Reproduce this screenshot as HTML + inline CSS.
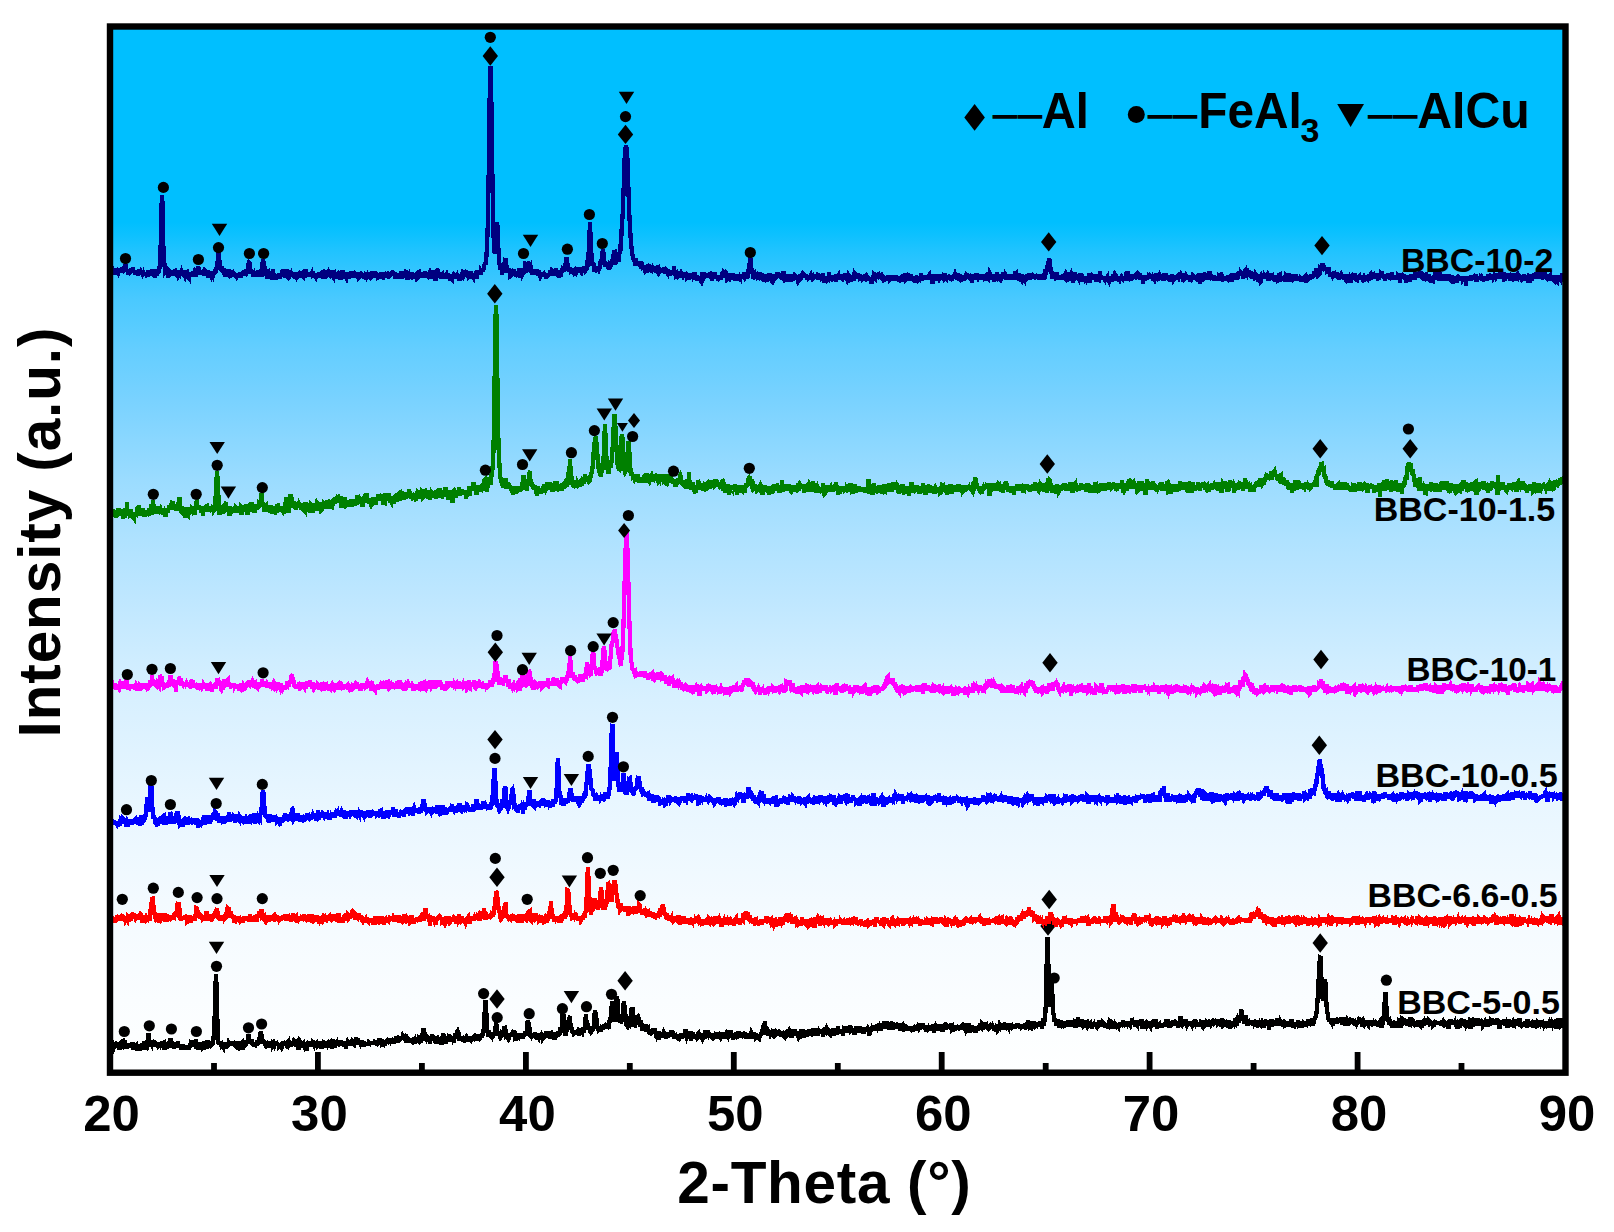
<!DOCTYPE html>
<html lang="en"><head><meta charset="utf-8"><title>XRD patterns</title>
<style>
html,body{margin:0;padding:0;background:#fff;}
body{width:1614px;height:1232px;overflow:hidden;}
svg{display:block;}
text{font-family:"Liberation Sans",Arial,Helvetica,sans-serif;font-weight:bold;fill:#000;}
.tk{font-size:50.6px;text-anchor:middle;}
.lb{font-size:32.3px;}
.lg{font-size:50px;}
.ds{font-size:23.4px;letter-spacing:1.6px;stroke:#000;stroke-width:1.3px;}
.ax{font-size:58.5px;}
.cv{shape-rendering:crispEdges;fill:none;stroke-width:4.3;stroke-linejoin:miter;stroke-miterlimit:3;stroke-linecap:butt;}
</style></head><body>
<svg width="1614" height="1232" viewBox="0 0 1614 1232">
<defs><linearGradient id="bg" x1="0" y1="0" x2="0" y2="1">
<stop offset="0" stop-color="#00bfff"/><stop offset="0.1869" stop-color="#00bfff"/><stop offset="0.1993" stop-color="#0dc1ff"/><stop offset="0.2136" stop-color="#1fc3ff"/><stop offset="0.2327" stop-color="#32c5ff"/><stop offset="0.2614" stop-color="#4ac9ff"/><stop offset="0.3092" stop-color="#64ceff"/><stop offset="0.357" stop-color="#79d2ff"/><stop offset="0.3952" stop-color="#8ad7ff"/><stop offset="0.4335" stop-color="#9bdcff"/><stop offset="0.4908" stop-color="#afe2ff"/><stop offset="0.5482" stop-color="#bfe7ff"/><stop offset="0.6055" stop-color="#cfedff"/><stop offset="0.6438" stop-color="#d8f0ff"/><stop offset="0.7393" stop-color="#e8f6ff"/><stop offset="0.8349" stop-color="#f3faff"/><stop offset="0.9305" stop-color="#fafdff"/><stop offset="0.9974" stop-color="#feffff"/>
</linearGradient></defs>
<rect x="0" y="0" width="1614" height="1232" fill="#fff"/>
<rect x="110.0" y="26.5" width="1455.5" height="1046.2" fill="url(#bg)"/>
<g id="c6">
<path class="cv" stroke="#000000" d="M110.0 1047.0l.5-2.1l.5 .2l.5-1.1l.5-.4l.5-.4l.5 4.1l.5 1.2l.5-1.4l.5-.4l.5-.1l.5-.9l.5 2.1l.5-3.5l.5 3.6l.5-2.5l.5 .1l.5-2.6l.5 2.3l.5 4.6l.5-5.4l.5-.7l.5 1.6l.5 1.3l.5 .2l.5-3.8l.5-1.9l.5-.3l.5 2.7l.5-3.0l.5 7.6l.5-4.4l.5 .9l.5 3.7l.5-5.2l.5 2.2l.5-1.2l.5 2.6l.5-2.5l.5 1.9l.5-2.1l.5 3.6l.5-2.9l.5-1.4l.5 3.3l.5-4.5l.5 7.5l.5-2.2l.5-.2l.5-.5l.5 2.2l.5-2.4l.5-.3l.5-.6l.5 1.7l.5 3.0l.5-5.2l.5 3.9l.5-1.4l.5 .4l.5 2.0l.5-1.7l.5-3.6l.5 1.8l.5-2.9l.5 3.2l.5-2.4l.5 4.9l.5-2.3l.5-6.2l.5 7.6l.5-4.3l.5-.7l.5 3.1l.5 .6l.5-2.1l.5-8.8l.5-3.1l.5 7.0l.5 1.0l.5-.9l.5 6.8l.5-2.9l.5 .8l.5-2.6l.5 2.4l.5-.3l.5 .1l.5-1.6l.5 .5l.5 1.9l.5-1.2l.5 .9l.5 .2l.5 0l.5 .7l.5-1.1l.5 2.5l.5-1.7l.5-3.0l.5 1.3l.5 1.1l.5-1.1l.5 3.1l.5-6.1l.5 4.8l.5 .3l.5-3.4l.5-.2l.5 7.4l.5-3.8l.5-.2l.5-2.4l.5 3.6l.5-2.6l.5 .2l.5 2.2l.5 1.2l.5-2.8l.5-4.0l.5 1.1l.5-4.0l.5 6.2l.5-1.6l.5-.2l.5 .7l.5 1.6l.5 1.8l.5 1.5l.5-1.4l.5-4.3l.5 1.0l.5 2.7l.5-2.1l.5 1.5l.5-3.0l.5-1.5l.5 3.8l.5 .5l.5 2.1l.5-2.7l.5 1.2l.5 3.1l.5-1.3l.5-1.8l.5-1.4l.5 3.4l.5-2.8l.5 4.1l.5-2.0l.5 .2l.5 2.2l.5-2.6l.5 1.0l.5-2.4l.5 1.4l.5 .3l.5-.6l.5 2.7l.5-3.8l.5 1.7l.5-3.0l.5 .8l.5-4.8l.5 6.0l.5-1.3l.5-.2l.5-1.8l.5 .1l.5 .3l.5 .2l.5 2.5l.5-6.7l.5 9.4l.5-3.9l.5-1.1l.5 5.5l.5-5.7l.5 2.3l.5-3.9l.5 7.1l.5-3.3l.5 1.2l.5 1.3l.5-4.2l.5 3.0l.5-.6l.5 2.6l.5-1.1l.5-6.7l.5 5.2l.5-4.4l.5 1.3l.5 .9l.5 4.5l.5-8.6l.5 3.4l.5-1.2l.5 2.2l.5 .4l.5-2.1l.5-2.0l.5 3.5l.5-2.3l.5 2.6l.5-.4l.5-.6l.5-5.3l.5-6.5l.5-10.5l.5-17.1l.5-20.2l.5-10.0l.5 10.2l.5 22.4l.5 16.7l.5 13.8l.5 5.5l.5 2.1l.5-4.1l.5 3.6l.5-3.3l.5 1.4l.5 3.1l.5-.6l.5-2.8l.5 5.0l.5 .7l.5-3.9l.5 0l.5-1.8l.5 3.0l.5 2.7l.5-1.1l.5-.2l.5-1.1l.5-.6l.5-1.9l.5 1.1l.5 1.2l.5-2.1l.5 .2l.5 0l.5 1.9l.5-1.7l.5 2.2l.5-2.1l.5-.3l.5 1.2l.5 .5l.5 .4l.5-3.9l.5 2.9l.5-.1l.5-1.5l.5 2.5l.5 .8l.5-3.8l.5 3.1l.5 1.3l.5-3.9l.5-1.7l.5 4.3l.5-1.5l.5-.7l.5 6.0l.5-3.8l.5-2.9l.5 2.0l.5 .3l.5 .4l.5-.7l.5-4.9l.5 3.4l.5-1.2l.5-.5l.5-4.5l.5-2.7l.5 8.7l.5-3.0l.5 3.5l.5-1.8l.5 1.5l.5-4.1l.5 4.6l.5 .3l.5-1.7l.5 2.1l.5 2.6l.5-4.7l.5 .8l.5 .8l.5-1.6l.5 2.9l.5-1.7l.5-3.1l.5 3.9l.5-3.1l.5 2.1l.5-4.9l.5 .1l.5-6.7l.5 1.5l.5 1.0l.5 4.2l.5 2.9l.5-.1l.5 .1l.5 .3l.5 1.2l.5 1.1l.5-.6l.5-.2l.5 2.7l.5-.4l.5-1.9l.5 .2l.5-2.6l.5 4.7l.5 1.7l.5-5.3l.5 5.6l.5-3.0l.5-1.0l.5 1.7l.5-1.1l.5 .9l.5-.1l.5-1.3l.5 1.3l.5-1.5l.5-2.0l.5 1.5l.5-.2l.5 2.8l.5-2.0l.5 1.3l.5-1.7l.5 3.4l.5-.4l.5-3.4l.5 1.7l.5 1.2l.5-.9l.5 1.6l.5-1.1l.5-2.2l.5 2.1l.5-2.3l.5-.3l.5 .5l.5 2.7l.5-4.8l.5 1.6l.5 3.6l.5 .3l.5-5.3l.5-.6l.5 3.5l.5 0l.5 .4l.5 1.4l.5-2.8l.5-1.5l.5 2.1l.5-.3l.5 1.5l.5-2.7l.5-1.7l.5 .6l.5-.3l.5-1.0l.5 6.9l.5-3.0l.5-2.1l.5-.6l.5 1.4l.5 6.8l.5-7.6l.5 5.0l.5-5.5l.5 .7l.5 4.7l.5-4.5l.5 5.3l.5-6.1l.5 1.7l.5-.4l.5 2.9l.5 1.1l.5-1.2l.5-.8l.5-.4l.5 6.6l.5-5.4l.5-2.5l.5 1.6l.5-3.8l.5 5.8l.5-5.2l.5 1.7l.5 .1l.5 .6l.5 1.1l.5 1.7l.5-1.6l.5-3.2l.5 .4l.5 1.2l.5 1.6l.5-1.2l.5-.6l.5 0l.5-.5l.5 1.7l.5-1.2l.5 .8l.5-1.1l.5 3.9l.5-4.6l.5 2.0l.5-.8l.5-2.0l.5 5.7l.5 1.3l.5-5.1l.5 2.3l.5-3.5l.5 .3l.5 1.1l.5 4.5l.5-5.2l.5 2.9l.5-1.1l.5 .7l.5-2.1l.5-.5l.5 1.5l.5 2.7l.5-6.8l.5 7.4l.5-5.2l.5 2.2l.5-.4l.5 4.7l.5-8.6l.5-1.0l.5 3.7l.5-2.0l.5 1.6l.5 5.5l.5-3.5l.5-1.8l.5-.2l.5-.7l.5 1.5l.5 .4l.5-2.7l.5 1.4l.5 .7l.5 .6l.5-.2l.5-3.5l.5 2.1l.5 .2l.5 3.1l.5-.9l.5-3.6l.5 3.1l.5 2.5l.5-1.6l.5 0l.5 3.2l.5-2.7l.5-1.6l.5-1.8l.5 1.1l.5-3.2l.5 5.5l.5-1.4l.5-1.3l.5-.6l.5 1.3l.5-1.7l.5-1.1l.5 .5l.5 2.5l.5-.1l.5 .6l.5-2.8l.5-1.2l.5 2.6l.5-5.8l.5 6.2l.5-1.4l.5 3.3l.5-6.5l.5 1.9l.5 3.4l.5-1.6l.5 .9l.5-2.8l.5 1.1l.5 1.0l.5-2.4l.5 3.8l.5-2.2l.5 4.7l.5-4.1l.5 1.3l.5-.1l.5-1.2l.5 1.9l.5 1.7l.5-2.1l.5 .1l.5-.5l.5 1.9l.5-2.7l.5 .5l.5-2.2l.5 3.3l.5-2.3l.5 2.3l.5-1.7l.5 2.4l.5-3.4l.5 3.5l.5-3.6l.5 3.0l.5-2.4l.5 .3l.5 1.1l.5 .3l.5 1.1l.5-3.9l.5 2.2l.5-.6l.5-2.2l.5-2.3l.5 4.3l.5-1.7l.5 0l.5-1.1l.5 4.3l.5-.4l.5 1.2l.5 .2l.5-1.1l.5-3.5l.5 5.1l.5-2.6l.5-1.5l.5 1.4l.5-2.8l.5 2.4l.5-1.6l.5 .6l.5-.6l.5 0l.5 .7l.5-2.3l.5 3.3l.5-1.1l.5-.2l.5 1.4l.5-1.9l.5 .6l.5 2.3l.5-3.6l.5 2.8l.5-2.6l.5-3.8l.5 6.3l.5-2.9l.5 0l.5 2.7l.5-1.3l.5-2.5l.5 .5l.5-.1l.5-1.0l.5-1.2l.5 2.1l.5-2.7l.5 2.8l.5-3.0l.5 .8l.5-.3l.5 2.5l.5 .4l.5-1.7l.5 .2l.5 5.4l.5-4.0l.5 2.8l.5-3.4l.5 .7l.5-1.0l.5 2.5l.5-2.6l.5 4.0l.5-1.7l.5-.1l.5 .6l.5-3.1l.5 2.1l.5 .4l.5 .2l.5-.8l.5 3.6l.5-3.9l.5 2.8l.5-2.4l.5-2.1l.5 3.1l.5-1.6l.5 1.2l.5 .6l.5-1.7l.5-1.1l.5 4.0l.5-5.3l.5-.2l.5 .9l.5-4.1l.5 1.0l.5-6.5l.5 9.3l.5 1.4l.5 .1l.5-.7l.5-.8l.5 1.1l.5-1.4l.5 .9l.5 1.4l.5 0l.5 1.8l.5-1.8l.5 4.4l.5-3.6l.5-3.4l.5 2.4l.5-5.1l.5 1.6l.5 4.6l.5-1.6l.5 .8l.5-1.7l.5 .5l.5 3.6l.5 .1l.5-4.1l.5-.1l.5 4.9l.5-3.1l.5 1.8l.5 .6l.5-.2l.5-2.2l.5 0l.5 .6l.5 4.7l.5-7.0l.5-1.2l.5 .6l.5-1.6l.5-.2l.5 1.0l.5 3.6l.5-2.9l.5 6.3l.5-2.5l.5-1.9l.5-2.0l.5 4.3l.5-2.8l.5-4.9l.5 8.6l.5-6.2l.5 1.2l.5 3.7l.5-1.0l.5-2.0l.5 1.2l.5-1.4l.5 3.1l.5 2.2l.5-6.0l.5-1.6l.5 .3l.5 1.1l.5-3.1l.5-2.2l.5-.7l.5 1.7l.5 .5l.5 1.9l.5 5.5l.5-2.4l.5 .3l.5 .4l.5-2.7l.5 1.7l.5 1.1l.5 2.2l.5-1.2l.5 .4l.5-.4l.5-3.0l.5 1.6l.5-.8l.5 2.9l.5-1.6l.5 .1l.5-2.8l.5 5.4l.5-1.0l.5-1.1l.5 0l.5 .5l.5-3.2l.5 1.3l.5 1.2l.5-2.5l.5 1.1l.5-.8l.5 .7l.5-2.1l.5 1.4l.5-.6l.5-.5l.5-2.2l.5 5.5l.5-4.3l.5 5.6l.5-3.2l.5 1.2l.5 .6l.5-.5l.5-3.1l.5-.4l.5 2.1l.5-2.5l.5-.5l.5-.1l.5-2.4l.5-9.4l.5-6.0l.5-13.9l.5-1.8l.5 2.4l.5 14.0l.5 10.8l.5 3.0l.5 5.3l.5-1.2l.5-4.4l.5 4.7l.5-3.0l.5 2.8l.5 .8l.5-.6l.5 .9l.5-1.6l.5 2.7l.5-2.0l.5-2.6l.5 2.8l.5-5.0l.5-3.9l.5-2.4l.5 .8l.5 5.0l.5 3.8l.5-2.3l.5 1.2l.5 .3l.5 2.2l.5 1.2l.5-1.4l.5 1.3l.5-.8l.5-4.5l.5 3.5l.5-.7l.5-3.3l.5 .9l.5-5.7l.5 3.1l.5 2.6l.5 3.6l.5-.7l.5 3.6l.5-1.5l.5 1.1l.5-1.6l.5 1.5l.5-1.3l.5-2.3l.5 2.5l.5-2.1l.5-.6l.5 1.9l.5-1.3l.5 0l.5 2.4l.5-4.1l.5-1.9l.5 5.9l.5 4.7l.5-6.7l.5 2.1l.5-3.7l.5 2.9l.5 2.2l.5-3.3l.5 1.1l.5-1.4l.5 1.6l.5 2.1l.5-1.8l.5-2.6l.5 3.1l.5 .2l.5 1.3l.5-2.1l.5-2.7l.5 1.2l.5-3.8l.5 4.2l.5-1.6l.5-.2l.5-2.5l.5-10.2l.5 1.6l.5 .8l.5 5.3l.5 .3l.5 .3l.5 6.6l.5 .7l.5-2.0l.5 2.6l.5-3.2l.5 3.9l.5-2.1l.5 .2l.5 .5l.5-1.7l.5 0l.5 4.4l.5-3.6l.5 3.7l.5-5.4l.5 3.1l.5-.3l.5 1.2l.5-1.7l.5 1.5l.5-3.4l.5 2.1l.5-1.1l.5 1.3l.5 2.8l.5-.7l.5-1.0l.5-4.4l.5 2.6l.5-2.3l.5 1.7l.5-.8l.5-2.3l.5 2.3l.5 .5l.5 2.5l.5-5.1l.5 4.3l.5-3.7l.5 4.6l.5 1.3l.5-5.7l.5-.4l.5 1.1l.5 3.0l.5-2.6l.5 .3l.5-1.8l.5 7.2l.5-7.5l.5 1.4l.5 .4l.5-.3l.5 1.6l.5-.6l.5 2.0l.5-2.4l.5-.4l.5 1.3l.5-3.8l.5 .4l.5-1.0l.5-2.3l.5-4.6l.5-9.3l.5 .9l.5-.9l.5 4.8l.5 8.0l.5 2.8l.5 5.2l.5-7.1l.5 2.5l.5-1.4l.5-1.3l.5-3.6l.5-2.7l.5-4.4l.5 2.4l.5-4.1l.5 10.3l.5 1.9l.5 .2l.5 4.4l.5-1.3l.5 2.3l.5-2.5l.5 2.4l.5-.5l.5 1.3l.5-4.3l.5 3.5l.5-1.3l.5-.5l.5 3.5l.5-2.0l.5 1.0l.5 1.4l.5-3.2l.5-1.0l.5-.1l.5-2.4l.5 4.2l.5-2.0l.5 1.1l.5-1.9l.5 .5l.5 1.5l.5-3.5l.5-5.5l.5-5.2l.5-3.4l.5 7.0l.5 2.0l.5 6.4l.5-6.5l.5 4.2l.5 .7l.5 .8l.5 3.4l.5-1.4l.5 .9l.5-.8l.5-2.4l.5-2.4l.5 3.7l.5-1.8l.5-6.9l.5-7.1l.5-3.6l.5 1.8l.5 10.7l.5-4.7l.5 8.4l.5 1.2l.5-1.3l.5 3.2l.5-3.0l.5 1.6l.5 1.6l.5 1.6l.5-2.2l.5-1.7l.5 .5l.5-.3l.5 1.3l.5-2.5l.5 .3l.5-.1l.5-1.3l.5 .3l.5-1.3l.5 3.4l.5-2.4l.5 .4l.5-2.8l.5 4.9l.5-1.2l.5-6.6l.5 1.5l.5-4.3l.5-1.9l.5-7.0l.5-8.1l.5 9.0l.5 2.1l.5 4.8l.5 3.8l.5 1.1l.5-3.1l.5 2.1l.5-9.7l.5-10.0l.5-5.0l.5 3.9l.5 9.7l.5 7.9l.5 4.8l.5-3.7l.5 .4l.5 4.1l.5-.9l.5-3.0l.5 .7l.5-1.9l.5-.6l.5-13.4l.5-2.8l.5 5.0l.5 4.6l.5 4.5l.5 6.1l.5 4.0l.5 .6l.5-3.4l.5 2.8l.5-2.6l.5 2.9l.5 .3l.5-4.9l.5-4.2l.5-3.2l.5-5.1l.5 .8l.5-2.2l.5 9.6l.5 3.6l.5 .7l.5 6.1l.5-1.3l.5-3.1l.5-5.4l.5 4.0l.5 1.4l.5-6.1l.5-.3l.5 1.7l.5 1.4l.5 5.5l.5-1.1l.5 3.4l.5-6.7l.5 3.6l.5 6.4l.5-5.5l.5 .8l.5-1.6l.5 1.5l.5 3.5l.5 .2l.5-3.7l.5-1.0l.5 3.9l.5 1.7l.5-2.2l.5-.3l.5 3.1l.5 2.4l.5-2.7l.5-1.5l.5 4.3l.5 .1l.5-1.2l.5 .1l.5-.8l.5-.2l.5-3.0l.5 4.2l.5-1.4l.5-.2l.5 2.1l.5 1.8l.5-.3l.5 1.7l.5-1.1l.5-2.9l.5 7.7l.5-6.3l.5-.3l.5 .8l.5 1.1l.5-3.4l.5 5.2l.5-1.5l.5-2.9l.5 1.0l.5-1.3l.5 1.1l.5 2.2l.5-2.3l.5 .4l.5 4.5l.5-3.0l.5 .5l.5 .1l.5 0l.5-4.0l.5 2.1l.5 2.4l.5-1.3l.5 1.7l.5-6.3l.5 1.7l.5 4.1l.5-5.1l.5 4.9l.5-1.0l.5 1.1l.5 2.0l.5-1.7l.5-.1l.5-.7l.5 1.1l.5 .5l.5-3.1l.5 3.7l.5-3.8l.5 1.4l.5 1.2l.5-1.7l.5 2.6l.5-2.9l.5 2.4l.5-.1l.5-2.3l.5-1.3l.5 4.6l.5-2.1l.5-.3l.5-2.7l.5-3.4l.5 6.5l.5 1.4l.5-1.4l.5 .2l.5-4.3l.5 1.6l.5 2.8l.5-2.5l.5 1.5l.5-1.4l.5 6.5l.5-4.1l.5-.6l.5-4.0l.5 7.0l.5-2.9l.5-1.7l.5 3.0l.5-1.8l.5 2.6l.5-3.0l.5 2.0l.5 1.1l.5-.5l.5-4.1l.5-.4l.5 2.6l.5 3.6l.5-5.0l.5 3.1l.5-3.6l.5 2.9l.5 1.0l.5 1.2l.5-1.4l.5-2.0l.5 3.7l.5-5.3l.5 4.6l.5-7.8l.5 3.7l.5 2.1l.5-3.2l.5-2.5l.5 3.5l.5 .9l.5-1.0l.5 3.1l.5-2.7l.5 3.1l.5-1.8l.5 .6l.5-1.6l.5-1.3l.5 3.4l.5-1.7l.5 2.4l.5-.4l.5-1.8l.5 .6l.5-.7l.5-.1l.5-2.6l.5 3.8l.5 2.4l.5-4.3l.5-1.7l.5 4.6l.5-1.5l.5 .9l.5 1.0l.5-.9l.5-2.8l.5-1.4l.5 2.8l.5-2.7l.5 5.7l.5-2.6l.5-.7l.5-.8l.5 2.8l.5 .1l.5-1.3l.5 .7l.5-6.8l.5 6.5l.5-2.0l.5-1.3l.5-1.1l.5-1.8l.5 2.6l.5 1.2l.5 .3l.5 2.1l.5 3.6l.5-7.1l.5 5.1l.5-4.3l.5 3.5l.5 .1l.5-5.1l.5 6.6l.5-2.9l.5 0l.5-1.3l.5-3.6l.5 3.7l.5-.9l.5 3.8l.5-5.3l.5 5.7l.5-1.8l.5 1.7l.5-3.7l.5-.3l.5 2.3l.5-2.6l.5 1.3l.5-2.1l.5 3.9l.5 .5l.5-.1l.5-.2l.5-1.0l.5 .1l.5-2.4l.5 4.6l.5-3.0l.5 3.1l.5-5.1l.5 3.2l.5-4.0l.5 .8l.5 3.0l.5-1.2l.5 .5l.5 .1l.5 3.4l.5-3.0l.5-3.2l.5 4.2l.5-.5l.5-2.0l.5 2.7l.5-2.7l.5 3.5l.5 .5l.5-2.5l.5-.1l.5-1.1l.5-1.8l.5 1.4l.5-2.5l.5-1.7l.5 .3l.5-4.5l.5-3.0l.5 .9l.5-3.0l.5 6.9l.5 1.5l.5 5.3l.5-4.0l.5 3.1l.5 0l.5-1.4l.5 1.1l.5-2.8l.5 2.0l.5 1.9l.5-1.0l.5 1.6l.5-2.3l.5 2.2l.5-5.4l.5 4.5l.5 3.4l.5-4.9l.5 2.9l.5-.6l.5 .9l.5-3.5l.5 .6l.5 .2l.5 1.3l.5-2.2l.5 1.6l.5 1.5l.5-2.6l.5 .6l.5 .9l.5 2.4l.5-5.8l.5 3.2l.5 .6l.5 .9l.5 .7l.5 .5l.5-5.3l.5 3.0l.5 .7l.5-2.2l.5 1.7l.5-4.7l.5 1.1l.5-1.5l.5 4.3l.5-.3l.5-2.5l.5 .8l.5 .7l.5 4.8l.5-5.0l.5 2.8l.5-1.1l.5 1.2l.5-2.4l.5-3.3l.5 3.5l.5 .3l.5-.3l.5-1.0l.5 3.4l.5-4.4l.5 4.0l.5 1.7l.5-1.2l.5-1.0l.5-1.2l.5 1.0l.5-1.9l.5 4.7l.5-3.3l.5-4.4l.5 3.6l.5 1.0l.5 3.4l.5-7.0l.5 6.5l.5-2.4l.5-3.5l.5 3.4l.5 2.0l.5-2.7l.5 1.2l.5-2.4l.5-.4l.5-2.5l.5 2.4l.5 1.0l.5 1.4l.5 .1l.5-3.4l.5 2.3l.5-4.8l.5 3.2l.5-3.0l.5 3.5l.5-1.4l.5 1.5l.5 3.4l.5-5.7l.5-1.1l.5 3.2l.5 3.1l.5-1.9l.5-1.6l.5 .9l.5 1.1l.5-2.4l.5-2.3l.5 4.6l.5-.9l.5-.7l.5 4.6l.5-2.4l.5-4.2l.5 2.7l.5-1.8l.5 0l.5-1.6l.5-1.2l.5 1.2l.5 3.3l.5 2.4l.5-3.7l.5-1.1l.5 3.3l.5 .6l.5-2.8l.5 .3l.5-1.9l.5 2.4l.5-.4l.5-3.1l.5 5.2l.5 1.3l.5-3.5l.5-1.1l.5-.2l.5 .4l.5 1.9l.5-.2l.5-3.0l.5-3.2l.5 4.6l.5-.1l.5 1.2l.5-.3l.5 2.3l.5-3.2l.5 2.1l.5-3.4l.5 1.7l.5 4.9l.5-6.6l.5-1.7l.5 .1l.5 .2l.5-.2l.5 .7l.5 1.8l.5 2.4l.5-4.2l.5-.4l.5 2.5l.5-3.2l.5 .9l.5-1.0l.5 0l.5 3.0l.5-.6l.5 1.2l.5-2.8l.5 3.2l.5-2.0l.5 2.0l.5 3.5l.5-5.3l.5-.5l.5-.8l.5-1.9l.5 4.8l.5-2.7l.5 1.7l.5-.4l.5-.2l.5-1.3l.5 2.1l.5-.2l.5-2.3l.5-.9l.5 5.1l.5-2.8l.5-2.4l.5 6.6l.5-1.0l.5-2.4l.5-2.3l.5 2.4l.5-2.3l.5 3.2l.5-2.2l.5-.8l.5 1.3l.5 .8l.5 5.3l.5-6.6l.5 1.7l.5 .4l.5-3.4l.5 1.9l.5-1.3l.5 .8l.5-.1l.5 1.7l.5-3.6l.5 3.3l.5-4.9l.5 4.0l.5-4.4l.5 1.1l.5 3.1l.5-3.2l.5 1.8l.5-.8l.5 3.6l.5-7.1l.5 2.7l.5 .9l.5 3.1l.5-2.8l.5-1.2l.5-2.9l.5 1.9l.5-1.1l.5-3.0l.5 3.6l.5-1.6l.5-2.1l.5 5.9l.5 .2l.5-6.3l.5 8.4l.5-2.3l.5-.3l.5-.3l.5-.1l.5 .2l.5-2.6l.5-.2l.5 3.9l.5-1.6l.5 3.8l.5-5.3l.5 2.7l.5-3.1l.5 .1l.5-1.1l.5 5.8l.5-4.6l.5 .8l.5-1.0l.5 4.1l.5-3.3l.5 .2l.5 .3l.5 1.8l.5 3.3l.5-7.3l.5 5.4l.5 0l.5 1.1l.5-2.8l.5-1.1l.5 1.4l.5 2.2l.5-.4l.5-2.9l.5 .2l.5 2.3l.5 2.6l.5-3.0l.5 1.8l.5-2.8l.5 2.1l.5-2.0l.5 1.5l.5-2.1l.5 2.9l.5 .4l.5-1.7l.5-2.1l.5 2.9l.5 0l.5 .4l.5-.8l.5 2.0l.5-4.8l.5 3.6l.5-1.4l.5 2.2l.5-2.7l.5 .2l.5-1.4l.5 .7l.5 1.4l.5-.9l.5-2.7l.5 1.0l.5 1.4l.5-3.7l.5 4.2l.5 1.3l.5-4.9l.5 1.4l.5 2.4l.5-2.7l.5 2.1l.5 1.3l.5 2.6l.5-2.1l.5 1.9l.5-2.8l.5 1.3l.5-.4l.5-1.5l.5 .7l.5-.3l.5 1.7l.5-3.0l.5 1.4l.5-1.5l.5 4.4l.5-1.7l.5-4.7l.5 7.9l.5-4.0l.5 .3l.5-1.5l.5-1.5l.5 .7l.5 2.4l.5-3.1l.5 4.8l.5-6.6l.5 6.0l.5-2.8l.5-2.0l.5 3.2l.5 .3l.5 0l.5-1.5l.5 4.6l.5-6.1l.5-.9l.5 4.5l.5-1.8l.5-3.0l.5-.2l.5 5.3l.5-2.4l.5 1.4l.5-4.4l.5 4.0l.5-1.5l.5 .2l.5 .5l.5-1.7l.5 1.8l.5 .8l.5-4.6l.5 4.6l.5-.7l.5 4.1l.5-3.0l.5-1.7l.5 1.7l.5 0l.5-3.8l.5 4.2l.5-1.2l.5 1.9l.5-2.0l.5-1.2l.5 .1l.5 .3l.5 1.1l.5-.4l.5-.6l.5-.6l.5 3.3l.5-1.4l.5-4.6l.5 2.5l.5 1.4l.5-2.4l.5-.1l.5-2.3l.5 5.0l.5 1.9l.5-1.1l.5 3.8l.5-1.9l.5-5.6l.5 3.7l.5-5.1l.5 4.0l.5 4.7l.5-2.5l.5-2.4l.5 .5l.5-.6l.5-.1l.5-1.2l.5 3.6l.5 1.1l.5-4.1l.5 4.2l.5 1.9l.5-5.6l.5 2.4l.5-1.1l.5-.5l.5 .3l.5 .3l.5 1.6l.5-3.1l.5 .1l.5-3.7l.5 4.7l.5 .3l.5-4.5l.5 .6l.5 3.7l.5-.2l.5 1.1l.5-7.0l.5 5.6l.5-1.7l.5-.5l.5-.3l.5 3.5l.5-1.3l.5 1.3l.5 .3l.5-.8l.5 0l.5-1.1l.5-1.1l.5-1.0l.5 .2l.5 1.0l.5 2.1l.5-1.5l.5 1.0l.5 2.7l.5-1.7l.5-.5l.5 .7l.5 2.2l.5-4.8l.5 .4l.5 3.6l.5-.7l.5-1.3l.5-1.0l.5 .2l.5-3.3l.5 .6l.5 2.1l.5-.8l.5 .6l.5 2.5l.5-3.3l.5 2.6l.5-5.8l.5 1.5l.5 1.4l.5-2.2l.5 5.1l.5-1.8l.5 1.3l.5-.4l.5-.5l.5 .8l.5-2.7l.5 4.3l.5-6.0l.5 3.9l.5-.9l.5-.5l.5 1.7l.5-.4l.5-3.0l.5 3.7l.5-2.5l.5 2.7l.5-1.7l.5 .1l.5 1.1l.5-2.7l.5 .1l.5 1.3l.5-3.7l.5 5.4l.5-2.2l.5-1.8l.5 1.7l.5-1.5l.5 1.5l.5-1.2l.5 3.0l.5-3.3l.5 2.8l.5-2.6l.5 3.9l.5-1.5l.5 .5l.5 .1l.5-4.1l.5 1.5l.5-2.6l.5 2.4l.5-2.5l.5-1.3l.5 2.6l.5 1.8l.5 1.8l.5 3.0l.5-6.1l.5 1.3l.5-1.1l.5 .4l.5 1.8l.5-.7l.5-2.6l.5-.1l.5 1.4l.5-1.2l.5 2.2l.5 .3l.5-1.5l.5-2.1l.5 3.7l.5-2.8l.5 2.9l.5-2.3l.5 .1l.5 2.4l.5-1.9l.5-.5l.5 5.2l.5-6.0l.5 .6l.5-1.4l.5-1.5l.5 .6l.5-2.3l.5-8.3l.5-11.7l.5-25.4l.5-28.3l.5-7.8l.5 12.8l.5 19.4l.5 23.5l.5 7.3l.5 6.0l.5-4.9l.5-12.4l.5-8.9l.5 7.3l.5 9.3l.5 18.2l.5-2.0l.5 5.5l.5 3.1l.5-2.5l.5 .9l.5 6.0l.5-4.4l.5 3.5l.5-5.9l.5 4.3l.5-3.9l.5 7.7l.5-3.9l.5-.3l.5-3.3l.5 5.2l.5 .7l.5-.6l.5 .3l.5-2.2l.5-1.8l.5 6.0l.5-4.4l.5 1.0l.5-.4l.5-1.8l.5 4.7l.5-4.3l.5 3.6l.5-1.6l.5-3.6l.5 3.4l.5-3.8l.5 2.9l.5 .6l.5 .8l.5-.1l.5 .1l.5 .2l.5-2.2l.5-2.1l.5 5.3l.5-2.5l.5 .8l.5 3.2l.5-3.2l.5-2.6l.5 5.0l.5-6.8l.5-2.4l.5 9.4l.5-6.0l.5-1.0l.5 3.6l.5 2.6l.5-5.2l.5-1.5l.5 6.2l.5 .4l.5-4.2l.5 2.6l.5-.9l.5 .7l.5 .8l.5-.8l.5 .2l.5-2.0l.5-.3l.5 1.9l.5 2.4l.5-.7l.5-3.0l.5 2.0l.5-1.4l.5-.4l.5 3.8l.5 .1l.5 1.3l.5-1.7l.5-4.3l.5 2.5l.5-.7l.5 1.4l.5-2.8l.5 2.0l.5 1.2l.5 .7l.5-2.5l.5 1.4l.5 .8l.5-.9l.5-2.5l.5 .2l.5 .8l.5 2.9l.5-1.7l.5-2.1l.5-.9l.5 .6l.5 4.7l.5-1.5l.5-3.7l.5 4.5l.5-1.6l.5 .3l.5-.2l.5-1.8l.5 5.2l.5-3.9l.5 4.2l.5-.8l.5-1.5l.5-4.3l.5 .7l.5-.4l.5 1.5l.5 5.4l.5-6.1l.5 3.9l.5-3.7l.5 .3l.5 .2l.5 5.3l.5-2.1l.5-2.3l.5 .8l.5-1.7l.5 3.8l.5-3.6l.5 1.8l.5 .8l.5-3.5l.5 3.4l.5-4.0l.5 1.3l.5 1.0l.5 .2l.5-1.4l.5 1.9l.5-3.4l.5-1.1l.5 3.6l.5-.3l.5-3.3l.5 4.2l.5-.2l.5-.8l.5 .6l.5-1.4l.5-2.0l.5 2.0l.5-1.4l.5 2.1l.5 .8l.5-3.4l.5 1.8l.5-1.5l.5 .6l.5-.6l.5 2.6l.5-1.2l.5 .4l.5-2.9l.5 4.3l.5 1.6l.5-3.8l.5 .9l.5 .8l.5 .8l.5-2.7l.5-.1l.5 .3l.5 1.5l.5 .9l.5-4.9l.5 3.4l.5-4.8l.5 6.3l.5 3.3l.5-7.2l.5 2.3l.5 .4l.5-1.6l.5 4.5l.5-1.6l.5-1.1l.5 1.5l.5-1.2l.5-3.5l.5 3.5l.5-1.0l.5-.9l.5-1.4l.5 5.2l.5 .7l.5-3.9l.5 1.1l.5-1.3l.5 .4l.5 3.0l.5-4.2l.5-2.6l.5 4.8l.5-1.2l.5 .1l.5-.5l.5 2.7l.5 3.8l.5-4.8l.5 .7l.5-.6l.5-.4l.5 3.2l.5-3.4l.5 2.1l.5-1.4l.5 3.2l.5-4.9l.5 3.1l.5-1.2l.5 .1l.5 .1l.5-.5l.5 2.1l.5-3.7l.5 .5l.5-1.5l.5 2.7l.5-5.1l.5 4.6l.5-2.1l.5 1.7l.5 3.6l.5-1.4l.5-4.1l.5 2.7l.5-3.1l.5 2.3l.5-.3l.5-2.7l.5 1.9l.5-.5l.5 2.4l.5-3.9l.5 4.7l.5-1.8l.5-2.6l.5 2.8l.5 .7l.5 3.5l.5-6.4l.5 1.0l.5 4.1l.5-1.9l.5-8.3l.5 2.8l.5 6.1l.5 .5l.5-.9l.5-1.3l.5 .7l.5 1.5l.5-2.9l.5 .5l.5-2.6l.5-1.5l.5 4.2l.5 2.0l.5-1.0l.5-.2l.5-.1l.5-1.0l.5 2.5l.5-3.0l.5 0l.5 .8l.5-1.7l.5 1.7l.5 1.4l.5-1.3l.5-1.0l.5 .4l.5 .7l.5-2.4l.5 .1l.5 .6l.5 3.5l.5 1.2l.5-4.3l.5 1.8l.5-1.7l.5 1.9l.5 1.7l.5-2.1l.5-1.3l.5 .8l.5 .1l.5-.4l.5 1.5l.5-1.2l.5 .6l.5-3.7l.5 5.1l.5-.7l.5-3.8l.5 4.5l.5-2.1l.5 .9l.5 2.7l.5-4.6l.5 1.3l.5 .4l.5-2.6l.5 .1l.5 .1l.5 .1l.5 2.1l.5-.8l.5-2.5l.5-.5l.5 .5l.5-.9l.5 2.9l.5-.6l.5 1.5l.5-1.8l.5 2.2l.5-3.5l.5 2.4l.5-.8l.5-2.2l.5 1.3l.5 2.2l.5 .8l.5-.8l.5-1.4l.5-1.6l.5-2.1l.5 3.2l.5 3.3l.5-.7l.5 2.1l.5-3.5l.5-.2l.5 4.0l.5-2.5l.5 .5l.5 0l.5 1.8l.5 .8l.5-4.4l.5 0l.5 2.2l.5 3.7l.5-1.6l.5-1.7l.5 .5l.5 1.3l.5-3.9l.5-.1l.5 .2l.5 .8l.5-1.6l.5 .9l.5 .5l.5-2.0l.5 .8l.5 .3l.5-2.3l.5-2.1l.5 .9l.5 2.8l.5-2.7l.5-1.2l.5-2.0l.5-5.0l.5 .1l.5 8.0l.5-1.3l.5 2.0l.5-2.9l.5 6.6l.5-3.0l.5-2.0l.5-3.0l.5 3.6l.5 2.5l.5-2.2l.5 5.9l.5-2.3l.5-.7l.5 1.9l.5-2.6l.5 .2l.5 2.5l.5-1.0l.5-.1l.5-.8l.5-.2l.5 2.5l.5-2.7l.5 1.4l.5-.8l.5 1.4l.5 2.6l.5-5.1l.5 .8l.5-.7l.5-1.8l.5 5.4l.5-.1l.5-2.6l.5 2.6l.5-2.2l.5 .8l.5-1.6l.5-.6l.5 1.7l.5-1.2l.5 .3l.5 5.1l.5-4.2l.5-2.0l.5-.1l.5 1.5l.5 2.1l.5-4.8l.5 3.2l.5-.1l.5-.5l.5-1.0l.5 7.6l.5-5.6l.5-1.9l.5 1.5l.5 3.7l.5-7.6l.5 3.2l.5 .6l.5 .4l.5 .5l.5-.5l.5 1.5l.5-3.2l.5 2.4l.5-3.1l.5 2.5l.5-5.2l.5 4.7l.5-2.4l.5-.2l.5 5.6l.5-5.0l.5 2.7l.5-2.7l.5 .9l.5 2.4l.5-3.9l.5 1.5l.5-.2l.5 5.1l.5-4.7l.5 2.2l.5-.6l.5-.5l.5 .9l.5-.7l.5-2.4l.5 3.5l.5-1.2l.5 0l.5 2.6l.5-3.5l.5 2.4l.5-1.8l.5 .9l.5-5.0l.5 4.7l.5 .2l.5 .2l.5 3.0l.5-1.6l.5 .3l.5-2.0l.5-1.3l.5 3.3l.5-1.7l.5-2.0l.5 1.7l.5-4.1l.5 5.5l.5-.5l.5 1.7l.5-4.1l.5 5.5l.5-6.0l.5 .9l.5 4.6l.5-3.9l.5-.9l.5 .5l.5-1.0l.5 4.1l.5-.9l.5-2.4l.5 1.2l.5 .3l.5-3.5l.5 2.1l.5-3.8l.5 6.7l.5-1.9l.5-2.6l.5-1.0l.5 3.1l.5-.2l.5 .2l.5-5.8l.5 3.4l.5 3.9l.5-1.9l.5-2.0l.5-1.6l.5-1.1l.5-1.1l.5-1.9l.5-2.8l.5-4.1l.5-7.3l.5-8.2l.5-8.6l.5-16.2l.5-6.2l.5-4.6l.5 .3l.5 8.4l.5 14.0l.5 8.9l.5 8.7l.5 2.8l.5-9.1l.5-1.3l.5-7.6l.5-2.8l.5 3.1l.5 11.5l.5 10.3l.5 5.7l.5 2.7l.5 2.5l.5 3.3l.5 3.0l.5-3.3l.5 1.7l.5 .1l.5 1.4l.5 .9l.5-2.8l.5 2.1l.5 .4l.5-4.2l.5 3.8l.5-1.0l.5-3.0l.5 3.4l.5-.1l.5 1.7l.5-1.3l.5-1.9l.5 .3l.5-1.5l.5 1.4l.5 .4l.5 2.0l.5-1.6l.5-3.8l.5 5.2l.5-2.6l.5 4.8l.5-2.4l.5 2.6l.5-7.4l.5 5.4l.5 2.8l.5-4.8l.5-.7l.5 2.7l.5 3.2l.5-2.9l.5-2.3l.5 2.8l.5-1.5l.5-.9l.5 1.4l.5-.5l.5 1.6l.5-4.7l.5 3.0l.5 .5l.5 .5l.5 .3l.5-3.9l.5 1.2l.5 .9l.5 .7l.5 .4l.5-1.4l.5 2.6l.5-.9l.5-1.0l.5 2.1l.5-6.4l.5 4.3l.5-2.2l.5 4.0l.5-1.9l.5 .8l.5-1.1l.5 5.1l.5-3.2l.5-1.9l.5 1.1l.5-1.3l.5 2.8l.5-.9l.5 .5l.5 1.1l.5-2.3l.5 1.9l.5 .6l.5-4.2l.5 1.1l.5 3.0l.5-3.6l.5 4.1l.5-1.9l.5-1.3l.5-1.1l.5 4.1l.5-1.0l.5 2.1l.5-3.6l.5-2.5l.5 3.8l.5-1.8l.5 3.0l.5-2.4l.5 .3l.5 2.4l.5-3.8l.5 5.7l.5-6.5l.5 2.9l.5-2.2l.5-.7l.5 1.7l.5 5.2l.5-4.6l.5 2.1l.5-5.2l.5-3.2l.5-.2l.5-11.3l.5-7.8l.5-5.1l.5 8.5l.5 7.9l.5 8.4l.5 2.8l.5 .8l.5 .1l.5 4.3l.5-2.7l.5 .4l.5-1.5l.5 1.0l.5 2.0l.5 3.5l.5-5.4l.5 1.1l.5 2.7l.5-2.1l.5-1.0l.5 .4l.5-2.4l.5 2.2l.5 4.3l.5-3.0l.5-1.6l.5 1.5l.5-2.3l.5 .7l.5 2.2l.5-2.9l.5 .7l.5 4.4l.5-2.4l.5-6.2l.5 .4l.5 3.4l.5 .2l.5-4.4l.5 4.7l.5-2.6l.5 2.5l.5 .1l.5-.1l.5-1.9l.5 4.4l.5-1.1l.5-4.8l.5 5.1l.5 .4l.5 .1l.5-5.9l.5 0l.5 2.4l.5 3.5l.5-4.6l.5 3.3l.5 .4l.5-1.3l.5 1.0l.5-.4l.5-1.5l.5 1.6l.5 2.9l.5-1.0l.5-2.6l.5-2.9l.5 5.6l.5-2.7l.5 2.1l.5 .5l.5-4.1l.5 3.9l.5-.2l.5 2.8l.5-8.2l.5 3.0l.5-.8l.5 3.1l.5-1.5l.5-.3l.5-1.6l.5-1.4l.5 2.7l.5-2.2l.5-1.8l.5 5.4l.5-4.0l.5 .6l.5 .5l.5 3.3l.5 1.2l.5-4.4l.5 1.7l.5 1.4l.5-3.4l.5 3.7l.5-.7l.5 2.5l.5-2.3l.5-3.7l.5 2.4l.5 1.5l.5-1.6l.5 .1l.5-.1l.5-1.0l.5 2.6l.5-2.8l.5 1.4l.5 1.3l.5-2.7l.5 4.3l.5-2.4l.5-1.8l.5-1.0l.5 2.9l.5-1.5l.5 1.2l.5-1.3l.5 .3l.5 .4l.5 .7l.5-.8l.5-.9l.5 3.6l.5-.4l.5 4.0l.5-9.3l.5 3.6l.5 1.3l.5-5.2l.5 4.4l.5-1.3l.5-1.4l.5 1.5l.5-1.5l.5-1.0l.5 2.9l.5-.9l.5 2.6l.5-3.7l.5 2.4l.5-.5l.5 1.6l.5 3.7l.5-4.3l.5-1.8l.5-.3l.5 4.2l.5-.2l.5-5.3l.5 2.3l.5 1.3l.5-2.0l.5 3.1l.5-3.0l.5 .7l.5-2.2l.5 0l.5 .9l.5 2.5l.5 1.5l.5-.8l.5 0l.5 .4l.5-1.9l.5-.9l.5 1.1l.5 1.5l.5-3.2l.5-4.2l.5 11.5l.5-6.7l.5 1.3l.5 1.0l.5 2.1l.5-3.4l.5-3.3l.5 .3l.5 5.4l.5-5.3l.5-1.4l.5 5.1l.5-6.0l.5 6.9l.5-3.0l.5-.6l.5 1.5l.5 2.8l.5-2.1l.5-.4l.5-3.4l.5 2.4l.5-1.1l.5 .4l.5 3.9l.5-.8l.5 1.4l.5-4.1l.5 0l.5-1.1l.5 .7l.5-2.4l.5 1.1l.5 2.9l.5 3.0l.5-3.2l.5 .4l.5 2.0l.5-3.9l.5 1.3l.5-2.9l.5 .4l.5-.1l.5 2.5l.5 1.6l.5-1.9l.5-3.3l.5 2.6l.5 2.4l.5-1.8l.5-2.5l.5 4.3l.5-5.6l.5 5.6l.5-4.5l.5 2.1l.5 2.4l.5 4.8l.5-6.3l.5-1.7l.5 2.4l.5 1.4l.5-2.2l.5 2.4l.5-5.1l.5 3.9l.5-4.4l.5 3.8l.5 1.9l.5-1.5l.5-.1l.5-1.1l.5 1.4l.5 3.7l.5-5.7l.5 0l.5-.2l.5 2.8l.5 1.5l.5-2.0l.5 2.3l.5-1.5l.5-1.0l.5 2.2l.5-2.7l.5 2.5l.5 .2l.5-2.8l.5 .8l.5-.9l.5-2.7l.5 1.3l.5 .5l.5-2.2l.5 3.8l.5 .3l.5-2.6l.5-3.3l.5 8.2l.5-3.3l.5 1.8l.5 .6l.5-.8l.5-1.2l.5 3.2l.5-2.6l.5 2.8l.5-3.6l.5 2.0l.5-4.2l.5 3.0l.5 1.8l.5 .1l.5-6.8l.5 2.8l.5 0l.5 3.6l.5-4.2l.5 3.6l.5-1.9l.5 3.5l.5-2.1l.5-.7l.5 2.2l.5 1.5l.5-7.3l.5 5.3l.5-2.0l.5 1.1l.5-.1l.5 .1l.5 1.9l.5-.1l.5-3.8l.5 .5l.5 .4l.5 .3l.5-.5l.5 .8l.5-2.6l.5 3.5l.5-4.5l.5 5.1l.5-1.0l.5 2.2l.5-1.7l.5 1.2l.5-.7l.5-1.2l.5 .5l.5-3.2l.5 3.4l.5-.3l.5-1.3l.5 4.5l.5-2.4l.5-2.5l.5 1.1l.5-2.0l.5 .8l.5 4.8l.5-4.0l.5-2.0l.5 .7l.5 1.9l.5-1.1l.5-.6l.5 1.6l.5 .3l.5-1.8l.5 2.0l.5 3.7l.5-5.5l.5-2.5l.5 0l.5 2.1l.5 1.7l.5 2.6l.5-4.6l.5 3.5l.5-.6l.5-1.5l.5-.8l.5-4.1l.5 6.9l.5 .5l.5-5.2l.5 1.4l.5 2.4l.5-1.6"/>
<g fill="#000"><circle cx="124.3" cy="1031.5" r="5.6"/><circle cx="149.3" cy="1025.8" r="5.6"/><circle cx="171.4" cy="1029" r="5.6"/><circle cx="196.4" cy="1031.5" r="5.6"/><circle cx="216.5" cy="966.3" r="5.6"/><circle cx="248.5" cy="1027.8" r="5.6"/><circle cx="261.6" cy="1024" r="5.6"/><circle cx="483.6" cy="993.6" r="5.6"/><circle cx="497.2" cy="1017.6" r="5.6"/><circle cx="529.2" cy="1013.7" r="5.6"/><circle cx="562.4" cy="1008.7" r="5.6"/><circle cx="586.5" cy="1006.7" r="5.6"/><circle cx="611.5" cy="994.3" r="5.6"/><circle cx="1054.2" cy="978" r="5.6"/><circle cx="1386.4" cy="980.2" r="5.6"/><path d="M497.0 989.3L504.7 999.0L497.0 1008.7L489.3 999.0Z"/><path d="M625.1 971.0L632.8 980.7L625.1 990.4L617.4 980.7Z"/><path d="M1048.0 916.4L1055.7 926.1L1048.0 935.8L1040.3 926.1Z"/><path d="M1320.2 933.3L1327.9 943.0L1320.2 952.7L1312.5 943.0Z"/><path d="M208.8 941.8L224.2 941.8L216.5 954.0Z"/><path d="M563.7 991.0L579.1 991.0L571.4 1003.2Z"/></g></g>
<g id="c5">
<path class="cv" stroke="#ff0000" d="M110.0 920.6l.5-7.2l.5 5.1l.5 3.4l.5-5.1l.5 2.5l.5 2.7l.5-5.1l.5 3.6l.5 2.0l.5-2.9l.5 2.2l.5-3.5l.5-.5l.5 1.6l.5-3.7l.5 4.8l.5-2.2l.5-2.7l.5 4.5l.5-1.0l.5-1.9l.5-.6l.5 2.0l.5-3.6l.5 .9l.5 4.8l.5-1.8l.5 1.8l.5-2.0l.5 2.8l.5-5.2l.5 4.3l.5-.6l.5 .3l.5 .7l.5-3.9l.5 .6l.5 3.6l.5-1.5l.5-.6l.5-4.6l.5 6.4l.5-2.7l.5 .8l.5-5.2l.5 3.9l.5-5.1l.5 5.9l.5-1.4l.5 .5l.5-2.2l.5 2.6l.5-.8l.5-3.0l.5 3.9l.5-.9l.5-2.4l.5 4.8l.5-4.5l.5 1.2l.5-2.2l.5 .4l.5 4.2l.5 3.8l.5-5.8l.5 .7l.5 0l.5 2.6l.5 2.7l.5-3.9l.5-1.0l.5 2.2l.5-.6l.5-1.8l.5 .6l.5-2.0l.5 1.7l.5-3.1l.5 5.1l.5-.8l.5-8.8l.5-3.5l.5-3.3l.5-4.7l.5-.4l.5 0l.5 9.1l.5 .3l.5 6.0l.5 1.9l.5-1.1l.5 .5l.5 3.3l.5-.6l.5 1.4l.5-5.8l.5 7.3l.5 .8l.5 .8l.5-4.3l.5-1.2l.5 2.5l.5-.8l.5 1.6l.5-6.6l.5 4.0l.5 1.2l.5-2.6l.5-.2l.5 5.6l.5-2.6l.5-3.1l.5 5.4l.5-4.2l.5-1.0l.5 .3l.5 .5l.5 2.3l.5-1.2l.5 .5l.5-1.6l.5 2.1l.5-3.0l.5 2.1l.5-3.1l.5 4.1l.5-.9l.5-2.2l.5 .6l.5-1.9l.5-.2l.5 .2l.5-.3l.5-8.9l.5-1.8l.5-.3l.5-1.2l.5 4.5l.5 8.3l.5-.7l.5 6.0l.5-1.3l.5-.9l.5 0l.5 .3l.5-.1l.5-.3l.5-1.9l.5 1.7l.5 1.6l.5-2.9l.5-.2l.5 .9l.5 4.8l.5-.4l.5-1.5l.5-2.3l.5 2.9l.5-5.7l.5 4.7l.5-1.4l.5 4.1l.5-3.4l.5-2.2l.5 1.4l.5-2.0l.5 2.3l.5-1.9l.5 2.2l.5 .1l.5-4.7l.5 4.1l.5-10.2l.5 .3l.5 2.8l.5 1.6l.5 4.9l.5-2.6l.5 1.2l.5 2.2l.5-2.7l.5 2.3l.5-2.2l.5 .4l.5 2.7l.5-.5l.5-2.7l.5 4.7l.5-5.5l.5 3.4l.5-.2l.5-4.2l.5-2.7l.5 1.3l.5 3.9l.5 4.2l.5-3.6l.5-3.0l.5 3.0l.5-2.2l.5 6.2l.5-1.5l.5-.2l.5-5.3l.5 .8l.5 .6l.5 1.6l.5-.4l.5-1.4l.5 1.8l.5-6.4l.5 1.6l.5-2.8l.5-1.4l.5 4.1l.5 7.0l.5-1.6l.5-2.4l.5 2.7l.5-.2l.5 2.2l.5-2.6l.5 3.0l.5-2.2l.5-.5l.5 3.3l.5-1.4l.5-4.3l.5 3.5l.5-.7l.5 0l.5 .8l.5-6.9l.5 1.9l.5-5.3l.5 .6l.5-1.8l.5 5.3l.5 4.8l.5-1.8l.5 2.3l.5-6.3l.5 3.1l.5 .4l.5 1.7l.5 .1l.5 1.9l.5-3.6l.5 6.0l.5 .1l.5-5.3l.5 2.7l.5 2.3l.5-4.3l.5 1.3l.5 1.9l.5 .5l.5-1.5l.5-.4l.5 1.5l.5-1.1l.5 2.6l.5-2.6l.5-.3l.5-1.0l.5 5.1l.5-4.3l.5-1.7l.5 3.6l.5-2.2l.5 2.2l.5-1.5l.5 .2l.5-.2l.5 .5l.5-1.1l.5-1.5l.5 2.0l.5 .3l.5-4.4l.5 2.2l.5 1.3l.5 1.0l.5 1.9l.5-1.3l.5-.1l.5-1.0l.5 .7l.5-.6l.5 1.4l.5-5.2l.5 3.5l.5 3.3l.5-4.8l.5-2.0l.5 1.1l.5 .4l.5 1.6l.5-6.9l.5 1.6l.5 .6l.5-3.0l.5-.8l.5 6.8l.5-.5l.5 .7l.5 .9l.5-.6l.5 3.2l.5 .7l.5-1.5l.5 1.1l.5-1.3l.5-.8l.5 .8l.5-1.0l.5 .4l.5-.2l.5 3.1l.5-6.1l.5 2.5l.5 2.3l.5-2.7l.5 1.0l.5 .4l.5-.3l.5 .4l.5-1.8l.5 .5l.5-1.2l.5 1.3l.5-.8l.5-1.5l.5 2.9l.5 .5l.5 .3l.5-.2l.5 1.3l.5-.8l.5-.4l.5 1.7l.5-2.0l.5-1.9l.5 2.9l.5-1.4l.5-3.3l.5 2.3l.5-1.1l.5 2.8l.5-1.1l.5-3.2l.5 1.6l.5 4.5l.5-2.4l.5 .3l.5-.8l.5 .9l.5 2.1l.5-1.4l.5-1.4l.5 .8l.5 2.6l.5-2.0l.5-1.5l.5 3.2l.5-5.2l.5-2.1l.5 3.9l.5 1.0l.5 .3l.5-3.4l.5 2.7l.5-.8l.5 2.8l.5-.1l.5-1.5l.5-2.0l.5 2.7l.5-.7l.5-.2l.5 .3l.5 1.5l.5-3.9l.5-1.0l.5 2.8l.5 .5l.5-.9l.5-3.4l.5 3.1l.5-.4l.5 1.4l.5 .6l.5-2.2l.5 1.1l.5-.6l.5 1.1l.5 2.4l.5-4.0l.5 2.8l.5-.2l.5-2.2l.5 3.5l.5-6.3l.5 8.3l.5-.9l.5-3.0l.5-1.6l.5 .3l.5-1.0l.5 5.3l.5-5.9l.5 2.9l.5-3.6l.5 3.0l.5 1.0l.5-1.6l.5 3.1l.5-2.1l.5 1.4l.5-1.4l.5-1.7l.5 1.6l.5 1.2l.5 .7l.5-2.7l.5-.9l.5 1.2l.5-.8l.5 .9l.5-.7l.5 1.4l.5 .5l.5-3.0l.5 2.4l.5-1.3l.5 3.0l.5-3.1l.5-.2l.5-.6l.5 1.9l.5 .6l.5-1.7l.5 1.5l.5-4.9l.5 4.9l.5-.5l.5-4.2l.5 6.5l.5-1.9l.5 .2l.5 1.0l.5-3.2l.5-1.1l.5 6.0l.5-4.7l.5-2.3l.5 0l.5 7.9l.5-3.6l.5 .5l.5-.1l.5 .6l.5 3.0l.5-4.7l.5 2.7l.5-1.8l.5-1.5l.5-.8l.5 1.2l.5-1.1l.5 2.6l.5 1.2l.5-2.7l.5-2.1l.5-1.7l.5 .6l.5 3.6l.5-.6l.5 .9l.5-4.7l.5 1.4l.5 2.1l.5-2.1l.5-2.9l.5 .2l.5-1.4l.5 .4l.5 5.2l.5-4.9l.5 4.8l.5-.3l.5-1.0l.5-2.1l.5 5.8l.5-2.2l.5 .7l.5-1.7l.5-2.5l.5 4.4l.5 .9l.5-3.6l.5 3.1l.5 .8l.5-2.6l.5 3.1l.5 .1l.5 1.1l.5-.7l.5-.5l.5 .4l.5-.8l.5 3.4l.5-2.3l.5-2.4l.5 1.0l.5 2.2l.5 .6l.5-3.8l.5 3.2l.5 0l.5 .1l.5-2.5l.5 4.2l.5-3.2l.5-1.3l.5 6.4l.5-3.7l.5 .1l.5 3.3l.5-7.9l.5 1.8l.5-2.4l.5 2.9l.5 4.0l.5-2.3l.5 .5l.5-2.8l.5-.2l.5-.1l.5 5.6l.5-3.7l.5 1.4l.5-4.8l.5 4.8l.5-3.8l.5 2.6l.5 1.6l.5-.4l.5 .4l.5-3.0l.5-.3l.5 2.3l.5 1.4l.5-2.7l.5 .2l.5 .1l.5-.8l.5 1.0l.5-1.5l.5 .6l.5 1.6l.5-3.7l.5 1.9l.5 .1l.5 .1l.5-1.3l.5 1.3l.5 .9l.5 .8l.5-5.6l.5 4.3l.5-1.5l.5 3.5l.5-4.6l.5 1.3l.5 1.3l.5-4.3l.5 7.4l.5-1.7l.5-2.4l.5-1.9l.5 3.1l.5 .7l.5 .1l.5 0l.5 1.2l.5-.4l.5-7.5l.5 9.1l.5-1.2l.5-3.2l.5 1.2l.5 1.5l.5-4.2l.5 6.1l.5-4.5l.5 .6l.5-2.0l.5 2.2l.5 2.8l.5-.6l.5-2.5l.5-3.4l.5 3.7l.5-.6l.5 1.6l.5-2.2l.5 5.1l.5-1.8l.5-1.6l.5-.1l.5 .6l.5 1.3l.5-3.9l.5 1.1l.5 .9l.5-.5l.5 1.9l.5-1.7l.5 2.2l.5-3.4l.5-1.1l.5 1.6l.5-4.4l.5 2.7l.5 1.9l.5 .1l.5-6.8l.5 .9l.5 .1l.5-5.0l.5 5.7l.5 .6l.5 2.1l.5 1.2l.5-2.0l.5-.1l.5 3.7l.5 .8l.5 6.0l.5-9.0l.5 .2l.5 2.1l.5-1.2l.5-1.8l.5 1.2l.5 3.8l.5-2.0l.5 1.6l.5-1.2l.5 4.4l.5-5.6l.5 2.1l.5-2.3l.5-.7l.5-.4l.5-.5l.5 1.1l.5-.1l.5-1.1l.5 .6l.5 2.6l.5-2.9l.5 4.5l.5-.4l.5-1.2l.5-.4l.5 3.1l.5 0l.5 1.2l.5-1.0l.5-2.7l.5-2.5l.5 1.1l.5-2.6l.5 3.0l.5 .2l.5 1.8l.5-2.3l.5 3.1l.5-.6l.5-2.1l.5 .5l.5-.8l.5 .2l.5-.8l.5-.8l.5 .7l.5 2.3l.5-2.8l.5 .2l.5 1.5l.5 4.0l.5-2.7l.5-1.3l.5 1.6l.5-1.0l.5-5.8l.5 5.2l.5 1.2l.5 .7l.5-.5l.5 .1l.5-4.8l.5 2.3l.5 1.1l.5 3.2l.5-4.7l.5 3.1l.5 .4l.5 1.2l.5-1.7l.5 1.3l.5-2.1l.5-2.5l.5-.7l.5 3.9l.5-3.5l.5 5.7l.5-1.5l.5-1.4l.5-1.6l.5 .3l.5 1.6l.5-1.3l.5-3.1l.5 4.8l.5-3.5l.5-1.0l.5 1.0l.5-.5l.5 3.0l.5-2.5l.5-1.1l.5 .8l.5 .4l.5-2.6l.5-1.4l.5 1.7l.5 .8l.5-3.4l.5 .1l.5 2.0l.5 1.1l.5 .4l.5-3.8l.5 1.7l.5-6.0l.5 3.8l.5 2.2l.5 5.3l.5-1.8l.5-3.9l.5 3.7l.5-1.8l.5 .7l.5 2.1l.5-2.6l.5-1.5l.5 1.7l.5 .6l.5-.9l.5-2.0l.5 .4l.5-.4l.5-.5l.5 .6l.5-.9l.5-5.4l.5-5.7l.5-2.3l.5-8.7l.5 1.2l.5 1.0l.5 6.9l.5-.2l.5 8.3l.5 4.4l.5-2.1l.5 3.7l.5 3.4l.5-.5l.5-3.0l.5 3.7l.5-.6l.5-.7l.5-2.1l.5-2.5l.5-4.6l.5-2.7l.5-.1l.5 7.8l.5 2.2l.5 .7l.5 1.7l.5 .7l.5-2.3l.5 1.7l.5 1.3l.5 2.1l.5-3.4l.5 1.0l.5-1.4l.5 .1l.5 3.8l.5-6.8l.5 6.6l.5-3.1l.5 .5l.5 1.0l.5 .2l.5 1.0l.5 .5l.5 0l.5-5.2l.5 2.7l.5 .5l.5-.1l.5-3.7l.5 5.4l.5-1.1l.5-1.9l.5 5.8l.5-7.5l.5 1.6l.5 .3l.5 1.6l.5-2.3l.5 .1l.5 3.5l.5-2.6l.5 2.0l.5 .4l.5-3.9l.5-2.6l.5-1.1l.5-.6l.5-.2l.5 0l.5-.4l.5 5.0l.5 4.1l.5 .5l.5-3.9l.5 2.0l.5 .4l.5-3.8l.5 3.7l.5-4.2l.5 .1l.5 1.3l.5-1.3l.5 3.1l.5 .6l.5-1.7l.5 .7l.5 2.1l.5-.8l.5 3.3l.5-1.3l.5-6.0l.5 3.0l.5-.9l.5-.8l.5 4.8l.5-1.8l.5-2.2l.5 5.2l.5-.2l.5-3.5l.5 1.3l.5-2.5l.5 .7l.5-3.2l.5 2.0l.5 .8l.5-2.4l.5 3.6l.5-6.3l.5-.4l.5-4.3l.5-6.3l.5 8.4l.5 2.5l.5 4.7l.5 0l.5 1.0l.5 3.1l.5-3.2l.5 .8l.5-1.7l.5 1.7l.5-.8l.5 .2l.5 2.5l.5-3.5l.5 1.0l.5-.8l.5 5.3l.5-4.7l.5-.7l.5 .8l.5-3.3l.5 5.7l.5-4.9l.5-.1l.5 2.6l.5-3.8l.5 4.4l.5-3.2l.5 .8l.5-8.7l.5-1.1l.5-5.2l.5-11.0l.5 .3l.5 1.8l.5 7.5l.5 7.6l.5 5.4l.5 .7l.5 1.5l.5 .2l.5 2.1l.5-.5l.5 .2l.5 2.7l.5-2.6l.5-1.2l.5 1.6l.5-.6l.5-.7l.5 2.7l.5-1.4l.5 0l.5 2.4l.5-1.4l.5-.7l.5-1.0l.5 2.7l.5-2.7l.5 3.3l.5-.8l.5-2.9l.5 1.3l.5-.1l.5-1.8l.5 .3l.5 1.1l.5-6.6l.5 2.2l.5-3.2l.5-7.5l.5-14.7l.5-13.4l.5-6.9l.5 11.2l.5 8.1l.5 15.1l.5 7.6l.5 .9l.5 5.0l.5-4.0l.5-1.4l.5 0l.5-.2l.5-1.3l.5-7.9l.5-2.1l.5 6.2l.5 2.5l.5-.2l.5-.1l.5-.7l.5 1.3l.5 2.8l.5-3.7l.5 1.8l.5-5.2l.5-7.8l.5-2.0l.5-5.9l.5 3.3l.5 7.8l.5 1.8l.5 9.8l.5-5.9l.5 1.6l.5 .5l.5 3.5l.5-3.5l.5-3.8l.5 1.9l.5-6.1l.5-5.5l.5-8.9l.5-.3l.5 2.2l.5 4.8l.5 5.6l.5 5.1l.5-3.9l.5 4.1l.5-7.8l.5 1.7l.5-5.9l.5-3.2l.5-5.7l.5 2.9l.5-2.8l.5 4.3l.5 6.8l.5 2.7l.5 2.6l.5 5.0l.5 2.6l.5-.6l.5 3.8l.5-1.2l.5 3.4l.5-.8l.5-5.5l.5 5.0l.5 .1l.5-3.0l.5 4.4l.5-4.1l.5 2.0l.5 0l.5 3.8l.5-4.7l.5 3.2l.5-1.3l.5 .1l.5-2.6l.5 8.9l.5-9.4l.5 2.4l.5 3.2l.5-3.0l.5 1.1l.5-1.9l.5 2.9l.5 .2l.5 .4l.5-1.8l.5 .3l.5 .4l.5-4.1l.5 4.1l.5 3.9l.5-5.5l.5 4.0l.5-2.0l.5-.7l.5-3.4l.5 3.9l.5-5.9l.5 .7l.5 2.4l.5 3.2l.5-.1l.5 .7l.5-.2l.5 3.0l.5-5.1l.5 2.2l.5-.1l.5 1.4l.5-.1l.5 .7l.5-2.2l.5 .8l.5 2.9l.5 2.3l.5-3.7l.5-.7l.5 2.9l.5-1.1l.5-3.1l.5 5.8l.5-2.6l.5 2.0l.5-2.8l.5-1.7l.5 3.4l.5 .2l.5 .6l.5-.1l.5 2.7l.5-1.2l.5-1.2l.5-1.7l.5-1.6l.5 3.2l.5-1.4l.5 .4l.5-1.6l.5 1.1l.5-.1l.5-1.0l.5-1.7l.5-3.2l.5-.8l.5-2.1l.5-1.4l.5 4.1l.5 2.6l.5 1.8l.5 .9l.5 .1l.5-.9l.5 6.1l.5-3.3l.5 1.2l.5 2.8l.5-1.3l.5 1.5l.5-3.9l.5 1.7l.5 2.0l.5-1.9l.5-.9l.5 2.5l.5 2.0l.5-5.3l.5 4.9l.5-.5l.5-3.0l.5 1.1l.5 1.9l.5-4.7l.5 3.4l.5 .7l.5-1.0l.5 .2l.5-3.6l.5 1.3l.5 2.2l.5 5.6l.5-4.8l.5 .5l.5-.7l.5 1.0l.5-3.5l.5 6.6l.5-5.4l.5-1.8l.5 2.5l.5 1.2l.5 .2l.5-2.8l.5 3.5l.5-1.4l.5 3.9l.5-3.6l.5 3.5l.5-6.0l.5 3.3l.5 3.1l.5-1.2l.5-.6l.5-1.2l.5 .8l.5 .7l.5-4.6l.5 4.1l.5 0l.5-2.8l.5 2.8l.5-3.0l.5 .7l.5 2.4l.5-6.0l.5 3.5l.5-1.1l.5 1.4l.5-1.2l.5 1.2l.5 1.1l.5 1.0l.5 0l.5 1.7l.5-.3l.5 0l.5-2.7l.5 1.0l.5 1.4l.5-4.4l.5 2.1l.5 .6l.5-.5l.5 .6l.5-.3l.5 3.0l.5-4.1l.5-2.5l.5 .5l.5 .5l.5 2.3l.5 1.5l.5-.8l.5-2.5l.5 2.8l.5 2.6l.5-3.9l.5 .5l.5 2.1l.5-.6l.5-3.2l.5-3.2l.5 2.1l.5 5.0l.5-5.3l.5 2.9l.5-.3l.5-1.0l.5-1.1l.5 1.7l.5-.1l.5 3.6l.5-2.1l.5 4.6l.5-2.8l.5-1.7l.5-3.7l.5 2.7l.5-1.1l.5 1.6l.5-1.5l.5 .1l.5 4.7l.5-3.7l.5 .5l.5-1.3l.5 1.1l.5 3.1l.5-5.7l.5 2.5l.5-.7l.5 2.3l.5-3.8l.5 5.8l.5-1.4l.5-.5l.5-2.4l.5 2.0l.5 2.9l.5-2.3l.5-3.1l.5-.4l.5-.7l.5 4.9l.5-4.0l.5 .6l.5 1.7l.5-4.1l.5 3.4l.5 2.1l.5 1.1l.5-2.2l.5-2.9l.5 1.8l.5-1.8l.5-.5l.5 .6l.5-4.9l.5-.2l.5 5.6l.5-6.4l.5 1.6l.5-3.6l.5 3.1l.5 .3l.5-3.1l.5 6.0l.5-2.4l.5 5.0l.5-5.3l.5 2.9l.5 2.5l.5-.4l.5 .6l.5-.7l.5-1.2l.5 1.9l.5-.3l.5-1.4l.5 2.8l.5 1.5l.5-.3l.5-6.5l.5 5.2l.5 .1l.5 .4l.5 .8l.5 .5l.5-.2l.5-1.5l.5 1.9l.5-4.1l.5 2.2l.5 2.8l.5-2.3l.5-2.6l.5 1.9l.5-.4l.5-1.9l.5 2.1l.5 .9l.5-3.3l.5 3.1l.5-6.0l.5 3.3l.5 1.9l.5 .2l.5 1.1l.5-2.1l.5-.5l.5-2.9l.5 3.0l.5-.6l.5 4.0l.5-.5l.5-.8l.5 1.9l.5 1.1l.5-1.3l.5-2.3l.5-.6l.5 3.1l.5 2.5l.5-3.2l.5-2.3l.5 2.2l.5-2.6l.5-1.6l.5 4.0l.5-1.6l.5 3.9l.5-8.3l.5 4.4l.5 1.2l.5-1.2l.5 .4l.5 2.3l.5-5.8l.5-.2l.5-.6l.5 3.9l.5-3.3l.5 .5l.5-3.5l.5 .1l.5 1.2l.5 5.5l.5-6.5l.5-.3l.5 4.1l.5-.3l.5-5.4l.5 6.2l.5-1.6l.5 2.6l.5-.3l.5 3.4l.5-2.6l.5-1.7l.5 2.7l.5-3.7l.5-.4l.5 3.9l.5-2.6l.5 3.7l.5-.5l.5-.4l.5 2.0l.5-.3l.5-.6l.5 .5l.5-.1l.5-.2l.5-2.9l.5-3.1l.5 2.0l.5 1.6l.5 2.8l.5-4.4l.5 2.5l.5 .2l.5 .7l.5 .7l.5-1.5l.5 .2l.5-3.7l.5 2.5l.5 0l.5 4.3l.5-.4l.5-.2l.5-2.2l.5-.6l.5-1.3l.5 .8l.5-2.8l.5 1.6l.5-.6l.5 .9l.5 7.3l.5-4.2l.5-4.9l.5 4.6l.5-4.1l.5-.9l.5 2.4l.5-1.1l.5-1.0l.5 1.3l.5 .7l.5 4.5l.5-5.9l.5 1.2l.5 3.5l.5-3.9l.5 .6l.5-1.1l.5 1.5l.5 .9l.5-2.1l.5 4.4l.5-5.5l.5 1.8l.5-.2l.5 .5l.5-2.6l.5 1.2l.5 1.2l.5 2.1l.5-.6l.5-1.1l.5 0l.5 3.7l.5-3.3l.5 .7l.5 .1l.5 .5l.5 .2l.5-.9l.5 2.1l.5-.6l.5-1.2l.5 2.8l.5-6.0l.5 2.5l.5 1.1l.5-2.8l.5 2.6l.5-1.3l.5-1.6l.5 3.6l.5-3.0l.5 .8l.5 .7l.5-.6l.5-.2l.5 .5l.5-.5l.5 2.9l.5-2.5l.5 2.9l.5-3.5l.5 2.7l.5-3.2l.5-1.4l.5 2.7l.5-3.4l.5 5.8l.5-1.2l.5-.4l.5-1.3l.5 .7l.5-.7l.5 3.7l.5-2.5l.5-2.1l.5-.5l.5 3.1l.5-1.8l.5 2.1l.5-1.7l.5 1.4l.5-5.9l.5 5.3l.5-2.3l.5 3.2l.5 .1l.5-.8l.5-1.0l.5 0l.5 0l.5 0l.5-2.7l.5 3.6l.5-.5l.5-1.0l.5 3.5l.5-2.9l.5 2.0l.5 1.0l.5 1.8l.5-3.7l.5 1.3l.5-4.3l.5 3.1l.5-.7l.5 1.6l.5-3.6l.5 4.6l.5-.4l.5 1.3l.5-2.1l.5-.4l.5 .1l.5 .9l.5-4.0l.5 4.9l.5-2.9l.5-2.7l.5 4.1l.5 3.1l.5-5.0l.5-.9l.5-3.3l.5 1.6l.5 3.8l.5-2.2l.5 2.2l.5-2.3l.5 2.3l.5-2.7l.5 3.9l.5-3.7l.5 5.2l.5-5.2l.5-.1l.5 3.2l.5 .7l.5-5.3l.5-1.1l.5 5.6l.5-3.2l.5-1.2l.5 4.9l.5-5.3l.5 3.1l.5 1.1l.5 .7l.5 .5l.5-3.8l.5 2.6l.5-.2l.5 2.0l.5-2.2l.5-3.4l.5-.5l.5 1.4l.5 5.5l.5-4.7l.5-1.5l.5 2.4l.5 1.6l.5-1.1l.5-1.2l.5 3.8l.5-1.1l.5 .2l.5-4.2l.5 .4l.5 0l.5 1.1l.5 .4l.5-2.9l.5 .9l.5 2.6l.5 .6l.5 2.9l.5-3.2l.5 1.9l.5-5.7l.5 4.4l.5-3.9l.5 1.1l.5 1.7l.5-.2l.5-1.6l.5 2.6l.5-4.5l.5 2.4l.5 1.6l.5-1.2l.5 1.5l.5 3.4l.5-4.8l.5 .8l.5-1.6l.5-.7l.5 2.0l.5 2.2l.5-3.6l.5 3.6l.5-1.7l.5-3.0l.5-.5l.5 .2l.5 3.1l.5-1.1l.5 2.8l.5-2.5l.5 .9l.5 1.1l.5 2.2l.5-6.5l.5 4.9l.5-2.0l.5 1.5l.5-2.2l.5 3.4l.5-4.1l.5 2.5l.5 0l.5 1.0l.5-4.4l.5-1.1l.5 6.4l.5-1.2l.5-3.0l.5 .5l.5-2.3l.5 5.8l.5-6.0l.5 4.1l.5-.9l.5 2.1l.5 .2l.5-4.4l.5 .2l.5 2.2l.5-3.8l.5 4.8l.5-1.0l.5-5.0l.5 7.0l.5-5.0l.5 3.2l.5-3.6l.5 4.8l.5-3.2l.5-1.1l.5 3.7l.5-2.8l.5-1.1l.5 .1l.5 2.2l.5 .3l.5-1.6l.5 0l.5 .9l.5-1.1l.5 3.9l.5 .1l.5-3.9l.5 .6l.5 6.1l.5-3.8l.5-3.0l.5 2.2l.5-1.5l.5 .5l.5 2.8l.5-3.3l.5 .3l.5 .8l.5 1.3l.5-1.1l.5 4.4l.5-5.1l.5 3.2l.5-3.9l.5-.7l.5 2.0l.5-.2l.5-3.5l.5 1.6l.5 3.6l.5 1.0l.5 .8l.5-.8l.5-4.0l.5 2.0l.5-.1l.5-1.2l.5 2.7l.5-1.6l.5 2.0l.5-.4l.5 .2l.5-1.1l.5-2.5l.5-.5l.5 2.1l.5-.7l.5 2.0l.5-4.7l.5 4.1l.5-1.5l.5-3.1l.5 4.4l.5-1.1l.5-1.5l.5-.4l.5 3.4l.5-3.6l.5 4.6l.5-3.7l.5 1.2l.5-.7l.5-.3l.5 .3l.5-2.9l.5 4.5l.5-1.5l.5-.5l.5-1.0l.5 0l.5 2.7l.5-2.3l.5-.4l.5-.6l.5-.7l.5 4.4l.5-.9l.5-3.4l.5 2.7l.5 .2l.5 2.5l.5-2.2l.5 1.1l.5 3.6l.5-7.8l.5 6.4l.5-1.9l.5-.2l.5-1.8l.5 1.2l.5 2.4l.5-3.6l.5-.3l.5 4.5l.5-2.8l.5-.3l.5-2.3l.5 2.1l.5-.2l.5-.3l.5-.2l.5 .5l.5 1.2l.5-3.8l.5 2.3l.5 .5l.5-1.3l.5 .4l.5-2.1l.5-.2l.5 1.8l.5 1.0l.5 1.1l.5 2.4l.5-2.6l.5 1.4l.5-3.3l.5 .8l.5-.5l.5-.7l.5 4.3l.5-3.7l.5 .7l.5 2.5l.5-2.8l.5 1.4l.5 .9l.5 .5l.5-1.7l.5-2.4l.5 .7l.5 .7l.5-1.5l.5-.9l.5 3.6l.5 1.6l.5-3.1l.5-3.6l.5 8.5l.5-4.9l.5 .8l.5 1.0l.5-1.4l.5 3.7l.5-.9l.5 .6l.5-1.4l.5-1.3l.5 2.0l.5-4.4l.5-.2l.5 1.8l.5-.6l.5-2.9l.5 .1l.5-.2l.5 3.7l.5-4.0l.5-1.2l.5-.9l.5 2.7l.5-2.5l.5 .9l.5 3.4l.5-2.8l.5-4.6l.5 4.8l.5-4.6l.5 1.4l.5 1.9l.5-3.3l.5-1.6l.5 3.7l.5-7.1l.5 4.2l.5 2.3l.5-.1l.5-3.4l.5 4.3l.5 2.2l.5-5.3l.5 4.3l.5 .7l.5 2.7l.5-.4l.5-2.5l.5 .3l.5 2.5l.5-3.9l.5 5.8l.5 .7l.5-.2l.5-1.9l.5-.1l.5-.4l.5 2.2l.5 2.4l.5-2.0l.5-.7l.5 2.8l.5-1.9l.5 .9l.5-1.8l.5 2.9l.5-1.2l.5-3.3l.5 4.0l.5-2.8l.5 1.5l.5-.9l.5-4.3l.5 2.1l.5 5.1l.5-5.2l.5-2.1l.5-2.0l.5-1.7l.5 3.0l.5 5.3l.5-2.7l.5-.4l.5 3.2l.5-2.4l.5 2.4l.5 4.0l.5-1.6l.5-2.8l.5 6.1l.5-5.3l.5 3.2l.5-3.1l.5-1.3l.5 .5l.5 .4l.5 2.1l.5-1.6l.5 1.5l.5-2.7l.5 5.0l.5-.4l.5-3.8l.5 .2l.5-.2l.5-2.8l.5-2.0l.5 4.6l.5-.8l.5 3.5l.5-3.0l.5 2.6l.5-1.8l.5-3.1l.5 5.6l.5-2.1l.5-1.5l.5 3.8l.5-6.2l.5 4.3l.5 1.0l.5-1.4l.5 1.5l.5-4.4l.5 1.8l.5 .4l.5-1.1l.5 3.8l.5-5.2l.5 3.9l.5-2.0l.5 1.2l.5-.7l.5-1.2l.5 3.1l.5-4.9l.5 2.9l.5 1.7l.5-3.3l.5 1.9l.5-1.2l.5-3.4l.5 3.3l.5 1.3l.5-2.1l.5 3.1l.5-5.4l.5 2.8l.5 1.6l.5-2.1l.5 .7l.5-1.2l.5-.6l.5 3.1l.5 4.4l.5-6.1l.5 1.0l.5 1.2l.5-2.5l.5 3.5l.5-2.3l.5 3.3l.5-2.8l.5-2.3l.5 3.6l.5-4.6l.5 5.0l.5-4.1l.5 .1l.5 .5l.5 3.6l.5-2.6l.5 3.5l.5-1.4l.5-1.2l.5 .3l.5-1.5l.5 .8l.5-1.5l.5 1.9l.5-1.5l.5 3.0l.5-1.0l.5-.5l.5 1.6l.5-3.6l.5 3.3l.5-1.1l.5-5.1l.5 4.0l.5 .6l.5-1.9l.5 3.2l.5-5.0l.5 1.8l.5-.4l.5 4.5l.5-2.2l.5-3.9l.5 5.1l.5-.7l.5-3.1l.5-9.4l.5-2.7l.5-1.5l.5 3.3l.5 5.5l.5 2.2l.5 3.8l.5-.3l.5-2.0l.5 2.2l.5-1.7l.5 1.1l.5 2.6l.5 .8l.5-.8l.5-4.0l.5 1.0l.5 2.9l.5 .8l.5-5.1l.5 .1l.5 2.2l.5 .9l.5 .4l.5-1.9l.5 4.3l.5-5.9l.5 3.9l.5 .7l.5 .6l.5-1.4l.5 1.9l.5-1.9l.5-3.3l.5 2.6l.5 1.0l.5-3.0l.5 6.3l.5-7.4l.5 3.0l.5 1.0l.5-5.4l.5 2.7l.5-4.6l.5 1.1l.5 4.2l.5 1.3l.5 1.5l.5 .2l.5 .7l.5 .7l.5-1.0l.5-.1l.5-2.4l.5-2.0l.5 5.1l.5 .9l.5-4.5l.5 .3l.5 1.0l.5-2.9l.5 1.5l.5 .4l.5-2.8l.5 5.3l.5-3.3l.5 1.2l.5-3.5l.5-1.2l.5 3.4l.5 .1l.5-.3l.5 .6l.5 .5l.5-1.1l.5 1.7l.5 2.4l.5 1.3l.5 .3l.5-5.1l.5 1.9l.5-.8l.5-.1l.5 3.8l.5-3.8l.5-.3l.5-.6l.5 1.3l.5-.7l.5 1.7l.5-.7l.5 3.9l.5-1.9l.5-3.9l.5 2.4l.5 1.1l.5 1.0l.5-3.8l.5 .1l.5 1.6l.5 2.4l.5-.7l.5-.3l.5-5.2l.5-1.3l.5 4.0l.5 1.0l.5-.2l.5 .8l.5-2.8l.5 6.6l.5-6.7l.5 4.2l.5 .8l.5-5.4l.5 1.8l.5 .8l.5-1.4l.5-2.0l.5 2.7l.5-1.2l.5-.8l.5 1.5l.5 0l.5-1.4l.5-.6l.5 1.3l.5-3.2l.5 1.2l.5 2.8l.5-.2l.5 .4l.5-2.8l.5 2.1l.5-2.2l.5 1.6l.5 1.0l.5-3.8l.5 2.7l.5-.8l.5 1.5l.5 3.3l.5-3.7l.5 1.5l.5 1.2l.5-3.7l.5 .8l.5 1.3l.5-1.0l.5 .6l.5 .1l.5-1.3l.5-2.2l.5-.3l.5 1.5l.5 2.2l.5 1.1l.5-2.6l.5-1.2l.5 0l.5 2.1l.5-1.2l.5 1.2l.5 .9l.5 2.8l.5-.3l.5-5.1l.5 3.0l.5-2.4l.5 4.2l.5-.4l.5-4.8l.5 4.3l.5-.9l.5 .7l.5 2.5l.5-2.2l.5-.7l.5-2.4l.5 .9l.5 1.0l.5 2.0l.5-3.7l.5-1.5l.5 5.8l.5 0l.5-4.4l.5 5.4l.5-3.0l.5 .4l.5-3.0l.5 4.1l.5-3.2l.5-1.1l.5 2.0l.5 2.9l.5-.1l.5-.3l.5-2.9l.5 2.1l.5-2.2l.5 2.4l.5-2.2l.5-.6l.5 .7l.5 .4l.5-1.0l.5 1.2l.5-1.0l.5-1.4l.5 2.9l.5-1.6l.5-.2l.5-1.0l.5 4.1l.5-1.7l.5-2.6l.5 3.2l.5 .6l.5-2.8l.5 .7l.5 .2l.5 2.6l.5-1.5l.5 1.7l.5-.6l.5-2.1l.5-.5l.5 1.2l.5-2.6l.5 2.9l.5-.9l.5 2.1l.5-1.8l.5-1.2l.5 4.3l.5-1.1l.5 .2l.5 1.9l.5-2.3l.5-2.2l.5 4.4l.5-3.7l.5 .3l.5-1.1l.5 2.2l.5 .5l.5 .9l.5-3.0l.5 0l.5-2.0l.5-.3l.5 2.3l.5-2.9l.5 2.2l.5 .5l.5-1.2l.5 2.5l.5-2.0l.5 .1l.5 .1l.5-1.9l.5 3.5l.5-1.3l.5 .1l.5 .4l.5 .4l.5 1.0l.5-3.5l.5 3.5l.5-4.0l.5 2.5l.5-.1l.5-.6l.5 2.6l.5-5.1l.5 2.9l.5-3.6l.5-2.7l.5-.1l.5 2.9l.5-1.3l.5 3.3l.5-1.6l.5-4.8l.5 2.5l.5-2.3l.5 1.2l.5 3.0l.5-4.1l.5-1.7l.5 1.0l.5 1.3l.5-.7l.5 2.5l.5-.1l.5 4.1l.5-6.5l.5 2.5l.5 .9l.5 1.7l.5 .2l.5 .2l.5 1.8l.5 2.3l.5-2.1l.5 .7l.5-3.2l.5 .4l.5 0l.5 3.1l.5-3.1l.5 3.6l.5-.1l.5 1.9l.5-4.5l.5 3.0l.5 .5l.5-5.0l.5 3.5l.5 1.6l.5-2.2l.5 3.0l.5-1.2l.5 4.4l.5-7.4l.5 2.4l.5-.4l.5-3.2l.5 2.5l.5 3.1l.5-5.2l.5 5.3l.5-4.0l.5-.9l.5 .4l.5 .3l.5 1.0l.5-1.0l.5 1.8l.5-.6l.5 .8l.5-.4l.5 .9l.5-2.0l.5-2.6l.5 2.2l.5 2.1l.5 2.4l.5-7.5l.5 4.6l.5 1.8l.5-1.3l.5-2.9l.5 1.6l.5-2.0l.5 .5l.5 2.2l.5-.3l.5-.8l.5-.8l.5 .3l.5-1.1l.5-.3l.5 1.2l.5 2.7l.5 .8l.5-1.9l.5-.9l.5 1.9l.5-.9l.5 .7l.5-3.0l.5 4.0l.5 .8l.5-4.3l.5 .4l.5 4.8l.5-1.3l.5-1.8l.5 1.1l.5-2.8l.5 2.2l.5-2.9l.5 5.5l.5-5.3l.5 .4l.5-.1l.5-.9l.5 2.9l.5-2.8l.5 7.4l.5-5.8l.5 0l.5 3.5l.5 1.4l.5-3.3l.5-3.7l.5 1.9l.5 2.4l.5-2.6l.5 .4l.5 2.3l.5-.7l.5 3.1l.5-2.5l.5-1.8l.5 2.3l.5-2.6l.5 .3l.5 1.8l.5 .8l.5-3.0l.5 1.5l.5-2.2l.5 .9l.5 .9l.5-2.1l.5 3.3l.5-3.6l.5-1.0l.5 3.3l.5 0l.5 .1l.5-3.2l.5 5.1l.5-3.5l.5 1.9l.5-4.5l.5 3.5l.5-.5l.5 1.5l.5-1.0l.5-2.6l.5 .8l.5 2.1l.5 .5l.5 4.2l.5-6.0l.5 .4l.5-2.0l.5 .3l.5 1.5l.5-.9l.5 3.3l.5-1.0l.5-1.9l.5-1.6l.5 2.5l.5-1.5l.5 2.9l.5-.8l.5-2.9l.5 2.7l.5 3.1l.5-6.7l.5 3.2l.5 .6l.5 1.2l.5-1.8l.5-.3l.5 2.3l.5-.2l.5 1.3l.5-2.1l.5 2.8l.5-3.5l.5 0l.5 .3l.5-.4l.5-.7l.5-1.4l.5 5.9l.5-4.6l.5 1.5l.5 1.2l.5 1.3l.5-.4l.5-2.5l.5-.6l.5 1.1l.5 1.9l.5-5.6l.5 1.5l.5-.1l.5 0l.5-2.5l.5 1.8l.5 3.3l.5 .9l.5 2.2l.5-4.3l.5-3.2l.5 4.6l.5-1.6l.5 1.1l.5-4.1l.5 3.9l.5-.3l.5-3.2l.5 2.9l.5 3.2l.5-3.6l.5 .5l.5-.3l.5 .6l.5 1.6l.5-1.2l.5-.2l.5-3.6l.5 5.2l.5-.9l.5-1.9l.5 .1l.5 1.1l.5 1.4l.5-4.7l.5 3.1l.5-.6l.5 2.9l.5-2.6l.5 0l.5-2.0l.5-1.7l.5 3.2l.5 1.2l.5 2.3l.5-.6l.5-.9l.5-1.7l.5 .8l.5 .8l.5-1.1l.5 2.1l.5-.7l.5-2.8l.5 .9l.5 3.8l.5-3.9l.5-.3l.5-.6l.5 1.6l.5 1.3l.5-3.2l.5 2.7l.5-4.2l.5 2.4l.5 .8l.5-.6l.5 3.8l.5-3.6l.5 1.3l.5-3.2l.5 4.5l.5-1.4l.5-.1l.5-.4l.5 1.2l.5-1.8l.5 .2l.5 1.8l.5-2.9l.5 .7l.5-.5l.5 5.1l.5-2.9l.5-.8l.5 2.7l.5-5.0l.5 .2l.5 2.4l.5 .4l.5-1.1l.5 .4l.5 1.6l.5-1.2l.5-.9l.5-.6l.5 .9l.5 1.3l.5-3.1l.5-1.4l.5 3.1l.5 .7l.5-.9l.5 2.5l.5-1.8l.5 .6l.5-1.7l.5 1.3l.5-1.0l.5 1.5l.5-2.3l.5 2.6l.5-.4l.5-2.1l.5 3.4l.5-2.3l.5-.9l.5 1.6l.5-1.0l.5 1.7l.5-3.1l.5 3.6l.5-.9l.5-1.4l.5 1.5l.5 .3l.5 .4l.5-3.3l.5-2.5l.5 2.3l.5 .3l.5-1.2l.5 .9l.5 .7l.5-2.6l.5 6.2l.5 1.3l.5-5.0l.5 2.7l.5-1.5l.5-1.8l.5 1.7l.5-2.2l.5 7.3l.5-6.7l.5-.6l.5 1.4l.5-.1l.5 1.2l.5 1.1l.5-1.8l.5-.6l.5-1.8l.5 3.8l.5-4.3l.5 .8l.5 1.6l.5 3.8l.5-4.1l.5 2.7l.5-1.4l.5 .8l.5 3.7l.5-6.8l.5 .2l.5 3.9l.5-1.6l.5 1.7l.5 1.4l.5-5.1l.5 2.5l.5-.7l.5-1.1l.5-2.2l.5 5.1l.5-.7l.5-.7l.5 1.4l.5-1.3l.5 1.0l.5 1.0l.5-1.8l.5 .6l.5-2.0l.5 .7l.5-2.1l.5-.5l.5 2.5l.5 2.6l.5-6.1l.5 1.2l.5-1.5l.5 2.0l.5 4.1l.5-.7l.5-.1l.5-1.6l.5 1.0l.5-.1l.5-.9l.5 2.5l.5-5.0l.5 2.0l.5 .8l.5-3.3l.5 2.7l.5-1.2l.5 3.7l.5-3.2l.5-1.1l.5 1.8l.5 1.9l.5-1.3l.5 2.8l.5-4.0l.5-2.8l.5 4.1l.5-1.1l.5 1.3l.5 1.3l.5-1.6l.5-.7l.5-.9l.5-.5l.5 1.2l.5 2.1l.5 2.0l.5-2.2l.5 1.5l.5-.8l.5-.2l.5-5.0l.5 3.5l.5 .1l.5-.3l.5-.2l.5-.5l.5 2.4l.5 .3l.5-1.1l.5 1.6l.5 2.6l.5-3.7l.5-1.0l.5-1.7l.5 0l.5 3.6l.5-1.5l.5-3.5l.5 3.4l.5-3.3l.5 .6l.5 4.2l.5-.9l.5 .1l.5-4.9l.5 5.0l.5 1.1l.5-3.9l.5 2.6l.5-3.2l.5 1.1l.5 .4l.5-2.2l.5 .4l.5 3.7l.5-3.8l.5 2.4l.5 .3l.5 1.0l.5-.8l.5-2.9l.5 3.3l.5-3.4l.5 4.1l.5-5.0l.5 2.6l.5-1.1l.5-1.1l.5 .5l.5-1.1l.5 .5l.5-.5l.5 3.4l.5-2.8l.5 .9l.5 5.8l.5-1.1l.5-2.9l.5-.1l.5 3.4l.5-4.0l.5 .5l.5 2.6l.5-5.4l.5 5.3l.5-4.2l.5 .1l.5 1.9l.5 1.4l.5 .4l.5-6.3l.5 4.6l.5 1.4l.5-.2l.5 0l.5-.9l.5 2.7l.5-3.0l.5-.5l.5 3.6l.5-2.6l.5 1.8l.5-1.7l.5-.1l.5 .6l.5-7.6l.5 7.0l.5-1.6l.5 3.4l.5-6.7l.5 3.6l.5-.7l.5 5.3l.5 .1l.5-7.9l.5 5.1l.5 1.8l.5-.4l.5-3.6l.5 3.7l.5-4.5l.5 5.2l.5-.2l.5-5.4l.5 .3l.5 5.3l.5-1.3l.5-2.3l.5 1.7l.5-5.2l.5 4.6l.5-2.3l.5 1.9l.5 1.6l.5-2.4l.5 2.3l.5-3.3l.5 1.8l.5 1.2l.5-1.2l.5-1.4l.5 1.2l.5-1.9l.5 2.1l.5-1.4l.5 3.4l.5-1.7l.5 1.0l.5-2.6l.5 3.8l.5-1.0l.5 1.6l.5-3.5l.5-2.1l.5 2.6l.5-1.8l.5 1.6l.5 1.8l.5-2.0l.5 1.3l.5-1.0l.5-.3l.5 1.9l.5-2.1l.5 3.6l.5-3.7l.5 0l.5-4.4l.5 .7l.5 3.2l.5-.8l.5 .6l.5 2.0l.5-6.0l.5 5.1l.5-4.6l.5 2.4l.5 1.3l.5 2.6l.5-3.9l.5 4.3l.5-2.4l.5 1.3l.5 .3l.5-2.1l.5-5.8l.5 7.6l.5-2.4l.5 2.8l.5-3.4l.5-.1l.5 1.6l.5 .9l.5-.5l.5-.8l.5 .6l.5-2.8l.5-1.0l.5-.1l.5-.7l.5 5.0l.5-.5l.5 1.3l.5-.5l.5 3.7l.5-5.8l.5 .4l.5-2.0l.5 7.6l.5-2.2l.5-4.1l.5-1.5l.5-.9l.5 3.2"/>
<g fill="#000"><circle cx="122.3" cy="899.3" r="5.6"/><circle cx="153.3" cy="888.2" r="5.6"/><circle cx="178.3" cy="892.4" r="5.6"/><circle cx="197.1" cy="897.6" r="5.6"/><circle cx="217" cy="898.6" r="5.6"/><circle cx="262.3" cy="898.6" r="5.6"/><circle cx="495.3" cy="858.4" r="5.6"/><circle cx="527.2" cy="899.3" r="5.6"/><circle cx="587.5" cy="857.7" r="5.6"/><circle cx="600.3" cy="873.3" r="5.6"/><circle cx="613.2" cy="870.3" r="5.6"/><circle cx="640.2" cy="895.6" r="5.6"/><path d="M497.0 867.6L504.7 877.3L497.0 887.0L489.3 877.3Z"/><path d="M1049.2 889.8L1056.9 899.5L1049.2 909.2L1041.5 899.5Z"/><path d="M209.3 874.9L224.7 874.9L217.0 887.1Z"/><path d="M561.7 875.4L577.1 875.4L569.4 887.6Z"/></g></g>
<g id="c4">
<path class="cv" stroke="#0000ff" d="M110.0 825.3l.5-3.1l.5 .3l.5 1.7l.5-.7l.5-.5l.5-1.9l.5-1.1l.5 3.4l.5-1.6l.5 3.1l.5-1.2l.5-2.1l.5 2.2l.5 .8l.5-1.3l.5-2.3l.5 2.2l.5 .1l.5 1.0l.5-.3l.5-3.7l.5 .8l.5 2.2l.5-5.5l.5 4.9l.5-4.5l.5 .5l.5 4.8l.5-2.3l.5 .1l.5 1.6l.5-.7l.5-1.1l.5 1.9l.5 4.0l.5-2.8l.5-1.4l.5-.6l.5 .9l.5-.6l.5-3.4l.5 3.0l.5-.9l.5 3.7l.5-4.1l.5 3.4l.5-5.2l.5 3.2l.5-2.3l.5-.5l.5 3.6l.5-3.9l.5 2.0l.5-1.1l.5 2.6l.5-.2l.5-5.4l.5 6.3l.5-3.1l.5 5.6l.5-2.6l.5-.1l.5-7.6l.5 8.9l.5-4.0l.5-3.3l.5 3.3l.5 1.8l.5-7.0l.5 4.8l.5-4.8l.5-3.5l.5-4.8l.5-7.7l.5-1.7l.5 3.5l.5 7.4l.5 3.0l.5-6.6l.5-4.3l.5-14.7l.5-.1l.5 1.2l.5 11.9l.5 11.9l.5 2.7l.5 5.4l.5-3.0l.5 2.2l.5 3.1l.5 2.4l.5-5.3l.5 6.2l.5-2.5l.5 4.4l.5-5.4l.5-.6l.5 1.7l.5-3.2l.5 2.4l.5-.5l.5 2.9l.5-2.1l.5-3.4l.5-.3l.5 .7l.5-2.5l.5-.3l.5 9.1l.5-6.3l.5 4.6l.5-4.3l.5 .7l.5-2.9l.5 6.3l.5-3.6l.5 4.3l.5-5.7l.5 3.2l.5-1.5l.5-7.9l.5 5.8l.5-1.1l.5 1.1l.5 3.3l.5 1.6l.5 1.2l.5-3.7l.5 2.8l.5-1.1l.5-1.8l.5-3.0l.5 .3l.5 5.2l.5-11.4l.5 3.4l.5 1.2l.5 7.1l.5 2.0l.5-.5l.5 1.5l.5-4.5l.5 3.7l.5-5.5l.5 5.2l.5 0l.5-4.5l.5 3.6l.5-4.4l.5-.6l.5 0l.5 .5l.5-.1l.5 2.1l.5 3.9l.5-4.5l.5-1.4l.5 3.3l.5-2.0l.5 .8l.5 .8l.5 .2l.5-2.4l.5 1.0l.5 2.5l.5-2.9l.5 .3l.5 1.1l.5 .3l.5-1.6l.5 1.9l.5-1.2l.5-2.9l.5 4.3l.5-3.3l.5 8.7l.5-6.0l.5-1.2l.5 2.4l.5 1.3l.5 0l.5-2.8l.5 1.6l.5-.9l.5-1.3l.5-3.4l.5 3.5l.5-5.5l.5 3.8l.5 5.0l.5-2.6l.5-.7l.5-2.0l.5-.2l.5 .1l.5-1.8l.5-2.1l.5 7.1l.5 1.3l.5-5.2l.5 3.0l.5-4.6l.5 3.2l.5-4.3l.5 4.4l.5-2.9l.5-4.4l.5 2.3l.5 .8l.5-4.6l.5 .6l.5 1.7l.5 1.9l.5 3.8l.5 1.0l.5-7.0l.5 7.8l.5-2.9l.5 4.2l.5-2.6l.5 1.2l.5-3.2l.5-1.7l.5 3.6l.5 1.8l.5-.4l.5 .2l.5-1.1l.5 1.0l.5-3.4l.5 1.3l.5-3.2l.5 3.2l.5-.7l.5 .7l.5 2.0l.5-2.3l.5-6.6l.5 9.2l.5-2.9l.5 1.1l.5-3.7l.5 3.5l.5 1.6l.5-6.8l.5 6.4l.5-4.6l.5 .5l.5 1.8l.5 4.6l.5-8.6l.5 2.6l.5 1.5l.5 1.4l.5-1.6l.5 1.3l.5-3.1l.5 4.1l.5 .6l.5-4.8l.5 .6l.5 2.6l.5-.1l.5 .6l.5-3.6l.5 2.3l.5 .2l.5 4.4l.5-3.0l.5-.9l.5-1.0l.5 1.8l.5 2.3l.5-6.4l.5 3.5l.5 .7l.5 3.1l.5-3.0l.5 1.4l.5-2.9l.5-3.2l.5 0l.5 1.6l.5 2.0l.5-1.0l.5-.4l.5 5.0l.5-9.5l.5 2.8l.5 7.5l.5-4.6l.5-2.1l.5-.7l.5 4.5l.5 0l.5 .3l.5-4.8l.5 2.9l.5-1.2l.5 .7l.5-5.9l.5 2.2l.5-3.2l.5-15.0l.5-3.7l.5-2.4l.5 2.5l.5 6.8l.5 8.7l.5 3.8l.5 4.4l.5-1.7l.5 2.9l.5-1.9l.5-1.2l.5 6.8l.5-7.2l.5 8.4l.5-8.5l.5 7.3l.5-1.5l.5-3.9l.5 2.5l.5-1.3l.5 .1l.5 4.0l.5-4.7l.5-1.7l.5 6.7l.5-1.7l.5-.9l.5-.7l.5 2.1l.5-.8l.5-1.1l.5-1.1l.5 3.8l.5 .8l.5-2.2l.5 5.6l.5-6.3l.5-.2l.5 3.0l.5-2.8l.5 0l.5-1.3l.5 1.9l.5-4.8l.5 2.0l.5-.9l.5-2.7l.5 7.2l.5-3.3l.5-1.3l.5 2.8l.5-3.8l.5 4.7l.5 .9l.5-6.7l.5 5.5l.5-3.0l.5 .7l.5-4.2l.5-3.6l.5-.4l.5 3.2l.5 2.7l.5 4.2l.5-.7l.5-.7l.5 2.7l.5-7.4l.5 1.5l.5 .1l.5 2.8l.5-3.7l.5 2.5l.5 4.5l.5-.8l.5 1.2l.5-4.7l.5-1.2l.5 2.8l.5-2.8l.5 1.7l.5-.2l.5 1.4l.5 2.1l.5-.1l.5-.9l.5-2.5l.5 2.0l.5-2.4l.5-1.2l.5-1.5l.5 2.1l.5 2.3l.5 .4l.5-1.6l.5 1.1l.5-2.9l.5 4.7l.5-3.7l.5-1.2l.5 2.1l.5-1.9l.5 1.1l.5 2.6l.5-5.0l.5 1.3l.5 .4l.5 .6l.5 4.2l.5-2.3l.5 .8l.5-8.7l.5 6.8l.5-.6l.5 .6l.5-1.2l.5-1.6l.5 3.0l.5-2.2l.5 .2l.5-1.5l.5 .8l.5 1.6l.5 .7l.5-1.7l.5 .6l.5-.4l.5 2.7l.5-2.8l.5 .4l.5 .8l.5-1.3l.5 1.5l.5 2.9l.5-3.8l.5 3.1l.5-1.3l.5-1.9l.5 .9l.5 1.4l.5-5.2l.5 3.5l.5 1.2l.5-4.3l.5 4.7l.5-1.5l.5-3.3l.5 2.8l.5-4.2l.5 .4l.5-.7l.5 3.9l.5-1.4l.5-.9l.5 .4l.5 .8l.5-.7l.5-.5l.5 1.3l.5-2.6l.5 .9l.5 3.8l.5-1.7l.5-4.6l.5 7.6l.5-5.0l.5 5.8l.5-3.2l.5 2.1l.5-6.0l.5 2.3l.5 .3l.5 .2l.5-.5l.5 .3l.5 1.0l.5-1.2l.5 .8l.5 .9l.5-4.8l.5 3.2l.5-1.9l.5 1.8l.5 1.4l.5-4.5l.5 2.2l.5 2.9l.5 .4l.5-3.3l.5 3.2l.5-1.3l.5-.5l.5-1.2l.5 1.7l.5 .9l.5-2.8l.5 2.6l.5-3.4l.5 .1l.5 4.0l.5-1.5l.5-1.3l.5 2.6l.5 .8l.5-1.6l.5 2.9l.5-5.1l.5-.2l.5 3.2l.5-4.4l.5 3.7l.5-5.0l.5 1.5l.5 2.0l.5-.4l.5 4.3l.5-5.5l.5 2.0l.5 .2l.5-.7l.5 2.5l.5-3.8l.5 0l.5-1.1l.5 4.1l.5-1.3l.5 0l.5-.1l.5-2.9l.5 3.5l.5-.5l.5 2.5l.5-2.3l.5-2.6l.5 1.1l.5 4.6l.5-6.5l.5-.3l.5 3.6l.5 2.7l.5-3.0l.5-2.6l.5 7.2l.5-6.5l.5 3.3l.5 1.2l.5-3.0l.5 1.0l.5 1.9l.5-5.9l.5 4.6l.5 1.0l.5 .3l.5-3.6l.5 1.9l.5-2.3l.5-.2l.5-1.0l.5 3.2l.5-1.2l.5 1.9l.5-7.8l.5 3.3l.5 2.8l.5 3.2l.5-5.2l.5-2.3l.5 2.6l.5 1.0l.5 1.9l.5 .6l.5-.9l.5-1.6l.5 5.0l.5-5.8l.5 1.8l.5 1.5l.5-2.3l.5 .6l.5 1.7l.5-3.8l.5 1.0l.5-.5l.5 4.8l.5-3.6l.5-3.6l.5 3.0l.5-4.0l.5 3.1l.5-4.5l.5 5.1l.5-1.9l.5-2.4l.5 4.1l.5 1.2l.5-.6l.5-.1l.5-3.0l.5 4.7l.5-6.5l.5 3.3l.5 5.3l.5-7.5l.5-1.1l.5 1.7l.5 2.7l.5-1.2l.5 2.2l.5-2.2l.5-2.5l.5 4.1l.5-3.4l.5 2.6l.5 1.6l.5-1.9l.5 1.8l.5-5.5l.5 1.3l.5 .4l.5-4.8l.5 2.5l.5-3.9l.5-3.8l.5 2.3l.5 2.1l.5 1.0l.5 3.0l.5 2.0l.5 1.7l.5-.6l.5 .9l.5-3.6l.5 1.0l.5 1.9l.5 1.6l.5-5.5l.5 4.3l.5 .9l.5-1.6l.5 .3l.5-1.1l.5 .7l.5-.8l.5-2.6l.5 6.0l.5-2.5l.5-2.0l.5 3.6l.5-3.6l.5 1.7l.5-5.1l.5 2.2l.5 3.6l.5 1.0l.5 1.0l.5-.8l.5 1.1l.5-4.9l.5-1.2l.5-1.8l.5 5.6l.5-.6l.5 3.8l.5-3.9l.5 3.9l.5-7.1l.5 7.1l.5-4.1l.5 3.1l.5-.9l.5-4.2l.5 3.6l.5-3.5l.5 2.9l.5-.9l.5-.6l.5-1.4l.5-.1l.5 .8l.5-5.3l.5 7.6l.5-2.1l.5 .7l.5-2.5l.5 2.7l.5-1.9l.5 4.3l.5-6.7l.5 5.6l.5-4.7l.5 2.3l.5-1.6l.5-1.7l.5-2.6l.5 6.1l.5-5.4l.5 2.9l.5 4.0l.5 .3l.5-2.1l.5-4.0l.5 3.5l.5 .6l.5-1.8l.5 4.9l.5-2.4l.5 .1l.5-1.0l.5-3.0l.5 .7l.5-.3l.5 4.6l.5-2.8l.5 .9l.5-.1l.5 0l.5 2.9l.5-1.7l.5-1.1l.5-.3l.5 2.9l.5-7.2l.5 6.8l.5-4.2l.5 2.1l.5-1.8l.5 .5l.5-.7l.5-7.4l.5 5.5l.5 .8l.5-1.0l.5-1.1l.5 5.3l.5-3.5l.5 2.3l.5 2.1l.5-5.3l.5 1.6l.5 2.6l.5-3.5l.5-.3l.5-4.0l.5 7.7l.5-3.4l.5-2.3l.5 5.0l.5-2.8l.5 .9l.5-1.3l.5 3.1l.5-.1l.5-2.5l.5 1.1l.5 3.4l.5-3.3l.5-1.6l.5 3.6l.5-5.3l.5 .1l.5-6.2l.5-5.6l.5-9.6l.5-9.1l.5-4.6l.5 2.3l.5 14.9l.5 8.3l.5 8.1l.5-.2l.5 3.7l.5-.2l.5 1.1l.5 5.6l.5-4.6l.5 2.6l.5-.7l.5-6.0l.5 4.0l.5 .8l.5-6.7l.5 .1l.5 6.9l.5-12.0l.5-7.1l.5-2.3l.5 1.3l.5 8.1l.5 4.7l.5 1.5l.5 5.3l.5 1.4l.5-1.2l.5-4.1l.5 .2l.5-2.6l.5 2.5l.5-4.4l.5-4.1l.5-5.5l.5-.7l.5 3.1l.5 2.5l.5 10.3l.5-.5l.5-1.9l.5 5.7l.5-3.3l.5 6.1l.5-1.0l.5-1.7l.5 3.9l.5-7.2l.5 2.7l.5-1.2l.5-1.4l.5-.9l.5 5.3l.5-3.0l.5-1.6l.5 .9l.5 8.0l.5-6.8l.5-1.8l.5 .9l.5 2.8l.5-3.3l.5-.6l.5-.1l.5-1.6l.5-.6l.5 1.3l.5-7.4l.5-2.1l.5-4.4l.5 11.8l.5 3.4l.5-3.3l.5 2.8l.5-3.4l.5 3.1l.5 0l.5-5.9l.5 7.2l.5 .5l.5-3.1l.5-1.9l.5 2.7l.5-.1l.5 2.6l.5-2.1l.5-.2l.5 2.3l.5-1.1l.5-1.5l.5-2.1l.5-.4l.5-.1l.5-.4l.5 .9l.5 3.5l.5-3.3l.5 .3l.5-3.9l.5 7.0l.5-3.0l.5 2.5l.5-.1l.5-2.4l.5 2.5l.5-4.5l.5 1.5l.5 4.6l.5-5.6l.5 2.8l.5-.9l.5-1.9l.5 5.1l.5-3.6l.5 1.8l.5 2.7l.5-8.1l.5 2.7l.5 1.9l.5-2.6l.5 2.3l.5-2.1l.5-3.4l.5-5.3l.5-13.6l.5-14.4l.5-6.9l.5 11.7l.5 9.4l.5 16.3l.5 .2l.5 1.5l.5 .3l.5 8.1l.5-2.9l.5 1.2l.5-4.1l.5 6.1l.5-6.8l.5 3.1l.5-1.0l.5 3.2l.5-5.1l.5 1.2l.5-.2l.5 0l.5-.5l.5 .5l.5-1.2l.5-5.7l.5-3.3l.5-1.4l.5 2.9l.5 2.7l.5 4.4l.5 1.1l.5 2.1l.5-2.7l.5 2.2l.5-1.6l.5-2.6l.5 2.4l.5 1.8l.5-1.7l.5-1.3l.5 3.5l.5 .9l.5-1.5l.5-.2l.5-4.6l.5 4.1l.5 2.4l.5-.8l.5-2.8l.5 2.2l.5-3.4l.5-.5l.5 1.2l.5-.9l.5-3.5l.5-.8l.5 .5l.5-6.9l.5-2.9l.5-5.1l.5-4.7l.5-8.3l.5-1.6l.5 4.4l.5 1.2l.5 5.7l.5 3.4l.5 9.1l.5 .3l.5 2.0l.5-1.1l.5 4.2l.5-.2l.5 2.1l.5 .5l.5 1.2l.5 3.8l.5-5.9l.5 2.2l.5-1.1l.5 .6l.5 1.0l.5 1.7l.5-1.6l.5 .4l.5 1.2l.5-1.0l.5-1.3l.5 .9l.5 .3l.5-3.9l.5 5.0l.5-1.5l.5 .6l.5-2.1l.5-4.1l.5 1.7l.5 2.1l.5-2.6l.5 5.0l.5-5.7l.5 5.8l.5-3.6l.5-.4l.5-6.3l.5-3.8l.5-12.0l.5-15.0l.5-20.1l.5-11.6l.5-1.7l.5 27.3l.5 14.6l.5 12.7l.5 1.8l.5-5.7l.5-6.8l.5-7.0l.5-8.7l.5 5.8l.5 13.5l.5 5.9l.5 8.9l.5 .5l.5 4.7l.5-5.9l.5 5.5l.5-1.7l.5-3.0l.5-1.4l.5-1.7l.5-4.4l.5-5.7l.5 4.0l.5 5.1l.5 4.1l.5 7.6l.5-1.5l.5 2.1l.5-4.7l.5 .6l.5-3.3l.5-1.0l.5-6.4l.5 .4l.5-.8l.5 3.3l.5 2.3l.5 3.3l.5 4.4l.5-1.9l.5 1.7l.5 1.6l.5 .9l.5-5.5l.5 1.0l.5-3.2l.5 1.7l.5-2.4l.5-1.7l.5-5.6l.5-.1l.5-3.5l.5 6.2l.5-.4l.5 2.2l.5 4.6l.5 2.8l.5-1.3l.5 2.2l.5 1.2l.5-.8l.5-1.0l.5 .8l.5 3.3l.5-1.0l.5-2.5l.5 1.7l.5 2.8l.5-1.0l.5-1.4l.5-.4l.5 3.2l.5 3.4l.5-3.6l.5-1.2l.5 .2l.5 4.2l.5-6.1l.5 3.3l.5 1.1l.5-1.0l.5 5.8l.5-3.8l.5-.1l.5 1.8l.5-2.4l.5-3.6l.5 4.0l.5-1.4l.5 0l.5 4.1l.5-4.2l.5 2.3l.5 .3l.5 1.1l.5 4.1l.5-5.8l.5 2.2l.5 2.8l.5-2.0l.5-1.5l.5 .5l.5 3.1l.5-5.5l.5 5.8l.5-.3l.5-4.1l.5 .3l.5 0l.5-1.8l.5 1.5l.5-5.1l.5 1.0l.5 1.6l.5 .5l.5 2.6l.5-.7l.5 1.3l.5-1.6l.5 .2l.5 1.0l.5-2.5l.5-.1l.5 .7l.5-1.5l.5 1.8l.5 .6l.5-1.7l.5 .2l.5 .5l.5 3.4l.5 .4l.5-4.7l.5 3.9l.5-2.5l.5-2.1l.5 1.6l.5-1.0l.5-.1l.5-1.3l.5 3.1l.5-3.7l.5 1.8l.5 2.3l.5 2.4l.5-4.2l.5 .2l.5 1.0l.5-2.1l.5 2.9l.5-7.5l.5 5.4l.5-2.4l.5 2.1l.5 2.5l.5-2.5l.5-.8l.5 1.1l.5-1.0l.5 1.1l.5-.9l.5-.8l.5-1.2l.5 4.0l.5-1.9l.5-2.0l.5 .1l.5 2.7l.5-1.9l.5 2.2l.5 2.0l.5 4.4l.5-5.7l.5 2.6l.5-6.5l.5 1.9l.5 1.8l.5 .6l.5-4.0l.5 5.4l.5-1.0l.5-.5l.5 .1l.5-2.0l.5 3.0l.5-1.6l.5-1.0l.5 1.9l.5-3.1l.5 1.5l.5 .1l.5 1.5l.5-1.0l.5 1.4l.5-3.1l.5 .3l.5 3.4l.5-1.0l.5-1.5l.5 2.0l.5 0l.5 1.2l.5-1.3l.5-2.5l.5 1.6l.5 2.1l.5-.7l.5-2.3l.5 4.0l.5-3.6l.5 1.3l.5-3.2l.5 4.0l.5 .6l.5-1.1l.5 .5l.5-1.5l.5 2.6l.5-2.1l.5 2.3l.5-.3l.5-.7l.5 .5l.5-.1l.5-1.0l.5-2.8l.5 6.5l.5 1.3l.5-3.9l.5-1.9l.5 2.2l.5-3.2l.5 4.0l.5 2.2l.5-2.5l.5 0l.5-5.2l.5 3.2l.5-2.0l.5 6.0l.5-3.6l.5-.4l.5 1.8l.5 1.1l.5-.9l.5-3.9l.5 1.1l.5-.9l.5-3.0l.5 .8l.5-4.1l.5 1.5l.5 1.3l.5-1.1l.5-2.3l.5 3.3l.5 1.2l.5 .1l.5-3.1l.5 2.0l.5 .3l.5 6.3l.5-4.7l.5-2.2l.5 2.7l.5-3.1l.5 .2l.5 3.1l.5-1.2l.5-2.5l.5-2.8l.5-5.2l.5 6.7l.5-1.8l.5 4.8l.5 .8l.5-4.4l.5 .7l.5 2.6l.5 1.9l.5 2.5l.5-4.0l.5-.9l.5 3.8l.5-.4l.5 .9l.5 3.3l.5-3.9l.5 3.4l.5-2.6l.5 1.5l.5 .7l.5-2.3l.5-3.6l.5 .5l.5 .3l.5-5.0l.5-1.0l.5 3.0l.5 1.0l.5 5.1l.5 .6l.5-6.7l.5 6.9l.5-2.6l.5 1.3l.5 3.5l.5-2.7l.5-.8l.5-1.3l.5 2.0l.5 .8l.5 .4l.5-3.1l.5 4.9l.5-4.7l.5 3.7l.5-3.9l.5 3.3l.5-.1l.5-5.1l.5 1.6l.5 .3l.5 2.4l.5-3.1l.5-.3l.5 9.2l.5-4.6l.5 1.2l.5-1.9l.5 .5l.5 .9l.5-1.1l.5-1.2l.5-.2l.5 3.5l.5-4.6l.5 2.9l.5-1.3l.5-.7l.5 2.4l.5-2.8l.5-3.6l.5 6.5l.5-1.6l.5 .3l.5 1.5l.5-2.9l.5 2.9l.5-3.5l.5 5.4l.5-7.4l.5 2.7l.5-.6l.5-2.1l.5 .5l.5 2.0l.5-3.8l.5 3.7l.5 1.6l.5-4.0l.5 .8l.5-1.2l.5 2.3l.5 .8l.5-1.3l.5 .3l.5 1.9l.5 .2l.5-3.6l.5 1.3l.5-.6l.5-2.1l.5 3.3l.5 1.0l.5-.4l.5-2.4l.5 4.3l.5-.5l.5-3.3l.5 .9l.5 2.6l.5-3.0l.5 3.5l.5 .8l.5-3.4l.5 .3l.5 0l.5 2.9l.5-.9l.5-3.9l.5-.7l.5 1.6l.5 .6l.5-1.5l.5 4.1l.5-1.8l.5 1.7l.5 .1l.5-4.2l.5 6.2l.5-1.1l.5-4.0l.5-1.5l.5 .1l.5 2.9l.5-2.3l.5 1.8l.5 3.2l.5-4.0l.5-.5l.5 1.8l.5-.2l.5-3.0l.5-1.7l.5 3.2l.5-.8l.5-.5l.5 1.0l.5 .8l.5-2.8l.5 3.5l.5-3.3l.5 1.6l.5 .9l.5 1.4l.5 1.2l.5-1.6l.5-.9l.5 1.2l.5 0l.5-2.1l.5 1.5l.5-.7l.5 1.3l.5-4.3l.5 .4l.5-1.8l.5 6.4l.5-2.6l.5 1.0l.5-4.0l.5 5.6l.5-.4l.5 2.5l.5 .4l.5-2.4l.5-.8l.5 .3l.5-1.1l.5-.6l.5 .5l.5 .5l.5-2.2l.5 .9l.5 4.7l.5-5.3l.5 .1l.5 1.8l.5-3.1l.5 1.1l.5-2.4l.5 3.1l.5-1.8l.5-2.3l.5 5.4l.5 .9l.5-2.1l.5 4.5l.5-7.8l.5 .3l.5 3.6l.5 1.9l.5-2.4l.5-.6l.5-1.5l.5 6.3l.5-5.4l.5 2.6l.5-1.1l.5-3.8l.5 4.9l.5-3.4l.5 2.3l.5 .4l.5-1.5l.5 4.4l.5-.5l.5-3.0l.5 2.3l.5 1.3l.5 1.6l.5-4.3l.5 5.4l.5-6.4l.5-.7l.5 3.9l.5-3.9l.5 5.5l.5-8.4l.5 3.9l.5 1.3l.5-5.2l.5 6.2l.5-5.4l.5 4.1l.5-.2l.5 .1l.5 1.3l.5-.2l.5-3.7l.5-.3l.5 2.3l.5-3.8l.5 6.8l.5-3.2l.5 5.8l.5-3.8l.5-2.5l.5-.8l.5 5.2l.5-9.9l.5 6.3l.5 5.8l.5-4.8l.5 1.6l.5-1.7l.5 1.1l.5-3.3l.5 1.8l.5 2.5l.5-2.9l.5 .2l.5 2.4l.5-.4l.5-2.0l.5-2.3l.5-.7l.5 2.9l.5-.3l.5 4.0l.5 3.4l.5-3.1l.5-4.6l.5 .5l.5-3.0l.5 4.0l.5-.2l.5 1.4l.5-4.2l.5 2.8l.5-.7l.5 2.2l.5-5.4l.5 6.1l.5-2.8l.5-.2l.5-2.6l.5 2.2l.5 .9l.5-1.4l.5 .8l.5-3.3l.5 2.4l.5-2.2l.5-2.2l.5 1.0l.5 2.3l.5 1.3l.5-.8l.5 2.7l.5-2.3l.5-.6l.5-1.2l.5 2.5l.5-1.2l.5-3.9l.5 4.0l.5-.1l.5-.4l.5 6.2l.5-4.9l.5 .4l.5-.4l.5-2.3l.5 1.7l.5 .2l.5 .2l.5-2.2l.5 2.5l.5-1.4l.5-2.0l.5 .5l.5 1.3l.5 .8l.5-2.8l.5-.6l.5 1.3l.5 1.1l.5 4.7l.5-2.3l.5-6.0l.5 3.8l.5 1.5l.5 1.9l.5-2.7l.5 4.1l.5-5.6l.5 6.1l.5-5.4l.5 .6l.5 1.0l.5-2.0l.5-1.2l.5 3.5l.5-.3l.5 3.1l.5-1.4l.5-3.2l.5 2.7l.5-3.0l.5-1.9l.5 3.1l.5-.8l.5-.4l.5 3.7l.5-2.2l.5-1.8l.5 1.2l.5 2.1l.5-4.8l.5 6.0l.5-.4l.5 .7l.5 1.8l.5-.3l.5-4.2l.5 3.1l.5-2.4l.5-3.2l.5 2.4l.5-.2l.5 1.5l.5-2.7l.5 .1l.5 2.6l.5-2.3l.5 .5l.5-.5l.5 2.3l.5-.3l.5-1.3l.5-5.3l.5 7.9l.5-3.5l.5 2.3l.5-1.4l.5-2.9l.5 5.2l.5-2.3l.5 1.0l.5 .6l.5 4.9l.5-6.0l.5 .6l.5-.5l.5 1.0l.5 1.4l.5-1.2l.5 .8l.5-.8l.5-.5l.5-.5l.5 5.6l.5-7.3l.5 1.9l.5-1.9l.5 3.8l.5 .1l.5-1.7l.5-1.9l.5 3.5l.5 1.0l.5-6.6l.5 1.7l.5 1.3l.5 .1l.5 .1l.5 1.4l.5-2.3l.5 .6l.5 1.7l.5-2.1l.5 4.1l.5-2.6l.5 2.0l.5-1.4l.5 1.0l.5-1.7l.5 0l.5 .4l.5-2.2l.5 4.2l.5-5.0l.5 4.1l.5-3.3l.5 2.8l.5-.7l.5 1.9l.5 4.0l.5-.7l.5-6.1l.5 1.4l.5-1.7l.5 2.3l.5-3.1l.5 3.6l.5-4.0l.5 6.4l.5-4.1l.5-2.0l.5 1.6l.5 1.4l.5-2.8l.5 6.1l.5-2.6l.5-2.2l.5-1.5l.5 3.2l.5 .4l.5 .6l.5-1.9l.5-1.7l.5 3.8l.5-2.1l.5-1.8l.5 2.2l.5-.4l.5-.6l.5 2.4l.5-7.5l.5 7.3l.5-2.9l.5-.5l.5 0l.5 1.3l.5-3.5l.5 2.4l.5 2.3l.5-.6l.5-4.2l.5 .4l.5-1.7l.5-.1l.5 4.9l.5 .1l.5-4.7l.5 7.0l.5-1.1l.5-1.7l.5-2.4l.5-.4l.5 2.6l.5-.7l.5-4.5l.5 3.8l.5 .2l.5 2.9l.5-4.7l.5 1.4l.5 .5l.5 .1l.5-.9l.5 4.2l.5-5.0l.5 .8l.5-.9l.5 1.7l.5 3.0l.5-1.9l.5 1.2l.5-.3l.5-1.7l.5-3.5l.5 4.6l.5-.2l.5-.2l.5-.3l.5 .6l.5-1.1l.5-.2l.5 .3l.5 1.9l.5 3.3l.5-2.3l.5-5.5l.5 4.6l.5 .9l.5 .7l.5-3.0l.5-2.1l.5 5.3l.5-2.8l.5 5.1l.5-6.7l.5 6.9l.5-7.1l.5 6.9l.5-3.8l.5 1.6l.5-.8l.5 1.2l.5-1.6l.5 1.3l.5-4.2l.5 2.6l.5-2.4l.5 2.7l.5 .6l.5-.8l.5 2.4l.5-.8l.5-.7l.5 .4l.5 .9l.5-5.2l.5 .7l.5 .8l.5-2.3l.5 .9l.5-2.3l.5 .7l.5 5.5l.5-3.6l.5-3.7l.5 4.8l.5-1.4l.5-3.4l.5 2.6l.5 1.0l.5 1.1l.5-1.9l.5 3.7l.5-2.9l.5 5.8l.5-2.8l.5 1.3l.5-.2l.5-5.5l.5 5.6l.5 3.0l.5-2.0l.5-3.1l.5-3.2l.5 4.7l.5-3.5l.5 1.5l.5 1.5l.5 .5l.5-4.3l.5 3.9l.5-1.0l.5-1.7l.5-.1l.5 1.5l.5 2.9l.5-4.7l.5 2.8l.5-3.9l.5 .5l.5 .9l.5-.4l.5-.2l.5-1.6l.5 .1l.5 .3l.5 2.3l.5-.8l.5 1.0l.5 .8l.5-2.6l.5-1.2l.5-.1l.5 5.3l.5-1.5l.5 1.6l.5-.6l.5-2.7l.5 1.7l.5-.7l.5 4.6l.5-3.5l.5 2.2l.5-3.2l.5 2.7l.5-2.3l.5-1.8l.5 4.4l.5-4.3l.5 1.1l.5 2.4l.5-.7l.5-1.7l.5 1.0l.5 2.7l.5-4.5l.5-4.2l.5 7.8l.5-3.5l.5 .4l.5 2.2l.5-2.8l.5 .2l.5 2.8l.5-1.2l.5-1.6l.5-1.7l.5-.1l.5 4.3l.5-.6l.5-3.2l.5 2.7l.5-5.2l.5 5.9l.5-.9l.5-2.4l.5 4.0l.5-1.8l.5-1.6l.5-.1l.5 .1l.5 2.4l.5-.5l.5-2.4l.5-1.8l.5 2.1l.5 1.2l.5-2.7l.5 0l.5 1.3l.5 1.2l.5 1.0l.5 1.2l.5-6.1l.5 6.6l.5-1.3l.5-1.8l.5 3.1l.5-6.1l.5 .4l.5 8.6l.5-7.2l.5 3.4l.5-2.9l.5 1.4l.5-1.3l.5 4.5l.5-6.8l.5 4.4l.5-2.3l.5-.1l.5 4.0l.5-3.9l.5 1.7l.5 1.2l.5-1.0l.5 1.1l.5 .8l.5-1.8l.5-1.2l.5 .6l.5-.7l.5 3.1l.5-3.6l.5 2.4l.5 .7l.5-3.0l.5-1.9l.5 5.2l.5-1.8l.5-.5l.5 .1l.5 .5l.5 .5l.5-.9l.5-1.0l.5 2.6l.5 .5l.5-2.9l.5-2.9l.5 6.5l.5-.5l.5-.2l.5-2.6l.5 3.6l.5-1.5l.5-1.6l.5-1.0l.5 5.2l.5-3.4l.5-.5l.5-2.1l.5 3.6l.5-2.2l.5 4.2l.5-3.5l.5 .8l.5-2.9l.5-.7l.5 .8l.5 1.2l.5-1.4l.5 .7l.5-.2l.5 4.0l.5 .9l.5-3.6l.5 4.8l.5-2.6l.5-1.2l.5 0l.5 2.8l.5-2.7l.5 .7l.5 4.1l.5-7.2l.5 .2l.5 1.8l.5-2.8l.5 1.0l.5-.1l.5 6.0l.5-2.7l.5-2.2l.5-.9l.5 3.4l.5 .4l.5-3.0l.5 2.8l.5-3.5l.5 3.9l.5-1.6l.5-1.8l.5-2.4l.5 3.1l.5 .9l.5 3.0l.5-5.1l.5 .5l.5-1.7l.5 2.9l.5-1.8l.5-1.8l.5 1.3l.5 0l.5-1.3l.5 2.4l.5-1.9l.5 .3l.5 1.1l.5-3.4l.5 4.0l.5-1.1l.5-.9l.5 5.8l.5-3.0l.5-2.6l.5-1.5l.5 1.8l.5 4.5l.5-7.7l.5 5.6l.5-3.5l.5 2.8l.5 4.3l.5-2.6l.5-1.9l.5-1.6l.5 2.1l.5-3.8l.5-.3l.5 2.4l.5 4.0l.5-3.2l.5 2.2l.5-3.7l.5 1.8l.5-3.2l.5 3.7l.5-1.6l.5 4.2l.5-1.1l.5-.1l.5 1.2l.5-3.6l.5-5.8l.5-.4l.5 2.4l.5-4.2l.5-.3l.5-.9l.5 3.1l.5-5.4l.5 8.7l.5 .8l.5-.4l.5 .8l.5 5.3l.5-2.9l.5-5.7l.5 8.4l.5-5.4l.5 2.6l.5 3.4l.5-5.9l.5 1.3l.5 1.9l.5-2.0l.5 2.1l.5-2.7l.5 .2l.5 1.0l.5-.2l.5 1.3l.5 1.1l.5 .9l.5-5.8l.5 2.2l.5 1.0l.5 2.2l.5-.3l.5-4.1l.5 6.5l.5-4.9l.5 5.4l.5-7.0l.5 .4l.5 4.7l.5-4.3l.5 1.2l.5 2.4l.5-1.4l.5 3.2l.5-6.1l.5 1.7l.5-2.2l.5 2.9l.5 .3l.5-1.1l.5-3.5l.5 3.5l.5-3.2l.5 .7l.5 .7l.5 1.4l.5 .8l.5-2.5l.5 1.2l.5 4.9l.5-4.4l.5 1.4l.5-2.2l.5 6.5l.5-7.6l.5-.1l.5-1.3l.5-1.1l.5 1.2l.5-3.6l.5 1.0l.5 1.8l.5-5.5l.5 2.6l.5 0l.5 3.3l.5-.2l.5 3.2l.5-7.7l.5 10.1l.5-2.9l.5 2.7l.5-5.5l.5 6.9l.5-7.6l.5 1.4l.5 3.1l.5-3.0l.5 .5l.5 6.1l.5-3.5l.5-1.7l.5-.2l.5 3.2l.5 .2l.5-2.1l.5-3.5l.5 2.8l.5-3.9l.5 3.1l.5 3.6l.5 1.9l.5-.4l.5-1.5l.5 .8l.5-5.5l.5 4.5l.5-5.3l.5 1.6l.5 2.5l.5 4.2l.5-6.1l.5-1.0l.5 3.2l.5 .2l.5-4.3l.5 3.0l.5-1.9l.5 3.4l.5-.4l.5-.5l.5-.4l.5 1.2l.5-2.8l.5 5.5l.5 .7l.5-2.8l.5-4.4l.5 6.1l.5-7.1l.5 4.6l.5 .1l.5-1.3l.5 1.7l.5 1.1l.5-6.0l.5 5.2l.5-4.0l.5 1.6l.5-2.3l.5 1.6l.5 1.0l.5-1.0l.5 1.5l.5-1.1l.5 .1l.5 .3l.5-.6l.5 4.4l.5-5.8l.5 6.4l.5-4.5l.5-2.1l.5-.6l.5 1.9l.5 .6l.5 .8l.5 2.9l.5-6.9l.5 4.5l.5 .2l.5-3.8l.5 3.4l.5 2.5l.5-.7l.5-4.0l.5 4.6l.5-2.7l.5-.7l.5-.4l.5 2.8l.5-1.5l.5 1.4l.5-1.8l.5 .5l.5 1.1l.5-.2l.5-1.6l.5 .7l.5-.9l.5 1.1l.5-3.2l.5 1.9l.5 3.8l.5-1.9l.5-.5l.5-2.7l.5 2.7l.5-1.0l.5-.8l.5 4.3l.5-7.6l.5 4.2l.5 1.8l.5-.2l.5-1.3l.5-1.3l.5-1.4l.5 .8l.5-1.0l.5-.4l.5-.1l.5 1.9l.5-3.0l.5-2.1l.5-1.5l.5 2.2l.5-5.4l.5 5.8l.5-5.0l.5 3.2l.5 2.6l.5-1.0l.5 2.4l.5 2.7l.5-2.8l.5-3.8l.5 6.5l.5-1.6l.5 2.3l.5 .3l.5-4.3l.5 5.7l.5-4.3l.5 1.9l.5-2.0l.5 6.5l.5-3.7l.5 1.3l.5-5.0l.5 2.2l.5 3.5l.5 1.2l.5-3.1l.5-1.7l.5 1.5l.5 .5l.5 .4l.5-1.1l.5 3.1l.5-4.8l.5 2.9l.5-.6l.5 1.3l.5-5.2l.5 2.5l.5 1.1l.5 1.2l.5-1.7l.5 1.5l.5-2.1l.5-.7l.5-2.1l.5 5.2l.5 5.2l.5-10.6l.5 2.8l.5-1.1l.5 2.7l.5 3.8l.5-5.2l.5 3.5l.5-2.6l.5-2.5l.5 .2l.5 4.5l.5-3.0l.5 3.9l.5-2.3l.5-.1l.5-3.3l.5 1.9l.5-3.0l.5 5.4l.5-1.3l.5 3.6l.5-4.6l.5 1.8l.5-1.9l.5 2.9l.5-5.0l.5 2.4l.5-1.5l.5-4.2l.5 2.5l.5 4.7l.5-.6l.5-2.7l.5 3.8l.5-2.2l.5 .8l.5-1.5l.5-1.7l.5 1.5l.5 3.2l.5-3.9l.5-5.5l.5 6.5l.5-2.2l.5-4.9l.5 4.7l.5-.5l.5-.2l.5 .3l.5-3.0l.5-.6l.5-4.0l.5-2.8l.5 .3l.5-4.3l.5-3.6l.5-4.4l.5-1.7l.5-7.2l.5-.8l.5-1.4l.5 7.0l.5-.1l.5 2.9l.5 8.2l.5-3.6l.5 8.2l.5 5.0l.5-.4l.5 1.6l.5 1.6l.5 2.8l.5 .7l.5-.8l.5 3.9l.5 .4l.5-.8l.5-5.2l.5 4.4l.5-.3l.5-2.1l.5 3.8l.5-3.3l.5 4.4l.5 .4l.5-2.2l.5 3.9l.5-6.3l.5 6.4l.5-3.2l.5-1.0l.5-.1l.5 4.0l.5-3.3l.5-.7l.5 5.9l.5-4.5l.5 4.8l.5-5.2l.5 1.6l.5-3.3l.5 .4l.5 1.3l.5-3.2l.5 2.2l.5-1.0l.5 1.1l.5 3.4l.5-2.7l.5-.1l.5-1.1l.5 3.2l.5-.4l.5 2.7l.5-2.2l.5 1.0l.5-1.4l.5 2.6l.5-6.6l.5 3.9l.5-3.2l.5-1.5l.5 2.9l.5-2.1l.5 3.8l.5-1.4l.5-2.1l.5 .1l.5 3.3l.5-1.3l.5 2.4l.5-4.2l.5 6.5l.5-6.5l.5-3.2l.5 5.2l.5 3.5l.5-5.1l.5-1.3l.5-2.0l.5 2.4l.5 2.1l.5 .6l.5 .9l.5 2.5l.5-5.0l.5 4.0l.5-1.9l.5 3.7l.5-2.6l.5 0l.5-.2l.5-2.5l.5-.9l.5 1.8l.5-2.5l.5 5.3l.5-6.6l.5 3.3l.5 .1l.5-1.5l.5 .6l.5 1.4l.5 1.8l.5-1.5l.5 .5l.5-.7l.5 5.8l.5-8.6l.5-2.5l.5 8.2l.5-.4l.5-1.9l.5-3.7l.5 6.2l.5-1.0l.5-.2l.5 1.5l.5-4.1l.5-1.2l.5 2.6l.5-.7l.5-1.4l.5 1.5l.5-3.0l.5 2.2l.5 2.3l.5-5.2l.5 1.2l.5-.3l.5-1.5l.5 4.4l.5-.8l.5-1.8l.5 3.4l.5-2.3l.5 1.6l.5-1.3l.5 1.8l.5 1.6l.5-5.1l.5 2.9l.5-.9l.5-.5l.5 1.0l.5-.7l.5 3.9l.5-2.7l.5 .1l.5 4.3l.5-2.0l.5-2.6l.5 .6l.5 1.0l.5-1.1l.5-1.1l.5 .6l.5-1.8l.5 4.6l.5-.9l.5-4.8l.5 3.4l.5-2.8l.5-1.8l.5 2.1l.5 2.0l.5 1.2l.5-2.9l.5 .2l.5 2.2l.5 .8l.5-5.7l.5 6.3l.5-4.8l.5 4.7l.5 .9l.5-3.2l.5-2.0l.5 .7l.5 3.0l.5-4.4l.5-2.0l.5 4.8l.5-1.0l.5-1.3l.5 3.4l.5-.2l.5-1.6l.5-.6l.5-1.1l.5 1.3l.5-4.3l.5 1.8l.5 1.7l.5 2.6l.5-5.3l.5 4.0l.5 2.8l.5-1.7l.5-1.7l.5 4.4l.5-.6l.5 .1l.5-3.0l.5-1.2l.5-1.8l.5 1.7l.5 .4l.5 .7l.5 2.6l.5-1.8l.5-.1l.5-2.2l.5 .3l.5 1.7l.5 1.3l.5-.1l.5-1.7l.5-.1l.5-4.0l.5 9.2l.5-4.8l.5-2.4l.5 .2l.5 2.6l.5-1.2l.5 1.5l.5-3.4l.5 2.8l.5 3.0l.5-4.2l.5-.8l.5-.1l.5 .6l.5 1.1l.5 3.2l.5-.4l.5-5.8l.5 2.7l.5-2.2l.5 2.1l.5-1.4l.5 3.1l.5-1.5l.5 3.1l.5-2.1l.5 3.2l.5-3.1l.5-2.1l.5 5.2l.5-3.9l.5-4.1l.5 5.0l.5 1.4l.5-4.5l.5 1.2l.5 2.0l.5-1.2l.5 .1l.5-3.4l.5 1.2l.5-.3l.5 5.0l.5-1.3l.5-1.0l.5 2.3l.5 1.2l.5-3.4l.5-3.3l.5 2.1l.5-4.7l.5 3.1l.5 1.1l.5-3.6l.5 3.9l.5 1.3l.5-3.0l.5 .3l.5 3.4l.5-.5l.5 1.9l.5-.2l.5-5.4l.5 1.5l.5-.9l.5 1.8l.5-2.8l.5 3.4l.5-.3l.5 2.2l.5 1.8l.5 .2l.5-8.8l.5 5.2l.5-.8l.5-3.4l.5 6.4l.5-4.4l.5 2.3l.5 1.1l.5-2.7l.5 4.2l.5-8.1l.5 7.2l.5-5.6l.5 4.9l.5-4.1l.5 1.5l.5 2.6l.5 .3l.5 2.1l.5-.3l.5-5.4l.5 1.7l.5 2.8l.5-1.2l.5-1.7l.5 2.0l.5 1.3l.5 .3l.5 1.4l.5-5.1l.5 1.8l.5 1.2l.5-3.9l.5 1.8l.5 .6l.5-1.7l.5-.6l.5 5.8l.5-6.3l.5 5.5l.5-1.0l.5-3.2l.5 3.6l.5-3.0l.5 .9l.5-.3l.5-.2l.5 3.6l.5-2.0l.5 .7l.5-.9l.5 6.1l.5-9.2l.5 3.6l.5 2.5l.5-4.9l.5 1.5l.5 3.7l.5 .8l.5-1.4l.5 1.6l.5-4.2l.5-.6l.5 2.3l.5 1.1l.5-5.4l.5 6.2l.5-4.0l.5-2.6l.5 5.8l.5-3.8l.5-1.3l.5 3.8l.5-2.9l.5-1.1l.5 5.0l.5-6.3l.5 2.7l.5 2.4l.5-1.8l.5-3.6l.5 1.2l.5-.5l.5 3.2l.5-4.7l.5 7.7l.5-5.8l.5 .4l.5-2.6l.5 3.6l.5-1.4l.5-.3l.5-2.3l.5 7.0l.5-3.1l.5-3.0l.5 1.1l.5 3.0l.5-2.1l.5 .9l.5-3.6l.5 4.7l.5-5.8l.5 3.2l.5-3.9l.5 5.0l.5 .1l.5-1.0l.5 1.3l.5 .8l.5-4.2l.5 1.6l.5-1.1l.5 4.8l.5-6.8l.5 2.0l.5 1.1l.5 .7l.5 4.2l.5-5.5l.5 1.7l.5 .6l.5 1.2l.5-1.8l.5 .4l.5-.7l.5 .2l.5-.3l.5-4.1l.5 4.2l.5-.7l.5 0l.5 2.0l.5 1.2l.5 1.2l.5-2.3l.5-.4l.5 .8l.5-3.5l.5 2.4l.5-1.6l.5 7.1l.5-2.5l.5-1.4l.5 2.2l.5-.4l.5-2.3l.5 1.3l.5-1.6l.5 1.7l.5-3.4l.5 1.0l.5 .6l.5 1.1l.5-3.3l.5 2.4l.5-2.2l.5 1.9l.5-4.1l.5-.7l.5 3.9l.5 1.1l.5-2.5l.5 7.2l.5-7.4l.5-.2l.5 1.9l.5-1.2l.5 1.8l.5-3.1l.5 4.0l.5-4.8l.5 1.5l.5 .9l.5-1.7l.5 3.3l.5-.8l.5 1.6l.5-3.7l.5 2.1l.5 .7l.5 2.3l.5-1.4l.5 1.0l.5 .1l.5 1.3l.5-2.4l.5-4.6l.5 2.6l.5 4.6l.5-4.6l.5 2.2l.5 2.7l.5-4.7l.5 .3l.5-.8l.5 3.9l.5-2.4l.5-2.0l.5 .8"/>
<g fill="#000"><circle cx="126.5" cy="809.7" r="5.6"/><circle cx="151.3" cy="780.5" r="5.6"/><circle cx="170.4" cy="804.5" r="5.6"/><circle cx="216.2" cy="803.5" r="5.6"/><circle cx="262.3" cy="784.4" r="5.6"/><circle cx="495" cy="758.4" r="5.6"/><circle cx="588.2" cy="756.4" r="5.6"/><circle cx="612.5" cy="717.3" r="5.6"/><circle cx="623.4" cy="766.8" r="5.6"/><path d="M495.0 729.9L502.7 739.6L495.0 749.3L487.3 739.6Z"/><path d="M1319.3 735.6L1327.0 745.3L1319.3 755.0L1311.6 745.3Z"/><path d="M208.8 777.7L224.2 777.7L216.5 789.9Z"/><path d="M522.8 776.9L538.2 776.9L530.5 789.1Z"/><path d="M563.7 773.9L579.1 773.9L571.4 786.1Z"/></g></g>
<g id="c3">
<path class="cv" stroke="#ff00ff" d="M110.0 683.5l.5-1.8l.5 2.6l.5-1.0l.5-3.2l.5 5.7l.5-2.0l.5 2.0l.5 3.1l.5-2.8l.5-2.2l.5 1.4l.5 4.0l.5-5.1l.5 3.7l.5 .2l.5-3.3l.5 2.7l.5 .8l.5-3.0l.5 .5l.5 2.1l.5-4.0l.5 .8l.5 3.7l.5-2.0l.5-3.4l.5 2.6l.5 3.5l.5-8.3l.5 3.5l.5-2.0l.5-3.0l.5 3.1l.5-.5l.5 6.3l.5 1.3l.5-5.1l.5 1.6l.5 .9l.5-1.5l.5 2.2l.5-2.8l.5 3.5l.5-1.9l.5 .3l.5 .9l.5 .8l.5-4.2l.5 3.6l.5 .2l.5-2.0l.5 3.6l.5-4.8l.5 .6l.5 2.0l.5-2.2l.5 4.4l.5-2.3l.5 3.3l.5-5.7l.5 .4l.5 4.8l.5-5.2l.5 4.2l.5-4.3l.5 2.0l.5 1.6l.5-2.8l.5-2.3l.5 1.3l.5 3.4l.5-2.0l.5 1.1l.5-1.4l.5 .4l.5-1.2l.5-1.8l.5 3.2l.5-.8l.5-4.8l.5 3.5l.5 .6l.5-.4l.5-8.9l.5 4.6l.5 3.3l.5 1.8l.5-2.5l.5 2.7l.5-1.8l.5 .8l.5-.9l.5 1.8l.5-1.5l.5 1.3l.5-1.1l.5 1.7l.5 .7l.5-5.5l.5-3.8l.5-.3l.5 1.0l.5 .2l.5 5.5l.5 0l.5 3.5l.5-1.8l.5 2.5l.5-.2l.5-2.6l.5 .4l.5-.5l.5 0l.5 2.5l.5-3.1l.5-.1l.5-1.3l.5 3.7l.5-5.7l.5-2.3l.5-3.2l.5 4.0l.5 .6l.5 2.1l.5-2.0l.5 1.3l.5 4.1l.5 1.2l.5-5.1l.5 3.9l.5 0l.5 6.0l.5-8.6l.5 .3l.5-1.5l.5 2.7l.5-1.7l.5-5.8l.5 2.2l.5 2.6l.5-2.9l.5 4.2l.5-.3l.5-.2l.5 .8l.5 .9l.5-2.0l.5 2.8l.5 2.0l.5-3.5l.5 .9l.5-.9l.5 2.6l.5-1.1l.5 2.1l.5-2.6l.5-2.3l.5 4.4l.5-1.8l.5 3.2l.5-.9l.5-7.1l.5 1.3l.5 4.1l.5-1.8l.5-3.3l.5 3.5l.5 3.8l.5-1.4l.5-3.2l.5 2.5l.5 1.5l.5-2.4l.5 4.2l.5-5.1l.5 6.1l.5-1.1l.5-2.0l.5-.6l.5-.4l.5-2.0l.5 4.0l.5 .6l.5-1.0l.5-1.0l.5-.2l.5-2.1l.5 .7l.5-1.6l.5 4.1l.5-2.9l.5 3.6l.5-3.2l.5 4.4l.5 .3l.5-.1l.5-.7l.5-2.9l.5 .1l.5-.6l.5 2.4l.5 3.1l.5-5.7l.5 7.4l.5-6.4l.5-1.5l.5 2.9l.5 1.2l.5-3.3l.5-1.7l.5 5.3l.5-6.9l.5 3.0l.5-4.0l.5-2.4l.5 2.1l.5-.3l.5 1.4l.5 3.9l.5-2.4l.5 .8l.5 4.9l.5 .8l.5-1.5l.5-.5l.5-2.6l.5 .6l.5-2.0l.5-4.5l.5 6.3l.5-.1l.5 1.3l.5-5.4l.5 3.6l.5-4.6l.5-.6l.5 3.5l.5 3.4l.5-1.5l.5 1.2l.5-2.5l.5 3.0l.5 1.2l.5-3.8l.5 2.8l.5-3.6l.5 3.3l.5-3.6l.5 3.9l.5-.8l.5-2.3l.5 3.1l.5-2.7l.5 2.5l.5-1.8l.5 3.4l.5-2.0l.5 4.4l.5-1.8l.5 .3l.5-3.9l.5-1.7l.5 2.5l.5 5.2l.5-6.1l.5 4.3l.5-.2l.5-4.1l.5 .6l.5 3.1l.5-3.5l.5-.5l.5-.6l.5 1.1l.5-.7l.5 2.3l.5-3.1l.5 .5l.5-4.6l.5 4.6l.5-4.4l.5 1.9l.5 .3l.5-.9l.5 2.4l.5 2.5l.5-2.4l.5 3.9l.5-5.2l.5-.2l.5 4.1l.5 0l.5-3.4l.5 4.4l.5 .5l.5-2.3l.5-3.6l.5 5.3l.5-3.3l.5 .1l.5 1.0l.5-3.1l.5 3.4l.5-6.2l.5 2.6l.5 .4l.5 4.0l.5-1.5l.5 1.4l.5-2.3l.5 .4l.5-.7l.5 2.9l.5-2.8l.5 4.5l.5-3.3l.5-2.3l.5 1.1l.5 3.9l.5-3.4l.5 2.4l.5-4.4l.5 4.4l.5 .8l.5-.5l.5 .6l.5-3.7l.5-1.5l.5 .7l.5 4.4l.5-.9l.5 .9l.5-2.8l.5 2.9l.5-4.8l.5 4.1l.5-2.9l.5 1.4l.5 2.5l.5 .7l.5-1.9l.5-.3l.5 3.7l.5-.6l.5-3.6l.5 2.0l.5-1.0l.5 2.4l.5-1.1l.5-.1l.5-.8l.5-1.5l.5 3.2l.5-1.6l.5-5.9l.5 3.8l.5 1.0l.5-2.5l.5-1.1l.5-.6l.5 .1l.5-5.7l.5-.6l.5 .3l.5 1.2l.5 3.8l.5 .4l.5 5.0l.5-1.2l.5 2.5l.5-3.8l.5 5.1l.5-3.8l.5 1.2l.5 2.1l.5-2.3l.5-1.1l.5 .6l.5 2.6l.5 0l.5-1.1l.5-2.7l.5 .3l.5 2.2l.5 .1l.5-3.0l.5 .1l.5 2.9l.5 .8l.5-2.1l.5-2.8l.5 5.6l.5-3.3l.5 .9l.5-5.5l.5 3.1l.5 1.2l.5 1.2l.5-2.4l.5-1.3l.5-.2l.5 2.6l.5 1.5l.5 0l.5-4.0l.5 2.2l.5 1.5l.5 2.4l.5-.8l.5-.5l.5-4.1l.5 5.7l.5-2.5l.5 .4l.5-2.0l.5 .8l.5-.5l.5-.2l.5-1.1l.5 3.3l.5 .5l.5-2.9l.5-.4l.5 .2l.5 1.3l.5 3.7l.5-3.1l.5 4.1l.5-6.4l.5 .2l.5 .6l.5-.3l.5 2.5l.5 2.9l.5-5.2l.5 2.2l.5 1.9l.5 2.1l.5-4.6l.5 1.4l.5 .6l.5-2.6l.5 1.0l.5-1.8l.5-1.0l.5 .8l.5 3.8l.5 .5l.5-2.2l.5-3.1l.5 5.0l.5-2.6l.5 3.0l.5-2.9l.5-2.6l.5 1.8l.5-.7l.5 4.8l.5-7.9l.5 3.6l.5 .7l.5-3.5l.5 5.1l.5 .3l.5 .3l.5-.2l.5-2.1l.5 2.0l.5-3.0l.5 .9l.5 .5l.5-.3l.5 1.1l.5-2.3l.5 1.4l.5-.7l.5 1.6l.5 .8l.5-2.0l.5 4.7l.5 1.0l.5-2.9l.5-1.1l.5-1.6l.5 .7l.5-.4l.5 1.6l.5-1.8l.5 1.3l.5-.4l.5-2.1l.5-1.7l.5 .5l.5 .3l.5 2.2l.5 2.5l.5-4.4l.5 3.1l.5-1.8l.5 2.8l.5 1.8l.5-2.6l.5-1.6l.5 .2l.5 1.6l.5-3.3l.5-1.1l.5 2.0l.5 3.0l.5-4.8l.5 3.9l.5-.4l.5-2.2l.5-1.1l.5-1.7l.5 1.0l.5 2.7l.5 1.2l.5-2.9l.5 .1l.5-.4l.5 6.7l.5-7.7l.5 0l.5 5.5l.5-4.2l.5 4.6l.5-3.6l.5 4.0l.5 .8l.5-3.8l.5 .9l.5-2.0l.5 3.8l.5-2.5l.5-1.3l.5 2.8l.5-.2l.5-.9l.5-.9l.5 2.8l.5-3.4l.5-.6l.5 1.1l.5 1.4l.5-2.2l.5-.9l.5-1.2l.5 .2l.5 .1l.5 5.5l.5-7.9l.5 2.8l.5 1.3l.5-1.8l.5-.4l.5 3.9l.5 2.0l.5-.4l.5-2.1l.5-.9l.5 2.3l.5-4.8l.5 1.7l.5 4.8l.5-2.2l.5-.6l.5-.7l.5-.4l.5-1.0l.5 2.9l.5-.2l.5 0l.5-6.2l.5 7.7l.5-1.1l.5 1.3l.5-4.6l.5-3.6l.5 1.7l.5 .8l.5 6.3l.5-5.5l.5 .9l.5 3.4l.5 0l.5 .3l.5-2.9l.5 4.9l.5-3.2l.5-2.6l.5 2.5l.5-3.8l.5 .2l.5 1.1l.5-1.1l.5 1.3l.5-.4l.5 .4l.5-.8l.5 4.3l.5-4.3l.5 1.2l.5-.7l.5 .8l.5-1.4l.5 7.2l.5-4.9l.5 2.4l.5-2.4l.5-1.8l.5 1.7l.5-.3l.5-1.2l.5 2.6l.5 2.9l.5-3.2l.5 1.6l.5 .3l.5-6.9l.5 8.0l.5-6.9l.5 6.6l.5-3.4l.5 .8l.5 3.5l.5-2.4l.5-5.5l.5-.3l.5 1.3l.5 4.7l.5-1.4l.5 1.3l.5-1.0l.5 1.7l.5-4.7l.5-1.8l.5 2.4l.5 3.0l.5-4.0l.5-3.1l.5 3.6l.5 2.3l.5-.8l.5-1.7l.5-.5l.5-3.5l.5 4.3l.5 4.0l.5-5.0l.5 4.4l.5-6.0l.5 1.7l.5-.2l.5 1.1l.5-3.6l.5 6.4l.5-3.0l.5-3.8l.5 6.0l.5-.9l.5-2.8l.5 2.6l.5 2.2l.5 0l.5-.5l.5-2.0l.5 2.0l.5 2.0l.5 1.7l.5-3.4l.5 .2l.5 .2l.5-2.6l.5-3.2l.5 2.4l.5 .8l.5 .8l.5-.5l.5-1.7l.5 .3l.5 .5l.5-1.5l.5 0l.5-1.8l.5 2.8l.5 1.1l.5-1.5l.5 1.0l.5 .9l.5-2.4l.5 1.0l.5-.6l.5 2.8l.5-3.3l.5 2.3l.5-4.3l.5 7.9l.5-2.4l.5-2.8l.5 1.5l.5 4.1l.5-3.9l.5-3.4l.5 3.0l.5-1.0l.5 2.0l.5-.7l.5-3.8l.5 3.7l.5 1.5l.5 .8l.5-2.2l.5 3.2l.5-.8l.5-1.2l.5 1.8l.5-8.4l.5 8.0l.5 .4l.5-3.3l.5 1.8l.5-3.3l.5 .9l.5-.2l.5-2.0l.5 1.7l.5-3.4l.5 3.3l.5 3.7l.5 .4l.5-4.0l.5 3.8l.5-2.7l.5-3.4l.5 1.6l.5 1.3l.5 .2l.5 1.5l.5-2.8l.5 .7l.5 3.2l.5-1.8l.5 .6l.5-.9l.5 1.6l.5 0l.5-3.3l.5 4.0l.5-3.8l.5 2.1l.5-1.3l.5 2.1l.5-.7l.5 .6l.5-1.0l.5-.6l.5 .4l.5-.7l.5-1.9l.5-1.7l.5 4.2l.5 1.4l.5-5.1l.5 2.6l.5-3.2l.5 .2l.5-.8l.5-4.6l.5-5.9l.5-8.5l.5 1.8l.5 2.3l.5 7.3l.5 .1l.5 4.8l.5 3.0l.5 3.8l.5-4.3l.5 4.9l.5-1.7l.5-1.0l.5-1.4l.5 .8l.5 3.6l.5-3.3l.5-1.8l.5-.3l.5 1.3l.5-3.8l.5-2.0l.5 2.3l.5 2.8l.5 .1l.5 .2l.5 5.9l.5-2.2l.5 1.0l.5-.9l.5 2.3l.5 1.9l.5-3.6l.5 1.2l.5-.2l.5 1.2l.5-1.5l.5 .1l.5-1.3l.5 1.3l.5-1.5l.5 3.0l.5-1.8l.5 3.7l.5-4.9l.5-.8l.5 4.0l.5-.6l.5-4.2l.5 8.2l.5-6.0l.5 2.2l.5-4.1l.5 .7l.5-1.6l.5-6.8l.5-.1l.5 2.8l.5 5.7l.5 0l.5 2.3l.5-1.0l.5 .4l.5-.7l.5-2.8l.5-5.6l.5-3.4l.5-.4l.5-2.6l.5 1.7l.5 3.3l.5 3.7l.5 .5l.5 6.3l.5-5.4l.5 7.3l.5-4.1l.5 6.3l.5-4.1l.5-1.6l.5 1.1l.5-1.2l.5 4.3l.5-3.1l.5 .7l.5-2.2l.5 3.1l.5-4.3l.5 1.8l.5 3.9l.5-7.1l.5 4.7l.5 1.7l.5-2.4l.5 2.8l.5-.4l.5-1.5l.5-4.2l.5 2.4l.5 .3l.5 2.6l.5-2.4l.5-.8l.5-2.3l.5 1.9l.5 .7l.5-5.8l.5 4.9l.5 .8l.5-1.3l.5 .2l.5-.9l.5 3.1l.5-3.1l.5 3.5l.5-2.1l.5-5.5l.5 2.2l.5 .4l.5 1.6l.5-.7l.5 0l.5 2.1l.5 1.7l.5-7.0l.5 2.6l.5 5.0l.5-2.7l.5-2.6l.5 5.6l.5 .3l.5-4.9l.5 1.7l.5-1.9l.5 .5l.5 1.1l.5-2.6l.5 .4l.5-.4l.5-3.1l.5 4.4l.5 .6l.5-1.8l.5-.7l.5 1.0l.5-4.3l.5-2.6l.5 .1l.5-5.4l.5-2.0l.5-10.1l.5 5.6l.5 2.6l.5 11.8l.5-2.6l.5 4.3l.5-5.4l.5 3.2l.5 4.0l.5-2.1l.5-.1l.5 3.1l.5-.9l.5 .2l.5 .4l.5-1.7l.5 4.1l.5-1.4l.5-2.6l.5-.7l.5-3.2l.5 1.3l.5 5.1l.5-5.4l.5 1.4l.5 4.1l.5-1.7l.5-1.9l.5-.4l.5-2.1l.5 .2l.5-1.5l.5 .6l.5-4.6l.5-7.7l.5 2.2l.5 1.1l.5 4.7l.5 3.3l.5 .6l.5-.8l.5 1.8l.5-2.0l.5-6.3l.5-5.5l.5-6.4l.5-3.7l.5 2.7l.5 4.1l.5 11.0l.5-.8l.5 .8l.5 1.7l.5 2.4l.5-.2l.5-4.3l.5 1.6l.5-.3l.5 1.4l.5 1.5l.5-2.2l.5 4.9l.5-3.2l.5-.1l.5-3.8l.5-7.9l.5-1.5l.5-10.6l.5-2.2l.5 5.6l.5 5.2l.5 6.1l.5 1.2l.5 4.5l.5 .2l.5-.8l.5-2.7l.5-.5l.5 2.2l.5 2.0l.5-9.7l.5-1.7l.5-6.0l.5-7.6l.5 2.7l.5-5.3l.5-2.6l.5-6.4l.5-2.6l.5 4.8l.5-5.3l.5 5.8l.5 3.4l.5 1.2l.5 2.5l.5 5.7l.5-.9l.5 6.6l.5 2.6l.5-.1l.5 3.9l.5 3.2l.5 2.7l.5-9.3l.5-.6l.5-6.6l.5-11.6l.5-14.3l.5-14.4l.5-19.0l.5-26.8l.5-9.9l.5-18.4l.5-4.0l.5 3.1l.5 19.2l.5 11.2l.5 23.4l.5 21.5l.5 14.7l.5 15.4l.5 12.0l.5 8.6l.5 1.9l.5 2.5l.5 4.1l.5 .8l.5-1.2l.5 4.9l.5-1.6l.5-.5l.5 4.5l.5-.3l.5-2.4l.5 3.3l.5-2.8l.5 .3l.5-.9l.5 3.8l.5-2.1l.5 1.5l.5-4.0l.5 1.7l.5-2.7l.5 2.1l.5 .5l.5 .4l.5-2.8l.5 5.5l.5-5.5l.5 6.1l.5-2.5l.5 2.6l.5-4.2l.5 2.4l.5 1.0l.5 3.2l.5-3.7l.5 2.8l.5-2.8l.5 2.4l.5-2.8l.5 .4l.5 1.9l.5-4.5l.5-.6l.5 3.8l.5 4.1l.5-1.3l.5-2.7l.5 1.2l.5-.8l.5 .4l.5 2.1l.5-5.3l.5-.2l.5-1.6l.5 2.1l.5 3.7l.5-2.8l.5-3.6l.5 .9l.5 1.1l.5 4.4l.5-.3l.5 .2l.5 2.0l.5-1.3l.5 1.3l.5-3.7l.5 0l.5 1.6l.5 5.4l.5-6.1l.5 3.1l.5 1.0l.5-2.9l.5-.4l.5 7.0l.5-4.5l.5-.3l.5 1.5l.5-.4l.5-3.1l.5-.5l.5 3.4l.5-.9l.5 1.7l.5-2.2l.5 7.8l.5-4.3l.5 3.2l.5-5.1l.5 .9l.5-.6l.5 1.5l.5 1.0l.5-1.6l.5-.8l.5 1.1l.5 1.4l.5 2.5l.5-4.6l.5 1.9l.5 2.7l.5 2.0l.5-3.6l.5 1.5l.5-1.0l.5 0l.5 1.0l.5-1.1l.5 .9l.5 .2l.5 4.0l.5-3.2l.5 3.5l.5-3.8l.5 .5l.5-2.0l.5 2.1l.5 2.4l.5 .4l.5-5.5l.5 7.4l.5-4.4l.5 .4l.5 .9l.5-1.9l.5-1.9l.5 1.9l.5-.7l.5 4.9l.5-3.7l.5-4.5l.5 7.5l.5-1.4l.5-1.2l.5-3.8l.5 10.5l.5-7.5l.5-.1l.5-.7l.5 1.4l.5-.7l.5 .7l.5 .2l.5-1.0l.5 2.3l.5-4.3l.5 4.2l.5-1.0l.5-.6l.5 1.7l.5-.8l.5 .2l.5-1.3l.5-.7l.5-1.2l.5 .5l.5 1.2l.5 3.0l.5-2.2l.5 .8l.5-2.5l.5-1.0l.5 3.3l.5 4.5l.5-7.1l.5 5.0l.5-5.0l.5-.1l.5 .7l.5 .3l.5 3.5l.5-1.1l.5-.1l.5-1.1l.5 3.1l.5 2.0l.5-3.0l.5-1.2l.5-1.4l.5 1.4l.5-2.0l.5 5.2l.5-4.5l.5 3.8l.5-5.0l.5 4.2l.5-.6l.5 .3l.5-.9l.5-2.8l.5 7.8l.5-8.5l.5 5.1l.5-2.7l.5-2.0l.5 3.8l.5 1.2l.5-.9l.5-4.9l.5 1.2l.5 2.7l.5-.4l.5 1.2l.5-2.3l.5-3.1l.5 1.2l.5 3.1l.5-2.7l.5-.8l.5 3.9l.5 1.4l.5-4.3l.5 .8l.5 0l.5 2.1l.5-2.4l.5 .1l.5-.1l.5-2.9l.5 4.6l.5-.1l.5-3.8l.5-.7l.5-.7l.5-1.2l.5-2.4l.5 2.3l.5-.4l.5 .3l.5-4.4l.5 2.2l.5-2.3l.5 7.2l.5-6.2l.5 3.3l.5 4.0l.5-6.4l.5 4.2l.5-3.4l.5 5.7l.5-2.2l.5 0l.5-.2l.5 3.5l.5-.2l.5 1.8l.5 .8l.5-2.9l.5 1.8l.5 2.1l.5-1.5l.5-.2l.5-.5l.5-1.1l.5 1.1l.5 .1l.5 5.4l.5-5.4l.5-1.1l.5 3.1l.5-1.0l.5-.7l.5 2.9l.5-2.1l.5-1.4l.5 2.7l.5 2.7l.5-1.4l.5-2.3l.5 .1l.5-.7l.5 1.5l.5-1.9l.5 1.2l.5-1.0l.5 .8l.5-4.4l.5 4.2l.5-1.1l.5 .4l.5 1.4l.5-3.5l.5 .7l.5 2.1l.5-.3l.5 1.7l.5-1.3l.5-4.1l.5 4.1l.5-1.2l.5 .5l.5 1.7l.5-1.9l.5-.8l.5-3.0l.5 2.3l.5 2.6l.5-.6l.5-3.6l.5-.3l.5 2.2l.5 1.8l.5-2.4l.5 3.7l.5 1.0l.5-7.3l.5 5.9l.5-.9l.5-8.8l.5 .3l.5 2.5l.5-.3l.5-2.4l.5 2.3l.5 2.1l.5-3.0l.5-2.4l.5 4.6l.5 2.9l.5 2.1l.5-.1l.5-7.3l.5 4.0l.5 2.2l.5-1.5l.5 3.0l.5-.1l.5 1.0l.5 1.3l.5-4.0l.5 4.9l.5-6.5l.5 .8l.5-.1l.5 .3l.5 3.2l.5 2.0l.5-6.7l.5 4.5l.5 .9l.5-1.9l.5-4.8l.5 5.2l.5 .9l.5-5.7l.5 2.5l.5 3.0l.5-1.7l.5 1.5l.5 .3l.5-5.3l.5 .2l.5 4.5l.5-2.5l.5 2.4l.5-.6l.5-3.0l.5 3.6l.5-1.0l.5-2.2l.5 .3l.5-.1l.5 1.8l.5 1.3l.5-.9l.5-1.5l.5-2.6l.5 3.0l.5-.4l.5-1.2l.5-.5l.5 5.1l.5-.2l.5-6.0l.5 5.0l.5-1.1l.5 3.0l.5-5.3l.5 3.9l.5-3.2l.5 .7l.5 .8l.5 1.3l.5-1.8l.5-3.6l.5 5.0l.5-1.6l.5-.3l.5-3.0l.5 2.8l.5 3.4l.5 .2l.5-1.7l.5-2.9l.5 3.4l.5-3.4l.5 3.5l.5-2.7l.5-2.0l.5 4.2l.5-.5l.5 .1l.5-2.3l.5-.2l.5 4.6l.5-2.4l.5 3.6l.5 0l.5-5.8l.5 1.4l.5-5.3l.5 5.9l.5-1.2l.5 2.0l.5-1.1l.5-.3l.5-.6l.5-.1l.5 3.9l.5-1.5l.5 2.8l.5-3.1l.5-2.6l.5-.4l.5 4.4l.5-7.4l.5 4.2l.5-.5l.5-3.9l.5 6.7l.5-2.2l.5-.5l.5-1.3l.5 1.7l.5-.2l.5 2.4l.5-2.8l.5 5.8l.5-6.2l.5 1.6l.5-1.5l.5 3.3l.5-2.5l.5 3.9l.5-.8l.5-1.3l.5-4.4l.5 3.3l.5-.1l.5 1.5l.5-4.2l.5 4.5l.5 .2l.5-1.5l.5 .8l.5-1.7l.5 2.9l.5-4.6l.5 1.0l.5 6.7l.5-5.6l.5 .1l.5-1.9l.5 1.4l.5 1.1l.5-3.0l.5-.5l.5 2.2l.5 4.4l.5-3.8l.5 6.2l.5-2.7l.5-1.1l.5-2.3l.5 2.0l.5 5.1l.5-9.1l.5 3.5l.5 2.6l.5-1.6l.5-1.8l.5-1.1l.5 2.9l.5-5.5l.5 7.4l.5-5.5l.5-2.5l.5 3.4l.5 .1l.5-.5l.5-2.6l.5 1.9l.5 3.3l.5-.6l.5 1.9l.5-1.9l.5-2.4l.5 1.2l.5 .3l.5-.3l.5-.4l.5-.7l.5 .4l.5-.5l.5-3.8l.5 3.5l.5-1.6l.5-2.8l.5 .5l.5-1.5l.5 .2l.5-5.0l.5-.6l.5 5.2l.5-3.1l.5 3.1l.5-.2l.5-1.9l.5 3.9l.5-5.4l.5 2.9l.5-2.6l.5 3.6l.5 2.6l.5-1.2l.5 1.1l.5-1.9l.5 3.5l.5-1.4l.5 2.6l.5-1.0l.5 4.1l.5 0l.5-.4l.5 .9l.5 .9l.5-2.6l.5-1.6l.5 .1l.5 4.7l.5-2.8l.5-3.1l.5 .2l.5 4.7l.5-3.0l.5 4.1l.5-.4l.5-3.8l.5-.1l.5-1.4l.5 3.6l.5-4.4l.5 4.0l.5-1.5l.5 4.2l.5-3.8l.5-.7l.5 2.8l.5-3.4l.5 3.4l.5-2.3l.5-.8l.5 .3l.5-.1l.5-2.3l.5 3.6l.5-1.5l.5-1.2l.5 4.0l.5-2.2l.5 3.0l.5-7.0l.5 6.6l.5-2.4l.5 3.2l.5-3.4l.5-1.3l.5-.3l.5 2.2l.5-4.0l.5 2.6l.5-1.1l.5 7.1l.5-3.7l.5-1.6l.5-5.6l.5 5.8l.5-1.1l.5 1.0l.5 .1l.5-1.6l.5-1.2l.5 2.0l.5 .2l.5 .1l.5-.1l.5 .7l.5-2.7l.5 3.5l.5-2.6l.5 1.3l.5-1.1l.5 1.9l.5 3.1l.5-2.0l.5-.4l.5 0l.5-1.5l.5-1.5l.5-2.0l.5 4.4l.5 .6l.5 .3l.5-5.4l.5 2.3l.5 2.7l.5-1.6l.5 2.5l.5 .4l.5-4.6l.5 4.4l.5-2.0l.5-.8l.5 1.8l.5-2.0l.5-2.0l.5 5.2l.5-.5l.5 0l.5-.7l.5-3.1l.5 3.0l.5 3.6l.5-2.5l.5-.7l.5 .4l.5-1.0l.5 .4l.5-.2l.5-1.4l.5 1.0l.5 .5l.5 .4l.5 5.3l.5-5.7l.5-1.7l.5 2.4l.5-3.4l.5 7.2l.5-5.3l.5 .6l.5 .4l.5 1.2l.5-3.2l.5 1.8l.5-1.1l.5 .5l.5 1.5l.5-2.4l.5 4.5l.5-3.2l.5 2.1l.5-3.1l.5 1.1l.5-1.6l.5 3.1l.5-1.6l.5-1.4l.5-.8l.5 6.9l.5-3.6l.5 .6l.5 1.1l.5-1.6l.5 1.7l.5-3.1l.5 .7l.5 2.9l.5-6.2l.5 2.7l.5-1.8l.5 4.5l.5-4.1l.5 .8l.5-.3l.5-2.1l.5 1.0l.5-.8l.5 3.2l.5-3.4l.5 3.6l.5-1.8l.5 .9l.5 .9l.5-1.0l.5-1.0l.5-2.3l.5 1.2l.5 .7l.5 1.7l.5-1.3l.5-.2l.5 4.7l.5-2.8l.5 .3l.5-2.5l.5 .4l.5-.6l.5-1.9l.5 1.1l.5-.3l.5-3.0l.5-.3l.5 2.5l.5-6.0l.5 2.5l.5 3.1l.5-1.6l.5-.7l.5 3.1l.5 0l.5-.7l.5-2.4l.5-1.0l.5 1.3l.5 4.6l.5-3.6l.5 .7l.5 3.8l.5-2.3l.5 2.1l.5-3.5l.5 1.7l.5 0l.5-.2l.5-1.8l.5 1.6l.5 3.7l.5-1.4l.5 1.6l.5-3.0l.5 5.6l.5-5.0l.5 .6l.5 1.7l.5-1.9l.5 1.3l.5 2.8l.5-2.1l.5-1.9l.5 3.5l.5-3.6l.5 .4l.5 1.7l.5 .2l.5-5.2l.5 5.0l.5-2.0l.5-1.8l.5-.1l.5 .1l.5-.9l.5 5.3l.5 1.2l.5-2.9l.5 .4l.5 .2l.5 2.6l.5-1.5l.5 2.9l.5-2.6l.5 1.9l.5-6.3l.5 1.0l.5 2.3l.5-.8l.5-1.3l.5-.5l.5-.7l.5 3.3l.5-.6l.5 2.5l.5-2.7l.5 1.4l.5 1.1l.5 .6l.5-2.9l.5 .2l.5 3.0l.5-9.5l.5 4.7l.5-.8l.5-2.0l.5-3.8l.5 3.2l.5-1.9l.5 0l.5-1.2l.5-1.1l.5 2.9l.5-2.0l.5 5.0l.5-.8l.5-.8l.5 1.6l.5 2.1l.5-2.1l.5 2.9l.5 4.1l.5-4.5l.5 1.2l.5-2.1l.5 1.3l.5-1.5l.5 5.0l.5-4.7l.5 2.8l.5-2.5l.5 1.5l.5-2.1l.5-.2l.5 5.0l.5-.6l.5-1.8l.5-1.3l.5 .4l.5-2.2l.5 2.6l.5 2.6l.5-4.8l.5 6.7l.5-5.0l.5 2.2l.5-2.6l.5-4.0l.5-.8l.5 5.3l.5-.9l.5-5.0l.5 5.9l.5-5.3l.5 6.8l.5-8.6l.5 3.5l.5-1.5l.5-1.3l.5 3.5l.5-2.9l.5 0l.5 2.4l.5-2.4l.5 .8l.5 2.8l.5 1.9l.5 2.0l.5 .8l.5-3.3l.5 3.6l.5-3.2l.5-1.4l.5 2.4l.5 .5l.5-2.7l.5-.9l.5 2.1l.5-.7l.5-2.5l.5 3.2l.5 .2l.5 .6l.5 .7l.5 1.9l.5-4.6l.5 2.2l.5 1.3l.5-6.8l.5 7.9l.5-2.2l.5 5.6l.5-4.2l.5-3.7l.5 2.1l.5-.9l.5 1.5l.5-4.2l.5 3.7l.5-1.3l.5-.1l.5 1.5l.5-.7l.5 3.9l.5-3.6l.5 1.0l.5-2.9l.5-.1l.5 4.7l.5-4.6l.5-1.4l.5-.2l.5 .7l.5-.6l.5 .7l.5 4.4l.5-3.1l.5 1.7l.5 3.3l.5-5.8l.5 .1l.5-2.4l.5 6.1l.5-1.6l.5-4.5l.5 6.7l.5-.4l.5-7.8l.5 3.3l.5 4.3l.5-4.0l.5 1.6l.5 1.9l.5-.7l.5-1.9l.5 2.7l.5 1.4l.5-3.6l.5 6.5l.5-4.5l.5-.5l.5-3.5l.5 .5l.5 .3l.5 3.8l.5-4.1l.5 4.8l.5-.8l.5-3.7l.5 .9l.5 3.3l.5-5.3l.5-3.1l.5 3.3l.5 1.9l.5 1.9l.5-.8l.5 4.5l.5-2.9l.5-1.4l.5 1.8l.5 0l.5-2.3l.5 1.1l.5-.6l.5-1.1l.5-.6l.5-2.4l.5 2.1l.5-1.6l.5 3.7l.5-1.2l.5-2.5l.5 2.3l.5-.4l.5-2.4l.5 1.7l.5 1.6l.5 3.0l.5-3.2l.5 1.1l.5 1.8l.5-.6l.5-2.2l.5 .9l.5-1.9l.5-.4l.5 .7l.5 .4l.5 1.8l.5-.5l.5 .8l.5-5.3l.5 3.0l.5 .8l.5-2.1l.5-2.2l.5 6.0l.5 3.5l.5-6.8l.5 2.3l.5 3.3l.5-4.5l.5-.5l.5-2.1l.5 2.0l.5 2.1l.5 .5l.5-2.5l.5 2.8l.5-4.6l.5 1.6l.5 1.6l.5 0l.5 1.5l.5-2.7l.5-4.1l.5 7.0l.5 1.7l.5-3.2l.5-1.6l.5-.4l.5 1.2l.5-3.2l.5 3.4l.5-1.0l.5-2.4l.5 3.6l.5 .8l.5 2.8l.5-3.7l.5 3.4l.5-4.7l.5 .3l.5 1.6l.5-2.6l.5 1.8l.5-2.1l.5-.1l.5 .7l.5 2.6l.5-1.6l.5-1.1l.5 4.4l.5-3.7l.5 1.6l.5-.9l.5 1.0l.5-1.8l.5-1.2l.5 2.1l.5 .2l.5 .4l.5-.4l.5-.2l.5-3.2l.5 4.2l.5-.1l.5-2.2l.5 .9l.5-.1l.5 3.0l.5-5.8l.5 2.9l.5 2.2l.5-4.3l.5 2.2l.5 4.9l.5-6.2l.5 2.5l.5-1.8l.5 1.3l.5-1.6l.5 1.7l.5-3.6l.5 6.4l.5-2.7l.5-.2l.5-1.6l.5 1.3l.5-.9l.5 1.6l.5-1.8l.5 .1l.5 3.7l.5-.4l.5 1.3l.5-1.4l.5-5.4l.5 4.5l.5 .6l.5-1.1l.5 1.6l.5 .1l.5-1.4l.5 .6l.5-.9l.5 2.9l.5-5.5l.5-.2l.5 4.8l.5-5.5l.5 4.2l.5-.9l.5 2.4l.5-4.5l.5 0l.5 2.0l.5 .2l.5-1.1l.5-.1l.5 2.0l.5 1.6l.5-6.0l.5 6.2l.5-1.0l.5-2.1l.5-1.2l.5 .6l.5-2.9l.5 4.2l.5-.2l.5-.1l.5 .8l.5-3.3l.5 4.3l.5-2.2l.5 .4l.5 .4l.5 0l.5 1.1l.5-1.1l.5 .1l.5-2.2l.5 .7l.5-2.3l.5 3.4l.5-1.1l.5 .4l.5 1.5l.5-1.9l.5 3.8l.5-5.1l.5 5.4l.5-.6l.5-2.9l.5 1.5l.5 1.1l.5-3.2l.5 1.7l.5 1.4l.5-1.0l.5-1.7l.5-2.4l.5 4.2l.5 0l.5 1.5l.5-1.8l.5-4.4l.5 .4l.5-.9l.5 4.3l.5-1.6l.5 .7l.5-1.4l.5-2.2l.5 3.9l.5-3.9l.5-.6l.5 2.2l.5 2.9l.5 2.0l.5-1.9l.5-.4l.5 .7l.5 .8l.5 .7l.5-4.3l.5 .5l.5 7.6l.5-8.9l.5-1.7l.5 3.5l.5 .2l.5-.5l.5 5.3l.5-1.3l.5-4.1l.5 6.8l.5-6.0l.5 1.2l.5-2.1l.5-.1l.5 2.9l.5 2.2l.5-1.8l.5-1.3l.5-.7l.5 3.2l.5-5.9l.5 2.4l.5-1.5l.5 1.3l.5-.2l.5-1.1l.5-.8l.5 3.1l.5 3.8l.5-3.7l.5-1.1l.5-1.4l.5 2.9l.5-.5l.5 3.2l.5-4.8l.5 3.8l.5-5.0l.5 2.7l.5 .7l.5-2.5l.5-2.5l.5 4.3l.5 .5l.5 2.1l.5-.9l.5 .7l.5-6.3l.5 4.6l.5-3.2l.5 0l.5-6.7l.5 4.3l.5-1.7l.5-.8l.5 4.4l.5-7.8l.5-.3l.5 .5l.5-.6l.5-3.7l.5 .7l.5 3.2l.5-1.6l.5 4.7l.5-1.5l.5-1.2l.5 5.0l.5 .3l.5 .9l.5-.3l.5 1.7l.5-1.1l.5-2.1l.5 3.6l.5 .8l.5 .3l.5 2.1l.5 3.6l.5-1.9l.5-.7l.5 .4l.5-3.3l.5 6.2l.5-3.8l.5 2.4l.5-.5l.5 0l.5 1.5l.5-3.7l.5 1.9l.5-2.5l.5 .2l.5-4.5l.5 4.5l.5-.4l.5 .8l.5-2.6l.5-.6l.5 2.8l.5-1.3l.5 1.4l.5-3.3l.5-1.0l.5 4.2l.5-.2l.5-.1l.5 .4l.5-.4l.5-.8l.5-1.6l.5 2.2l.5-.7l.5-.7l.5-2.2l.5 1.8l.5 2.0l.5 .2l.5-4.5l.5 4.8l.5-3.2l.5 3.3l.5-2.3l.5-1.7l.5 4.3l.5-4.9l.5 3.7l.5-.7l.5 1.0l.5 .2l.5-.6l.5 1.8l.5-5.8l.5 5.0l.5 1.1l.5-5.6l.5 .2l.5 1.9l.5-1.0l.5 4.3l.5-.8l.5-2.7l.5 .3l.5 4.5l.5-4.7l.5-.2l.5 5.6l.5-1.3l.5-3.3l.5 2.1l.5-4.8l.5 5.2l.5 3.9l.5-7.1l.5 2.3l.5-1.8l.5-1.8l.5 1.6l.5-.8l.5-1.6l.5 2.9l.5 .8l.5 .6l.5-.1l.5-.1l.5-.4l.5-1.1l.5-2.3l.5 2.7l.5-1.1l.5-2.2l.5 2.7l.5 1.4l.5 1.9l.5-4.7l.5 4.6l.5-3.8l.5 2.0l.5 2.4l.5-2.6l.5-.7l.5-1.4l.5 4.4l.5-4.0l.5 2.1l.5-.6l.5 1.0l.5 2.0l.5-1.8l.5 3.2l.5-.5l.5-3.9l.5-2.3l.5 2.0l.5-.2l.5 3.4l.5-3.0l.5 1.1l.5-4.5l.5 4.1l.5 2.1l.5-3.3l.5-2.1l.5 1.2l.5 .6l.5-.5l.5-.5l.5-.1l.5-3.1l.5 .4l.5-1.0l.5-.6l.5-3.5l.5 4.0l.5 1.0l.5-2.8l.5 7.0l.5-2.8l.5 1.1l.5 2.1l.5-.5l.5 2.2l.5 .3l.5-6.8l.5 4.4l.5 2.0l.5-.7l.5 .6l.5-1.1l.5-.8l.5-1.7l.5 6.3l.5-2.7l.5-.2l.5 .3l.5-.8l.5 .4l.5 2.0l.5-1.5l.5-3.5l.5 2.3l.5-.8l.5 .6l.5-.5l.5 3.0l.5-5.6l.5 3.6l.5-.3l.5-2.3l.5-2.0l.5 3.0l.5-3.3l.5 5.6l.5-1.3l.5-6.3l.5 5.0l.5-1.1l.5-.9l.5-.2l.5 5.0l.5-5.1l.5 .3l.5 3.8l.5-2.3l.5-3.1l.5 9.4l.5-5.0l.5-2.5l.5 7.6l.5-4.4l.5-.2l.5-1.2l.5 2.4l.5-.7l.5-.4l.5 2.2l.5-2.8l.5-1.5l.5-.5l.5 4.1l.5-.7l.5-1.5l.5 3.4l.5-.8l.5-2.5l.5-1.6l.5 1.7l.5-1.4l.5 1.9l.5 .7l.5 .2l.5-5.7l.5 3.4l.5 1.8l.5 .1l.5-.6l.5-1.4l.5 1.0l.5 2.1l.5-2.5l.5-.7l.5 2.9l.5 .4l.5-3.9l.5 1.0l.5-1.6l.5 2.6l.5 1.0l.5-1.3l.5-1.4l.5-.2l.5 2.1l.5 1.6l.5-1.5l.5-.3l.5 2.6l.5-3.3l.5 0l.5-1.3l.5 4.9l.5-.5l.5-2.0l.5 .8l.5-2.6l.5 .8l.5 1.8l.5 .9l.5-6.3l.5 7.9l.5-1.6l.5-3.9l.5 2.7l.5-1.6l.5-.5l.5 .1l.5-.1l.5 1.3l.5 .1l.5 1.6l.5-2.3l.5-1.3l.5 1.9l.5 .7l.5-.9l.5 2.3l.5-3.2l.5-2.1l.5 3.9l.5 .3l.5-1.3l.5 .2l.5-2.3l.5 1.8l.5 .8l.5-.8l.5-2.6l.5 2.9l.5-2.0l.5 2.3l.5-.4l.5 1.0l.5-3.1l.5 2.3l.5 .4l.5-.3l.5 2.0l.5-4.3l.5 3.7l.5 .5l.5-2.1l.5-2.1l.5 1.8l.5 .2l.5 .2l.5 1.8l.5-.9l.5-4.3l.5 5.0l.5-5.6l.5 2.2l.5-2.1l.5 4.3l.5-1.8l.5 3.1l.5-3.7l.5 1.7l.5 2.7l.5-3.7l.5 3.0l.5-1.8l.5-.4l.5-2.9l.5 2.8l.5 3.8l.5-3.4l.5 1.2l.5 2.1l.5-4.1l.5 1.4l.5 0l.5-1.5l.5 2.3l.5 1.5l.5-1.4l.5-1.2l.5 .4l.5-3.9l.5 4.0l.5-3.1l.5 3.9l.5-3.8l.5 3.5l.5-3.2l.5 .1l.5-2.3l.5 4.1l.5-.1l.5 1.5l.5-3.7l.5-1.5l.5 5.1l.5-6.9l.5 3.1l.5 4.0l.5-2.1l.5-2.5l.5 2.1l.5 3.2l.5-3.1l.5-.5l.5 3.1l.5-3.3l.5 1.7l.5 2.4l.5-5.7l.5 2.0l.5 3.1l.5-1.6l.5 3.9l.5-3.9l.5 .4l.5-3.0l.5 .6l.5 5.2l.5-4.5l.5 1.9l.5-1.2l.5 5.2l.5-8.2l.5 4.2l.5-1.3l.5-2.2l.5 1.4l.5 1.8l.5 4.5l.5-3.2l.5-1.4l.5-.8l.5-3.3l.5 .1l.5 3.8l.5-4.4l.5 5.2l.5-1.4l.5 1.5l.5-2.3l.5-2.6l.5 4.3l.5-4.5l.5 2.1l.5-.3l.5-1.2l.5 1.6l.5 .6l.5-1.6l.5 5.0l.5-3.9l.5 .3l.5 2.0l.5-1.6l.5 .6l.5 .6l.5-3.8l.5 7.4l.5-5.8l.5-1.4l.5 4.2l.5 0l.5-.5l.5-2.3l.5-.3l.5 1.8l.5-.4l.5 2.1l.5-2.4l.5 1.1l.5-1.4l.5-3.7l.5 1.9l.5 4.9l.5-2.3l.5 2.2l.5-2.4l.5 .1l.5-.8l.5 3.6l.5 1.2l.5-4.7l.5 2.6l.5-2.0l.5 1.7l.5-3.4l.5 0l.5 3.8l.5-.8l.5-.6l.5 3.3l.5-4.4l.5 1.3l.5 3.0l.5-2.5l.5-1.1l.5 3.1l.5-2.3l.5-.4l.5-1.9l.5-.6l.5-.3l.5 1.2l.5 1.3l.5 1.2l.5-3.7l.5 3.3l.5 2.3l.5 .2l.5-4.0l.5 6.6l.5-3.9l.5 .6l.5 1.3l.5-5.7l.5 1.2l.5 .9l.5 .7l.5-2.9l.5 4.1l.5-3.0l.5 1.8l.5 .7l.5-2.8l.5 4.3l.5-4.6l.5-2.7l.5 6.5l.5-2.6l.5-3.4l.5 2.4l.5 1.2l.5-1.2l.5 1.6l.5-3.2l.5 2.0l.5-.8l.5 .3l.5 1.5l.5 1.6l.5-2.7l.5-.3l.5 2.2l.5-.9l.5-5.1l.5 4.4l.5-.7l.5-.9l.5 .9l.5-.1l.5 5.4l.5-5.2l.5 .2l.5-3.2l.5 3.4l.5 2.0l.5-2.7l.5 2.5l.5-.4l.5-.4l.5 6.0l.5-7.3l.5 2.2l.5-3.4l.5 4.4l.5-3.5l.5 0l.5 2.4l.5-3.0l.5 3.1l.5-5.5l.5 5.6l.5-3.2l.5-2.6l.5 6.5l.5 1.6l.5-2.5l.5 2.7l.5-1.5l.5-3.5l.5 4.9l.5-3.7l.5 2.3l.5-1.6l.5-2.4l.5 .8l.5-1.5l.5 3.4l.5-3.8l.5 6.9l.5-3.8l.5-3.5l.5 3.6l.5-2.9l.5 5.0l.5-2.1l.5-3.3l.5 4.8l.5-1.0l.5-1.1l.5-3.4l.5 .4l.5 7.0l.5-8.3l.5 4.3l.5-.1l.5-2.9l.5-.4l.5-.3l.5 5.7l.5-4.0l.5 4.0l.5-.6l.5-1.2l.5-.9l.5-.5l.5 1.3l.5-1.9l.5-1.8l.5 1.9l.5 4.1l.5-.9l.5-4.1l.5-2.5l.5 .9l.5 .7l.5 2.4l.5-.5l.5 2.5l.5 1.7l.5-3.6l.5 2.7l.5-1.1l.5-2.4l.5 .8l.5-.8l.5-2.1l.5 5.8l.5 .3l.5-1.0l.5-1.9l.5 .9l.5 .4l.5-.5l.5-1.2l.5 .6l.5 0l.5 1.8l.5 .4l.5-4.4l.5 7.9l.5-4.0l.5-2.3l.5-1.5l.5 4.2l.5 1.4l.5-3.9l.5 .9l.5 4.2l.5-1.5l.5-.6l.5-.2l.5 3.0l.5-5.2l.5 1.8l.5-1.6l.5-1.3l.5-.9l.5 1.9l.5-.4l.5 .3l.5 2.4l.5-2.3l.5-.9l.5 .9l.5-.3"/>
<g fill="#000"><circle cx="127.3" cy="674.5" r="5.6"/><circle cx="152" cy="669.3" r="5.6"/><circle cx="170.4" cy="668.5" r="5.6"/><circle cx="263.1" cy="672.8" r="5.6"/><circle cx="497" cy="635.5" r="5.6"/><circle cx="522.5" cy="669.7" r="5.6"/><circle cx="570.6" cy="650.6" r="5.6"/><circle cx="593.2" cy="646.6" r="5.6"/><circle cx="613.2" cy="622.6" r="5.6"/><circle cx="628.4" cy="515.5" r="5.6"/><path d="M495.3 642.6L503.0 652.3L495.3 662.0L487.6 652.3Z"/><path d="M1050.0 653.0L1057.7 662.7L1050.0 672.4L1042.3 662.7Z"/><path d="M1321.0 649.8L1328.7 659.5L1321.0 669.2L1313.3 659.5Z"/><path d="M624.1 522.9L630.1 530.4L624.1 537.9L618.1 530.4Z"/><path d="M210.8 662.0L226.2 662.0L218.5 674.2Z"/><path d="M521.5 652.7L536.9 652.7L529.2 664.9Z"/><path d="M596.4 633.4L611.8 633.4L604.1 645.6Z"/></g></g>
<g id="c2">
<path class="cv" stroke="#008000" d="M110.0 508.6l.5 .7l.5-.1l.5 2.0l.5 5.8l.5-8.2l.5 6.9l.5 .8l.5-4.5l.5-1.2l.5 3.0l.5 1.8l.5 2.4l.5-3.5l.5 2.0l.5-5.3l.5-.9l.5-2.0l.5 1.8l.5 2.3l.5 1.7l.5-4.1l.5 5.8l.5-2.5l.5-1.5l.5-.4l.5 7.5l.5-5.2l.5-3.1l.5-.2l.5 7.6l.5-6.7l.5 4.0l.5-1.2l.5-11.8l.5 11.6l.5-2.6l.5-1.7l.5 1.3l.5 2.6l.5-.8l.5 .1l.5-3.1l.5 5.6l.5 .9l.5 1.2l.5-1.9l.5 2.6l.5 .6l.5-3.8l.5 .3l.5-1.0l.5-.4l.5 .5l.5-7.2l.5 3.5l.5 2.1l.5-7.0l.5 2.0l.5 8.6l.5-6.7l.5 2.1l.5 2.7l.5-1.9l.5-.8l.5 .9l.5 .1l.5-.8l.5 1.5l.5 3.2l.5-4.0l.5 3.0l.5-2.7l.5 .1l.5-.6l.5-2.3l.5 2.2l.5-.1l.5-3.6l.5 5.1l.5-.4l.5-.6l.5-2.7l.5-5.9l.5 10.6l.5-5.7l.5-8.5l.5 6.4l.5-2.2l.5 6.3l.5-.9l.5 3.8l.5-2.6l.5 0l.5-.5l.5 2.8l.5-7.0l.5 6.6l.5-1.4l.5-3.4l.5 1.5l.5-1.0l.5 1.5l.5 2.6l.5-4.3l.5 3.9l.5 .4l.5-.9l.5 2.4l.5-4.4l.5 2.1l.5 4.9l.5-6.6l.5-.3l.5 .4l.5 1.6l.5-3.3l.5 .9l.5-4.3l.5 1.7l.5-.3l.5-1.2l.5 .3l.5 .8l.5-4.5l.5-1.1l.5 6.6l.5 1.2l.5-3.8l.5 4.2l.5-3.4l.5 1.1l.5-.3l.5 4.1l.5-5.0l.5 0l.5-1.3l.5-1.4l.5-1.9l.5-4.1l.5 10.0l.5 .3l.5 4.0l.5 .5l.5-3.7l.5 1.9l.5-.5l.5 2.1l.5 3.7l.5-4.1l.5-1.9l.5 8.6l.5-9.6l.5 2.5l.5-.1l.5-3.4l.5 5.7l.5 .9l.5-2.7l.5 .6l.5-.3l.5-4.3l.5 5.3l.5-4.2l.5 .5l.5 3.3l.5 1.2l.5-5.1l.5 5.2l.5 1.2l.5-5.2l.5-2.5l.5-1.8l.5-3.4l.5-.2l.5 6.2l.5 1.7l.5-2.6l.5 .7l.5-.3l.5 .1l.5-.4l.5-1.1l.5 6.8l.5-3.1l.5 1.4l.5 4.7l.5-6.2l.5 2.6l.5-5.5l.5 1.6l.5 3.3l.5-2.7l.5-3.1l.5-.1l.5 5.1l.5-3.3l.5 4.3l.5-1.2l.5-1.8l.5 .5l.5 2.0l.5-2.1l.5-2.7l.5 3.5l.5-1.8l.5 .5l.5 2.2l.5-.8l.5 1.1l.5-5.7l.5-6.4l.5-9.6l.5-9.2l.5-9.3l.5 6.8l.5 9.7l.5 10.0l.5 7.4l.5 9.5l.5-6.7l.5 1.9l.5-.5l.5-.9l.5 .4l.5 4.9l.5-6.0l.5 5.0l.5-2.6l.5-4.2l.5-.2l.5-1.0l.5-2.7l.5 7.3l.5-.3l.5 1.4l.5-3.7l.5 4.2l.5-2.5l.5 8.0l.5-6.5l.5 1.0l.5 .3l.5-2.3l.5 .2l.5 .1l.5 3.5l.5-4.0l.5 1.6l.5 1.5l.5-1.9l.5-2.4l.5 .5l.5 2.1l.5-1.6l.5 4.8l.5-2.7l.5-.5l.5-2.8l.5 3.7l.5-2.5l.5-1.8l.5 .6l.5 7.7l.5-8.0l.5-.8l.5 5.3l.5-1.0l.5-2.6l.5 4.4l.5-7.4l.5 2.6l.5-3.2l.5 7.8l.5-3.5l.5 6.7l.5-5.6l.5 .2l.5-4.2l.5-.1l.5 1.8l.5 3.5l.5-5.2l.5-3.6l.5 8.4l.5 .1l.5-4.8l.5 3.5l.5 1.8l.5 .1l.5-7.2l.5 4.2l.5-2.4l.5 4.4l.5-2.5l.5-3.6l.5 3.2l.5 1.1l.5-5.8l.5 .3l.5 1.1l.5-.9l.5-4.0l.5-5.6l.5 3.0l.5 7.6l.5 3.2l.5-2.9l.5 2.8l.5 4.5l.5-5.6l.5-.5l.5-.4l.5 3.6l.5-.1l.5 .6l.5-1.1l.5 2.5l.5 .2l.5-1.4l.5 3.4l.5-7.4l.5 5.8l.5-2.4l.5 2.5l.5 2.7l.5-4.9l.5-.7l.5 .4l.5 3.6l.5 .2l.5-3.8l.5 1.1l.5 2.9l.5-3.4l.5-5.4l.5 1.8l.5 1.0l.5 2.4l.5-2.4l.5 5.2l.5-5.0l.5 5.2l.5-6.1l.5 5.1l.5-3.4l.5 2.9l.5 1.1l.5-.8l.5-2.1l.5-4.9l.5-.2l.5-6.2l.5 12.4l.5-.5l.5-.8l.5-6.1l.5 10.0l.5-10.1l.5 2.5l.5-9.4l.5-.9l.5 3.2l.5 1.8l.5-2.0l.5 5.5l.5 4.9l.5-7.2l.5 7.4l.5-6.0l.5 6.1l.5-2.2l.5 3.5l.5-3.9l.5 .5l.5-.1l.5-1.8l.5 1.6l.5-2.2l.5 1.0l.5 3.3l.5-2.7l.5 3.9l.5-.9l.5 .5l.5-5.2l.5 4.3l.5 2.8l.5-1.5l.5 .9l.5 .7l.5-8.2l.5 5.5l.5-.2l.5-2.0l.5-3.0l.5 4.0l.5-.6l.5 5.9l.5-1.6l.5-4.4l.5-1.7l.5 .5l.5 2.1l.5-1.9l.5 7.2l.5-8.6l.5 2.9l.5 .4l.5 .4l.5-4.0l.5 1.5l.5 .6l.5 0l.5-2.6l.5 .8l.5 1.6l.5 5.0l.5-7.9l.5 5.5l.5 2.7l.5-7.9l.5 7.6l.5-.4l.5-4.0l.5 1.9l.5 .9l.5-4.7l.5 .7l.5-3.6l.5 1.0l.5 2.0l.5-.3l.5 4.5l.5-4.9l.5-2.6l.5 5.5l.5 .1l.5-1.4l.5-1.4l.5-1.7l.5 .4l.5 5.8l.5-1.9l.5-1.8l.5 .9l.5-2.0l.5-1.5l.5 1.1l.5 .9l.5-4.5l.5 0l.5-1.4l.5 2.9l.5 2.3l.5-5.6l.5 .3l.5-1.2l.5 3.1l.5-1.7l.5 .7l.5-.1l.5 9.2l.5-6.2l.5-1.4l.5 .7l.5 3.6l.5 .5l.5-1.8l.5-5.9l.5 8.1l.5 .4l.5-.5l.5-.6l.5-.9l.5 3.1l.5-4.1l.5 3.5l.5-4.3l.5 0l.5-.4l.5-.5l.5 .2l.5 3.3l.5 2.1l.5-6.1l.5-1.0l.5 5.9l.5-4.4l.5 1.3l.5-.5l.5 1.8l.5-4.9l.5 5.4l.5-.9l.5-8.0l.5 5.6l.5-.5l.5 2.0l.5-1.2l.5-2.0l.5 .9l.5 1.7l.5-.9l.5-.7l.5 6.2l.5-4.8l.5-4.7l.5 3.0l.5 .2l.5-3.8l.5 2.8l.5-2.5l.5-3.5l.5 7.1l.5 1.0l.5 .3l.5-1.8l.5-1.0l.5 2.4l.5 .7l.5 1.5l.5 1.2l.5-1.2l.5-3.6l.5 1.5l.5-3.6l.5 5.6l.5-.5l.5 1.4l.5-2.1l.5 2.6l.5-6.3l.5 2.5l.5-1.8l.5-.1l.5-4.3l.5 2.8l.5-3.3l.5 4.6l.5-.8l.5 2.4l.5-5.1l.5 3.6l.5 .8l.5-5.5l.5 10.5l.5-3.2l.5-3.4l.5 7.0l.5-1.6l.5-10.3l.5 5.7l.5-.9l.5 1.7l.5-2.6l.5 1.8l.5 .9l.5-6.9l.5 6.9l.5 3.2l.5-3.7l.5 2.5l.5 .8l.5-3.8l.5 .1l.5-.2l.5-2.3l.5 7.2l.5-5.0l.5 .3l.5 1.1l.5 1.4l.5-7.7l.5 .9l.5 3.0l.5 1.0l.5-4.7l.5-.4l.5 5.8l.5-.1l.5-2.7l.5 .1l.5-.9l.5-1.4l.5 .8l.5 2.7l.5-1.1l.5 2.9l.5-6.3l.5-1.1l.5 6.1l.5-4.0l.5 1.7l.5 .9l.5-3.4l.5-.9l.5 4.7l.5-8.2l.5 8.8l.5-6.5l.5 6.8l.5-1.3l.5-.2l.5 .9l.5-.8l.5-4.0l.5 6.0l.5-1.9l.5 .8l.5-1.8l.5-.5l.5 3.2l.5 0l.5-1.8l.5-3.9l.5 .7l.5-.4l.5 5.5l.5-1.9l.5-1.4l.5-.8l.5-1.7l.5 4.1l.5-4.9l.5 .6l.5 4.6l.5-.6l.5-2.0l.5-3.4l.5-.3l.5 5.4l.5-1.5l.5 2.9l.5-5.2l.5 1.2l.5-2.0l.5 7.3l.5-8.5l.5 6.6l.5 2.9l.5-6.7l.5-1.4l.5 .8l.5-1.5l.5 4.2l.5-1.6l.5-2.6l.5 1.5l.5 4.7l.5-4.8l.5-.4l.5 6.4l.5-7.4l.5 1.3l.5 5.4l.5-3.7l.5-5.1l.5 2.9l.5-3.6l.5 4.3l.5 2.4l.5-5.4l.5 8.2l.5-1.0l.5-1.5l.5-4.3l.5 1.9l.5 1.4l.5 1.1l.5 .9l.5-9.3l.5 3.9l.5-1.1l.5 2.3l.5 1.5l.5 5.7l.5-6.4l.5 2.7l.5-2.2l.5-.3l.5 4.8l.5-7.6l.5 4.9l.5 3.9l.5 3.8l.5-10.5l.5-.9l.5-.7l.5 2.5l.5 1.2l.5 .2l.5 3.1l.5-3.8l.5 1.7l.5-5.5l.5 2.5l.5 1.1l.5-6.4l.5 6.4l.5 1.7l.5-2.5l.5 .2l.5-.8l.5-3.3l.5 3.3l.5-1.6l.5 1.9l.5 .2l.5 .4l.5-3.6l.5 3.5l.5 4.9l.5-2.5l.5-3.6l.5-1.8l.5 4.2l.5-3.1l.5-5.0l.5 3.5l.5 5.7l.5-9.3l.5 4.6l.5-2.4l.5 1.6l.5-1.3l.5-1.5l.5-4.9l.5 6.3l.5 .5l.5-.5l.5-2.5l.5 1.3l.5 7.7l.5-9.1l.5 2.0l.5-2.6l.5 2.6l.5 1.1l.5 2.4l.5-2.9l.5-.8l.5 .8l.5 .4l.5-1.7l.5 0l.5 3.2l.5-6.0l.5 .3l.5-4.8l.5-.5l.5 6.7l.5-4.3l.5 4.4l.5 4.8l.5-4.5l.5-2.1l.5-2.1l.5-5.4l.5 3.7l.5-.8l.5 4.2l.5-2.3l.5-7.7l.5 2.2l.5-9.2l.5-2.0l.5-16.5l.5-26.4l.5-36.6l.5-29.6l.5-37.7l.5-13.5l.5 11.7l.5 30.5l.5 41.9l.5 26.9l.5 29.5l.5 14.0l.5 4.3l.5 12.1l.5 2.1l.5 1.4l.5 2.5l.5 3.7l.5-4.3l.5 .8l.5 5.2l.5-2.2l.5-7.0l.5 4.2l.5-3.9l.5 8.5l.5-.1l.5 .9l.5-5.5l.5 2.0l.5 4.7l.5-6.0l.5 5.6l.5-1.7l.5 1.4l.5-2.4l.5 4.0l.5-.4l.5 1.3l.5 4.5l.5-7.2l.5 .9l.5-2.8l.5 7.8l.5-5.6l.5 3.2l.5-5.2l.5 2.5l.5 2.3l.5-.3l.5-2.0l.5 3.1l.5-2.2l.5 2.4l.5-3.8l.5 2.0l.5-4.0l.5 3.2l.5-6.5l.5-3.9l.5-4.3l.5 6.5l.5 1.1l.5 1.5l.5 5.6l.5-5.1l.5 4.9l.5 1.1l.5-9.9l.5 5.1l.5-4.7l.5-6.0l.5-2.5l.5-1.4l.5 10.2l.5 3.1l.5-2.4l.5 4.8l.5-2.1l.5 3.9l.5-2.3l.5 3.0l.5-3.9l.5 2.7l.5 .5l.5 .8l.5 3.8l.5 2.9l.5-10.0l.5 6.5l.5-3.0l.5 0l.5 0l.5 .4l.5 0l.5 2.2l.5 1.0l.5-2.8l.5-1.1l.5 1.1l.5-.7l.5 3.6l.5-7.6l.5-1.2l.5 3.0l.5 1.6l.5-1.2l.5 1.4l.5-7.4l.5 4.9l.5 .3l.5-2.0l.5 1.8l.5 .7l.5 1.4l.5-3.8l.5-2.3l.5 5.1l.5 3.8l.5-5.1l.5-.1l.5-3.0l.5 3.3l.5 3.7l.5-9.4l.5 8.0l.5-7.9l.5 9.2l.5-1.7l.5-2.9l.5 1.7l.5 3.8l.5-7.1l.5 6.0l.5-1.5l.5-1.5l.5 3.9l.5-8.3l.5 4.0l.5-3.0l.5 2.8l.5 1.2l.5-6.1l.5 4.6l.5-.4l.5-2.8l.5 .8l.5 2.4l.5-3.3l.5 1.6l.5-10.8l.5-5.8l.5 1.2l.5-10.5l.5 10.5l.5 2.3l.5 6.8l.5 .2l.5 5.5l.5 1.6l.5 .2l.5-1.5l.5-4.5l.5 6.5l.5-2.2l.5 3.3l.5-7.6l.5 5.1l.5-2.5l.5 .9l.5 2.2l.5-.3l.5 1.5l.5-2.7l.5 .2l.5-.6l.5-3.9l.5 5.9l.5-5.2l.5 .5l.5 2.3l.5-3.3l.5 .2l.5-5.7l.5 4.1l.5-.9l.5 1.1l.5 2.9l.5-2.3l.5 .1l.5 .3l.5 1.9l.5-.4l.5-2.6l.5-2.8l.5 1.7l.5-5.0l.5-2.2l.5-1.9l.5-6.6l.5-7.2l.5-6.9l.5-4.2l.5-4.1l.5-1.0l.5-2.1l.5 8.6l.5 6.1l.5 4.8l.5 13.5l.5-5.4l.5 2.6l.5 4.6l.5 5.1l.5-4.5l.5 4.9l.5-6.8l.5 .6l.5-1.5l.5-3.9l.5-5.8l.5-11.2l.5-13.9l.5-10.1l.5 11.9l.5 11.8l.5 10.9l.5 8.9l.5 1.6l.5 1.0l.5 4.1l.5-4.8l.5-3.3l.5 1.9l.5-3.3l.5 .2l.5-3.5l.5-4.8l.5-6.3l.5-8.4l.5-11.5l.5-10.8l.5-5.6l.5 3.7l.5 11.5l.5 10.4l.5 7.3l.5 9.3l.5 8.2l.5 1.7l.5-.5l.5 3.6l.5 .3l.5-7.3l.5 1.9l.5-10.8l.5-16.2l.5-3.2l.5 4.8l.5 14.0l.5 5.9l.5 7.4l.5 4.1l.5 2.0l.5-.9l.5-4.1l.5-1.7l.5-1.2l.5-10.8l.5-5.1l.5-7.0l.5 2.0l.5 12.5l.5 3.4l.5 12.3l.5 4.2l.5-3.1l.5 .9l.5 1.2l.5 3.8l.5 1.2l.5-4.8l.5 1.8l.5 2.5l.5-.7l.5-1.2l.5 2.1l.5-3.5l.5-1.4l.5 5.6l.5 .6l.5 1.8l.5-3.8l.5-1.1l.5 2.3l.5-.4l.5 .2l.5-.5l.5 3.4l.5-2.7l.5 2.5l.5-5.3l.5-.9l.5 4.7l.5-5.5l.5 0l.5-.1l.5-1.8l.5 5.9l.5 3.2l.5-2.6l.5 .8l.5-2.9l.5-1.5l.5 3.9l.5-4.1l.5-.9l.5 1.8l.5 4.9l.5-1.8l.5-1.7l.5-2.3l.5 0l.5 2.9l.5-1.3l.5-2.0l.5 4.8l.5-4.5l.5-2.2l.5 3.7l.5 3.6l.5-.7l.5 .6l.5-4.5l.5 3.0l.5-1.1l.5-1.4l.5-2.6l.5 5.8l.5-2.9l.5-1.5l.5 3.5l.5 4.9l.5-10.0l.5 5.0l.5 4.3l.5 .3l.5-7.1l.5 1.4l.5-3.8l.5 5.2l.5-3.9l.5 1.2l.5 6.4l.5-6.7l.5-1.5l.5 4.8l.5 .7l.5 .4l.5 2.8l.5-4.3l.5 1.9l.5 2.4l.5-2.4l.5 4.9l.5-.9l.5-2.3l.5-.5l.5 .7l.5 .8l.5-6.1l.5 1.1l.5-.2l.5-2.6l.5-1.0l.5 1.5l.5 4.2l.5 .6l.5 2.7l.5 .5l.5-.5l.5-.6l.5-.5l.5 4.2l.5-3.0l.5 2.0l.5 1.7l.5-1.6l.5-5.6l.5-.1l.5 3.7l.5-12.2l.5 10.3l.5-2.4l.5 5.6l.5 3.7l.5-4.8l.5 5.6l.5-8.1l.5 5.6l.5-1.0l.5 2.9l.5 1.0l.5 1.1l.5-.2l.5-4.2l.5-1.6l.5 3.3l.5-2.7l.5-4.2l.5-.2l.5 4.5l.5 0l.5 1.3l.5 .1l.5-4.8l.5 4.8l.5-3.7l.5 4.0l.5-1.1l.5 4.1l.5-3.2l.5-2.4l.5 .6l.5 .6l.5 1.1l.5 .3l.5-4.5l.5-.6l.5 4.3l.5-2.3l.5 2.5l.5-1.9l.5 2.9l.5-3.0l.5-5.0l.5 2.0l.5 2.5l.5-4.2l.5 2.8l.5 1.7l.5 1.0l.5-.7l.5-6.4l.5 7.2l.5-5.2l.5 2.7l.5-2.2l.5 4.6l.5-2.4l.5 .9l.5 .7l.5-1.1l.5-1.2l.5 5.7l.5-1.9l.5 .8l.5-6.2l.5-.3l.5 9.7l.5-2.3l.5-6.2l.5 5.7l.5-.7l.5-2.6l.5 1.6l.5 6.1l.5-6.3l.5 3.3l.5-3.1l.5-1.9l.5 10.0l.5-4.6l.5-3.0l.5 .3l.5 .2l.5-1.8l.5 4.0l.5 .7l.5-2.5l.5 1.0l.5-3.2l.5 3.9l.5-5.9l.5 4.5l.5 3.8l.5-4.7l.5 7.7l.5-9.7l.5 2.5l.5 .9l.5 2.7l.5 1.0l.5-2.6l.5-4.4l.5 7.5l.5-2.2l.5 .3l.5-6.3l.5 5.2l.5-1.7l.5 2.9l.5 1.8l.5-7.1l.5 1.4l.5-.5l.5-3.1l.5 2.3l.5-1.2l.5-4.7l.5-.8l.5 2.4l.5-5.7l.5 5.5l.5 1.7l.5 .5l.5-4.2l.5 7.8l.5 1.5l.5-7.7l.5 8.1l.5-.5l.5-.5l.5-3.6l.5 5.2l.5-4.9l.5 3.6l.5 2.4l.5-.5l.5-1.9l.5 1.6l.5-1.5l.5 .8l.5-3.0l.5-1.2l.5 1.4l.5-1.8l.5 5.9l.5 3.7l.5-4.8l.5 1.3l.5-5.5l.5 2.4l.5-2.4l.5 4.6l.5-1.2l.5-2.7l.5 6.2l.5-3.6l.5 2.2l.5 .4l.5 1.5l.5-.2l.5-2.9l.5-.6l.5-1.0l.5-1.0l.5 6.9l.5-6.1l.5 4.7l.5-6.1l.5 0l.5 3.9l.5-3.1l.5-1.9l.5 5.9l.5-7.4l.5 1.2l.5 3.7l.5 2.2l.5-3.8l.5-1.9l.5 7.8l.5-5.5l.5-1.5l.5 1.9l.5 2.6l.5-10.1l.5 4.5l.5 4.4l.5-.3l.5-1.0l.5-.4l.5 2.0l.5 1.2l.5-4.2l.5 .1l.5 2.9l.5-3.0l.5-2.5l.5 2.7l.5-2.3l.5 4.3l.5 .7l.5-3.7l.5 1.4l.5 1.2l.5 2.3l.5-.7l.5-1.8l.5 .2l.5 2.6l.5-1.6l.5-.2l.5-3.8l.5 3.4l.5 .7l.5-.9l.5-2.9l.5-2.1l.5 5.8l.5-.3l.5-1.7l.5-2.8l.5 .8l.5 .9l.5 2.2l.5-1.4l.5-2.0l.5 1.1l.5-1.5l.5 7.7l.5-6.3l.5 5.3l.5-3.1l.5 3.7l.5-7.4l.5 4.5l.5-4.1l.5 .1l.5 .4l.5-1.4l.5 1.1l.5 1.7l.5 4.8l.5-5.1l.5-2.7l.5 5.4l.5 2.0l.5-9.9l.5 7.6l.5-4.8l.5-1.2l.5 6.1l.5 1.9l.5 .9l.5-4.5l.5-.9l.5 1.6l.5 1.3l.5 1.0l.5 1.4l.5-2.2l.5 .6l.5-.8l.5-2.5l.5 2.9l.5 2.5l.5-1.9l.5-7.5l.5 9.2l.5-6.1l.5 7.8l.5-.5l.5-3.7l.5 2.9l.5-6.8l.5 1.6l.5-1.1l.5 2.7l.5-.7l.5 .5l.5-.4l.5 3.5l.5-3.8l.5-1.1l.5 1.5l.5 1.2l.5 .1l.5-3.5l.5 1.5l.5 .5l.5-1.6l.5-1.8l.5 2.4l.5-5.2l.5 5.8l.5-2.7l.5 2.3l.5 .3l.5 5.1l.5 .1l.5 .8l.5-5.2l.5-1.2l.5 3.7l.5-4.5l.5 2.7l.5-1.6l.5 2.0l.5 2.0l.5-4.9l.5 3.2l.5-.5l.5-.2l.5 .4l.5-2.4l.5 .7l.5-.8l.5-3.1l.5 7.7l.5-2.1l.5-.1l.5-3.5l.5-2.9l.5 5.1l.5-3.0l.5 6.9l.5-.1l.5-5.6l.5 4.9l.5-1.4l.5-2.0l.5-3.7l.5 5.6l.5 .7l.5 .1l.5-3.7l.5 1.4l.5 0l.5-.1l.5-1.7l.5 4.3l.5-1.3l.5-2.4l.5 2.2l.5 1.6l.5-1.5l.5 .1l.5 1.3l.5-4.0l.5 3.7l.5-3.4l.5 2.2l.5 2.8l.5-4.2l.5 4.2l.5-1.2l.5 1.7l.5-7.5l.5-6.5l.5 7.4l.5 7.7l.5-4.6l.5-1.5l.5 .8l.5 1.1l.5-1.5l.5 6.4l.5-5.6l.5-3.7l.5 .1l.5 3.1l.5 .3l.5 2.1l.5 .3l.5 .2l.5-5.4l.5 3.6l.5-2.9l.5 1.9l.5-3.3l.5 5.9l.5 .2l.5-2.6l.5-3.1l.5 5.4l.5-1.7l.5-4.0l.5 5.2l.5 .7l.5-1.1l.5-6.0l.5 6.3l.5 .5l.5-4.1l.5 4.3l.5-1.6l.5 1.2l.5-7.0l.5 3.7l.5 1.9l.5-5.3l.5 4.0l.5 4.0l.5-8.6l.5 7.6l.5-1.4l.5-4.5l.5 .4l.5-.1l.5 3.3l.5-6.7l.5 7.8l.5-5.7l.5 3.0l.5-.2l.5 3.1l.5-4.5l.5 .7l.5 5.5l.5 1.6l.5-4.0l.5-.4l.5 1.9l.5-.3l.5-.1l.5-2.7l.5-3.3l.5 6.1l.5-.9l.5 2.9l.5-.2l.5 1.4l.5-5.6l.5 3.1l.5-5.1l.5 3.8l.5 .6l.5-3.3l.5 1.6l.5 6.7l.5-8.5l.5 5.0l.5-3.7l.5 3.2l.5-9.2l.5 3.2l.5 2.7l.5 4.9l.5-4.8l.5-2.8l.5 2.1l.5 3.3l.5-6.0l.5 4.3l.5-.5l.5-.5l.5 2.2l.5-3.0l.5 3.4l.5 .2l.5 3.0l.5-3.5l.5-.9l.5-2.7l.5 1.4l.5-2.2l.5 6.8l.5-9.9l.5 7.0l.5 .1l.5 .6l.5-2.8l.5 7.1l.5-6.5l.5-3.2l.5 2.4l.5-.3l.5 5.2l.5-3.6l.5-2.4l.5 .1l.5 2.3l.5-.5l.5 1.2l.5 3.2l.5-6.1l.5 1.9l.5 2.2l.5-4.7l.5 5.4l.5 1.7l.5-3.5l.5 1.6l.5-3.1l.5 .8l.5 .6l.5-.9l.5 3.3l.5-4.4l.5 3.6l.5-3.4l.5 5.4l.5-.3l.5-2.5l.5-4.4l.5 1.3l.5-4.7l.5 9.1l.5-3.5l.5-.9l.5 1.9l.5-4.0l.5 2.4l.5 1.6l.5 2.0l.5 3.3l.5-8.1l.5 4.5l.5-4.1l.5-1.1l.5 3.6l.5-1.1l.5-3.8l.5 4.0l.5 5.5l.5-7.1l.5 0l.5 5.2l.5-2.6l.5-2.8l.5 3.0l.5-2.8l.5-1.0l.5 2.9l.5-3.5l.5 4.4l.5 2.2l.5-5.8l.5 .1l.5 .1l.5 2.0l.5-1.9l.5 2.4l.5 1.8l.5-5.0l.5 3.5l.5 2.6l.5-.7l.5-4.5l.5 5.8l.5-5.8l.5 5.1l.5-6.9l.5 5.6l.5-2.6l.5-.3l.5-.5l.5-1.8l.5 3.6l.5-1.0l.5 1.6l.5-4.4l.5 4.2l.5 .9l.5-5.0l.5 5.8l.5 .7l.5-7.7l.5-.3l.5 7.1l.5-8.7l.5-3.3l.5-.8l.5 6.8l.5-1.3l.5 3.2l.5 0l.5 1.1l.5 1.0l.5-2.0l.5 2.5l.5 .9l.5-1.8l.5-1.0l.5 2.8l.5 3.3l.5-4.9l.5-1.0l.5 1.7l.5-2.3l.5 1.2l.5-.5l.5-1.4l.5 2.4l.5-3.0l.5 .4l.5-2.4l.5 2.4l.5 2.6l.5 2.3l.5 4.6l.5-8.6l.5-1.1l.5 6.0l.5-9.0l.5 6.1l.5-1.4l.5 3.7l.5-4.6l.5 1.4l.5-4.7l.5 3.1l.5 1.7l.5-1.4l.5-.4l.5 4.6l.5-6.7l.5-.7l.5 .4l.5 1.8l.5-.6l.5 1.7l.5-1.0l.5 6.5l.5-6.6l.5 1.2l.5 1.7l.5 4.4l.5-6.6l.5-1.1l.5 4.2l.5-3.6l.5-2.8l.5 .1l.5 3.0l.5-2.4l.5 6.4l.5-1.6l.5 3.5l.5-3.5l.5-1.2l.5 3.0l.5 .1l.5-4.0l.5 6.8l.5-4.0l.5 1.6l.5-3.6l.5 4.1l.5 3.3l.5-6.3l.5-2.0l.5 3.1l.5 0l.5 1.3l.5-6.1l.5 6.4l.5-2.4l.5-1.9l.5-2.8l.5 3.5l.5 2.3l.5-1.4l.5 .3l.5-.7l.5 1.1l.5-4.0l.5 7.7l.5-1.1l.5-3.5l.5 .7l.5-4.0l.5 1.2l.5 3.2l.5-3.1l.5-1.2l.5 2.0l.5 2.4l.5-4.4l.5 4.2l.5 .5l.5 .3l.5-.1l.5-1.1l.5-.9l.5 3.2l.5-5.2l.5 5.4l.5-7.0l.5 2.5l.5 1.0l.5-5.5l.5 6.1l.5 1.6l.5-5.6l.5 2.4l.5 2.7l.5 .1l.5 .7l.5-6.7l.5 3.7l.5 3.7l.5-6.9l.5 .6l.5 2.9l.5 .1l.5-3.6l.5 1.0l.5 2.1l.5 .4l.5 4.3l.5-2.7l.5-2.2l.5-1.0l.5 1.8l.5 4.7l.5-8.4l.5-2.6l.5-2.7l.5 2.3l.5-1.4l.5 .5l.5 4.7l.5 .8l.5 5.0l.5 1.8l.5-5.3l.5 0l.5 3.9l.5-2.9l.5-1.2l.5 3.1l.5-4.7l.5 4.3l.5 4.0l.5-9.1l.5 5.2l.5-1.7l.5 4.1l.5-.8l.5-4.9l.5 1.7l.5-2.1l.5 4.7l.5-5.3l.5 1.8l.5 2.5l.5-3.5l.5-1.5l.5 0l.5 .4l.5 2.2l.5-.5l.5 1.8l.5-1.6l.5 3.3l.5-1.2l.5 1.8l.5-5.1l.5-1.5l.5 6.6l.5-2.4l.5-6.6l.5 3.8l.5 2.4l.5 1.8l.5 2.8l.5-3.3l.5-2.4l.5-1.9l.5-.8l.5 .6l.5-.8l.5 3.0l.5 3.0l.5-1.2l.5-3.8l.5 4.5l.5 1.3l.5-3.2l.5-.2l.5 .7l.5 1.2l.5-6.5l.5 2.6l.5-1.4l.5 3.3l.5 1.1l.5-2.9l.5 4.1l.5-2.1l.5 .2l.5-.4l.5-3.2l.5 7.5l.5-3.9l.5-4.7l.5 6.0l.5 1.0l.5-5.4l.5 3.9l.5 4.0l.5-2.6l.5-1.1l.5-.3l.5 .9l.5-3.9l.5 1.3l.5 1.7l.5-1.0l.5 3.2l.5-8.3l.5 9.9l.5-6.7l.5-.5l.5 1.5l.5 3.0l.5-3.3l.5 4.2l.5-.4l.5-2.8l.5-.6l.5 0l.5 1.0l.5-4.3l.5 7.2l.5-3.4l.5 .4l.5-2.2l.5 .1l.5 5.7l.5-8.6l.5 5.7l.5-2.5l.5-2.3l.5 6.1l.5-4.1l.5 3.9l.5-2.9l.5-4.8l.5 4.9l.5-3.1l.5 2.3l.5-.3l.5 2.2l.5-.6l.5-.6l.5-.4l.5-1.9l.5-1.5l.5 5.9l.5-3.9l.5 1.6l.5 2.7l.5 .2l.5-.2l.5-2.0l.5 .6l.5-.2l.5-.5l.5-3.8l.5 3.8l.5 1.6l.5-2.5l.5 .6l.5-6.4l.5 3.9l.5 9.1l.5-8.6l.5 4.2l.5 1.7l.5-.8l.5-2.3l.5-.9l.5-3.4l.5 7.5l.5-4.3l.5 2.7l.5-7.1l.5-1.0l.5-.3l.5 7.0l.5-3.1l.5-.2l.5 1.1l.5-.6l.5 .1l.5-2.1l.5-.5l.5 3.2l.5 2.7l.5-3.8l.5 2.0l.5-1.1l.5 2.2l.5-4.3l.5 7.9l.5-.4l.5-4.4l.5-.7l.5-4.2l.5 6.6l.5-2.0l.5 .1l.5-4.7l.5 6.1l.5 3.0l.5-7.3l.5 2.5l.5 4.1l.5-1.1l.5 .1l.5 6.2l.5-4.4l.5-3.4l.5-7.9l.5 6.7l.5-3.1l.5 .2l.5 6.5l.5-6.1l.5 2.4l.5 4.0l.5-5.6l.5 .3l.5-1.8l.5 1.7l.5-2.9l.5 4.8l.5-2.2l.5 3.2l.5 .6l.5-1.7l.5 .5l.5-1.5l.5 2.3l.5 1.0l.5-1.2l.5 2.5l.5-2.8l.5-.5l.5 1.5l.5-5.2l.5 3.1l.5-3.9l.5 6.2l.5 1.8l.5-5.8l.5 1.4l.5 .1l.5 4.4l.5-2.1l.5 2.5l.5-1.6l.5 .3l.5-6.6l.5-.3l.5 8.9l.5 2.8l.5-9.2l.5 .3l.5 5.9l.5 2.3l.5-8.6l.5 1.0l.5 4.1l.5-1.8l.5 0l.5 1.4l.5-5.1l.5 .9l.5 6.5l.5-8.2l.5 6.6l.5-3.6l.5 4.8l.5-3.9l.5-.4l.5 3.4l.5-3.2l.5-.1l.5-6.5l.5 7.5l.5-2.1l.5 3.0l.5-4.0l.5-2.1l.5 6.4l.5-3.6l.5-.8l.5-3.0l.5 7.4l.5-1.3l.5-5.0l.5 4.8l.5-.4l.5 2.1l.5-2.9l.5 5.9l.5-10.8l.5 1.1l.5 6.1l.5 .6l.5-1.4l.5 5.0l.5-5.5l.5-5.5l.5 8.5l.5-3.9l.5-1.0l.5 2.8l.5 .1l.5-2.5l.5 3.3l.5-1.1l.5-1.5l.5 .1l.5-5.2l.5 3.2l.5 .2l.5 1.0l.5 4.9l.5-4.1l.5-1.3l.5-2.7l.5 2.2l.5-1.3l.5-.1l.5 2.9l.5-4.3l.5 2.6l.5 4.5l.5-2.3l.5-2.7l.5 1.0l.5-.5l.5 5.4l.5 0l.5 1.4l.5-5.3l.5 .8l.5 2.5l.5-5.5l.5 1.1l.5 3.8l.5-4.5l.5-1.0l.5 3.5l.5-1.9l.5-.8l.5 2.2l.5-4.8l.5 6.7l.5-1.4l.5 .5l.5-.4l.5 1.2l.5-6.5l.5 4.8l.5 3.6l.5-5.7l.5-.5l.5 .3l.5-2.1l.5 10.6l.5-7.7l.5 2.6l.5-4.7l.5 .6l.5-.7l.5-1.6l.5 2.6l.5 4.5l.5-4.9l.5 4.6l.5 2.8l.5-4.0l.5 2.0l.5 .2l.5-5.2l.5 0l.5-3.8l.5 3.2l.5 4.2l.5-2.4l.5-1.0l.5-.4l.5-.6l.5 1.6l.5 7.7l.5-2.4l.5-2.4l.5-1.4l.5-1.3l.5 4.2l.5-4.4l.5-.1l.5-.3l.5 4.1l.5-3.3l.5 3.9l.5-6.2l.5 .2l.5-.9l.5 3.9l.5-3.1l.5 2.0l.5 5.2l.5-2.0l.5-2.2l.5 .2l.5-8.2l.5 2.5l.5 7.5l.5-4.8l.5 .5l.5 4.4l.5-5.8l.5 4.0l.5-1.0l.5 1.4l.5-.5l.5 5.0l.5-2.6l.5 2.3l.5-5.9l.5 1.6l.5 1.3l.5 3.7l.5-2.0l.5-2.8l.5-3.0l.5 3.0l.5-3.5l.5-.1l.5 .6l.5 0l.5-1.1l.5 4.2l.5-3.8l.5-2.9l.5 2.4l.5-4.5l.5 4.8l.5 .3l.5-.1l.5-5.1l.5 5.1l.5-.7l.5 2.2l.5-3.8l.5-1.9l.5-1.2l.5-1.7l.5-1.1l.5 .2l.5 4.2l.5-3.5l.5 .3l.5-1.6l.5 1.9l.5 .8l.5-.7l.5-5.2l.5 2.1l.5 5.9l.5-4.2l.5-.7l.5-.9l.5-2.1l.5-.7l.5 4.2l.5 1.3l.5-2.1l.5 2.2l.5 2.0l.5 .2l.5 1.8l.5-6.7l.5 4.7l.5 1.2l.5-.9l.5-3.4l.5-.4l.5 9.0l.5-5.5l.5 2.7l.5-1.9l.5-.1l.5 3.6l.5 1.8l.5-2.2l.5-.1l.5 3.3l.5-2.4l.5 .4l.5-.4l.5 2.5l.5-.6l.5 .2l.5 0l.5 1.7l.5 2.5l.5-3.3l.5-1.7l.5 8.1l.5-2.7l.5-3.7l.5-3.1l.5 7.6l.5-5.2l.5 1.7l.5-7.0l.5 8.5l.5 .9l.5-3.7l.5-.3l.5 .3l.5-3.0l.5 .1l.5 5.8l.5-3.5l.5 .8l.5-.2l.5 2.3l.5-2.4l.5 1.4l.5 .2l.5-3.6l.5 .9l.5 1.4l.5 1.2l.5-1.3l.5 .2l.5-3.6l.5 1.5l.5 2.4l.5-1.6l.5 .7l.5 .5l.5 3.8l.5-6.3l.5 4.7l.5-.5l.5-1.3l.5-2.8l.5 1.6l.5-1.7l.5 3.0l.5-2.6l.5-.2l.5-3.3l.5 4.8l.5-9.3l.5 10.4l.5-10.4l.5-.5l.5-1.3l.5-4.4l.5 5.3l.5-6.3l.5-1.8l.5 4.4l.5-2.2l.5-6.9l.5 .8l.5 4.2l.5 1.3l.5 2.5l.5-.7l.5 5.4l.5 1.3l.5 0l.5 .7l.5 4.5l.5 2.1l.5-1.9l.5-.1l.5 2.9l.5-2.8l.5 2.8l.5 1.5l.5-4.3l.5 1.3l.5-2.6l.5 3.8l.5 2.9l.5-2.5l.5 2.3l.5-1.3l.5-2.3l.5 5.3l.5-4.0l.5 2.9l.5-1.5l.5-1.2l.5 4.6l.5-5.4l.5-.5l.5 4.9l.5-2.3l.5-2.8l.5 1.0l.5-2.4l.5 4.8l.5 1.5l.5-1.5l.5 .5l.5 1.5l.5-3.0l.5-2.3l.5 .1l.5 2.6l.5-.3l.5 0l.5-3.5l.5 3.0l.5 3.8l.5-3.4l.5 3.0l.5-2.1l.5-1.4l.5 3.8l.5 1.6l.5-2.4l.5 1.6l.5-4.1l.5-1.7l.5-1.7l.5 4.7l.5 3.7l.5-5.2l.5-2.3l.5 3.7l.5-.3l.5-.3l.5-2.7l.5 6.2l.5-5.6l.5 .8l.5-3.5l.5 5.3l.5 3.0l.5-1.7l.5-5.8l.5 5.0l.5-4.8l.5 2.1l.5-.4l.5 2.9l.5-.5l.5-2.1l.5 .7l.5 4.2l.5-7.2l.5 2.5l.5 6.9l.5-5.1l.5-2.9l.5 3.7l.5 .8l.5-5.0l.5 2.0l.5-1.2l.5 3.3l.5-1.2l.5-2.0l.5 4.1l.5-3.1l.5 7.0l.5-1.8l.5-3.7l.5 1.5l.5 2.3l.5-1.7l.5-4.3l.5 1.2l.5 0l.5 .5l.5-3.8l.5 6.5l.5 7.1l.5-8.1l.5 0l.5-1.0l.5 1.7l.5-3.4l.5 .4l.5 1.7l.5-7.5l.5 4.1l.5 5.8l.5-2.2l.5-1.7l.5 .3l.5-7.1l.5 8.2l.5-2.7l.5 4.2l.5-2.0l.5 1.0l.5-5.5l.5-.1l.5 9.4l.5-5.8l.5-.5l.5 4.7l.5-2.2l.5 0l.5 2.6l.5-3.9l.5-1.6l.5-.8l.5-4.5l.5 5.1l.5 0l.5-1.2l.5 8.2l.5-8.5l.5 1.6l.5-.2l.5 .5l.5 3.2l.5-2.8l.5 2.6l.5 4.9l.5-7.9l.5-1.4l.5-.6l.5 3.6l.5-3.7l.5-1.8l.5-4.0l.5-2.6l.5 4.2l.5-3.0l.5-9.6l.5-2.4l.5-.8l.5-1.2l.5 3.5l.5 1.9l.5-3.2l.5-.8l.5 7.3l.5 3.7l.5-5.9l.5 7.3l.5-1.1l.5 2.1l.5 2.0l.5 7.6l.5-1.8l.5-2.0l.5 2.2l.5 1.5l.5-4.6l.5 5.8l.5-4.3l.5 .7l.5 6.3l.5-13.0l.5 11.4l.5 0l.5-3.7l.5 3.8l.5-2.4l.5-1.7l.5 3.0l.5-2.0l.5 .8l.5-1.2l.5 9.8l.5-4.2l.5-3.4l.5-3.5l.5 1.4l.5 .1l.5-1.1l.5 2.2l.5-.3l.5 4.4l.5-.9l.5-7.9l.5 7.5l.5-6.5l.5 5.8l.5-2.0l.5-.1l.5 1.0l.5-2.4l.5-1.4l.5 8.2l.5-9.0l.5 5.8l.5-4.7l.5 3.6l.5-1.4l.5 .5l.5-2.6l.5 3.1l.5 3.8l.5-3.1l.5 1.1l.5-5.4l.5 .3l.5 3.0l.5-6.5l.5 7.3l.5-2.7l.5-.2l.5 4.9l.5-6.1l.5 6.3l.5-7.0l.5-.1l.5 6.1l.5 .5l.5-6.8l.5 4.3l.5 5.1l.5-5.1l.5-3.4l.5 2.6l.5 1.0l.5-.3l.5-2.4l.5 1.4l.5 2.7l.5 .7l.5-1.9l.5 1.4l.5-.6l.5-4.6l.5 8.3l.5-.5l.5-3.6l.5-.6l.5 .7l.5 .2l.5 1.7l.5 .4l.5-3.6l.5-2.2l.5-.4l.5 7.0l.5-5.1l.5-2.8l.5-3.0l.5 8.0l.5-1.8l.5 .3l.5-3.1l.5 1.6l.5-.3l.5 1.9l.5 5.0l.5-6.9l.5-1.9l.5 5.5l.5-.5l.5-3.8l.5 1.5l.5-2.4l.5 7.3l.5-3.7l.5-5.2l.5 6.7l.5 .4l.5-6.6l.5 4.0l.5 .1l.5-4.3l.5-.4l.5 12.8l.5-10.6l.5 4.5l.5 .4l.5 .8l.5-.5l.5-2.4l.5-2.7l.5-1.5l.5 4.4l.5-4.1l.5 5.0l.5-3.3l.5 4.1l.5-7.7l.5 9.4l.5-5.4l.5 2.6l.5-4.7l.5 5.9l.5-.9l.5 2.6l.5-1.1l.5 3.9l.5-10.2l.5 2.8l.5-2.7l.5 3.0l.5 2.6l.5-.3l.5-4.4l.5-2.5l.5 4.2l.5 1.8l.5-5.5l.5 4.4l.5-2.3l.5 3.2l.5-3.1l.5 4.6l.5-4.5l.5 1.8l.5 8.6l.5-20.0l.5 10.7l.5 .6l.5 1.7l.5 .3l.5-.7l.5-2.4l.5 1.2l.5 1.8l.5-5.8l.5 6.9l.5-3.0l.5 4.0l.5-4.2l.5 2.7l.5-1.8l.5 3.4l.5 .6l.5-4.8l.5 3.2l.5-2.4l.5 2.1l.5-3.2l.5 .1l.5 2.4l.5 1.3l.5-2.1l.5 .6l.5-2.6l.5 3.6l.5-3.0l.5-2.9l.5 6.8l.5-8.0l.5 6.8l.5-2.9l.5 1.0l.5 5.0l.5-7.5l.5-1.0l.5-.7l.5 3.7l.5 3.4l.5-3.6l.5 .7l.5 .8l.5-1.1l.5 1.5l.5-4.0l.5-2.5l.5 3.6l.5 .3l.5 4.5l.5-2.3l.5-3.8l.5 6.4l.5-.9l.5-3.9l.5 7.4l.5-4.8l.5-2.4l.5 1.2l.5 2.6l.5-1.4l.5-4.1l.5 7.4l.5-4.9l.5-1.8l.5 1.6l.5 1.2l.5 4.1l.5-.5l.5-8.6l.5 4.1l.5 1.1l.5 .6l.5 1.9l.5-.7l.5-4.7l.5 7.7l.5-2.5l.5-6.9l.5 7.9l.5-2.1l.5-4.7l.5 3.8l.5 1.0l.5-1.5l.5-2.8l.5 1.4l.5-.3l.5-.4l.5 2.8l.5-3.9l.5 3.2l.5 .7l.5 1.2l.5-1.4l.5-2.4l.5-.4l.5-.6l.5 6.1l.5-5.8l.5-1.1l.5 1.3l.5 3.3l.5 .3l.5-6.9l.5 7.1l.5-3.3l.5 4.8l.5-1.0l.5-5.9l.5-1.0l.5-.1l.5 1.3l.5 1.8l.5-.3l.5 0l.5 .2l.5-3.0l.5 .2l.5 .7l.5 1.6l.5-4.2l.5-1.6l.5 3.5l.5-1.7l.5 .4l.5-2.0l.5 1.2l.5-2.7l.5-1.3l.5 2.4l.5-4.8l.5 5.3"/>
<g fill="#000"><circle cx="153.3" cy="494.3" r="5.6"/><circle cx="196.2" cy="494.3" r="5.6"/><circle cx="217.2" cy="465.3" r="5.6"/><circle cx="262.3" cy="487.6" r="5.6"/><circle cx="485.4" cy="470.2" r="5.6"/><circle cx="522.5" cy="464.5" r="5.6"/><circle cx="571.4" cy="452.7" r="5.6"/><circle cx="594.4" cy="430.6" r="5.6"/><circle cx="632.6" cy="436.5" r="5.6"/><circle cx="673.5" cy="471.2" r="5.6"/><circle cx="749.3" cy="468.3" r="5.6"/><circle cx="1408.4" cy="429" r="5.6"/><path d="M494.8 284.0L502.5 293.7L494.8 303.4L487.1 293.7Z"/><path d="M1047.3 454.3L1055.0 464.0L1047.3 473.7L1039.6 464.0Z"/><path d="M1320.2 439.1L1327.9 448.8L1320.2 458.5L1312.5 448.8Z"/><path d="M1410.2 439.1L1417.9 448.8L1410.2 458.5L1402.5 448.8Z"/><path d="M634.0 412.9L640.0 420.4L634.0 427.9L628.0 420.4Z"/><path d="M209.5 441.9L224.9 441.9L217.2 454.1Z"/><path d="M220.7 486.5L236.1 486.5L228.4 498.7Z"/><path d="M522.0 449.3L537.4 449.3L529.7 461.5Z"/><path d="M596.6 408.4L612.0 408.4L604.3 420.6Z"/><path d="M607.8 398.5L623.2 398.5L615.5 410.7Z"/><path d="M616.9 423.0L627.9 423.0L622.4 431.8Z"/></g></g>
<g id="c1">
<path class="cv" stroke="#000080" d="M110.0 272.4l.5 2.4l.5-.4l.5-3.6l.5 .4l.5-.4l.5 2.2l.5-1.2l.5 1.7l.5-5.2l.5 6.7l.5-3.4l.5 1.5l.5-1.7l.5-.5l.5 1.6l.5 .7l.5-2.0l.5 .1l.5 1.7l.5-3.1l.5-1.3l.5 3.8l.5-2.2l.5-2.6l.5 2.0l.5 .5l.5-1.9l.5-1.3l.5 1.8l.5-.1l.5-3.3l.5 .2l.5 4.3l.5 2.1l.5-1.2l.5 2.1l.5 1.2l.5-2.4l.5-1.4l.5 2.1l.5-.5l.5 1.4l.5-4.9l.5 1.2l.5-.3l.5-1.7l.5 3.8l.5 1.0l.5-2.4l.5 4.4l.5-.9l.5-.2l.5-.2l.5 1.3l.5-4.4l.5 4.0l.5 .1l.5-4.7l.5 4.2l.5-1.2l.5 2.1l.5-2.4l.5 .9l.5 .8l.5-2.4l.5 3.0l.5-1.3l.5 1.3l.5-1.8l.5 3.3l.5-.9l.5-1.6l.5 1.5l.5 1.0l.5 .9l.5-6.9l.5 4.8l.5-.8l.5-1.1l.5-1.8l.5 4.6l.5-5.1l.5 3.6l.5 1.4l.5-5.9l.5 2.7l.5-1.9l.5 3.3l.5 2.7l.5 1.1l.5-7.7l.5 2.2l.5 2.3l.5 1.4l.5-2.6l.5-2.8l.5 1.7l.5-1.5l.5-2.5l.5-6.6l.5-9.8l.5-20.5l.5-24.3l.5-11.9l.5 8.3l.5 25.0l.5 23.9l.5 9.0l.5 3.0l.5 7.8l.5-.7l.5 3.7l.5-3.7l.5-.7l.5-1.7l.5 5.8l.5 2.8l.5-6.6l.5 .5l.5 2.7l.5-2.7l.5 1.3l.5-.1l.5 1.2l.5 1.9l.5-2.1l.5 1.7l.5-2.6l.5 1.4l.5-4.9l.5 1.4l.5 4.5l.5-2.7l.5 2.4l.5 0l.5 1.5l.5-1.0l.5 .3l.5-2.3l.5-1.2l.5-.1l.5 .5l.5-1.3l.5 1.3l.5 1.0l.5 .8l.5-1.0l.5-2.9l.5 3.8l.5 .6l.5 1.7l.5-1.2l.5-2.6l.5-.3l.5 5.4l.5-2.5l.5 2.1l.5 .7l.5-5.9l.5 2.5l.5 .2l.5 .3l.5 .1l.5-.6l.5 .1l.5-3.3l.5 2.6l.5-1.2l.5 1.6l.5-1.4l.5 2.0l.5-.1l.5-1.8l.5-1.6l.5-2.6l.5-2.5l.5 1.7l.5 1.3l.5 3.2l.5 .1l.5 1.6l.5-3.6l.5 4.6l.5-3.3l.5-.1l.5 .9l.5-.9l.5 1.6l.5-1.8l.5-1.1l.5 .5l.5 4.4l.5-2.3l.5-2.2l.5 2.6l.5-2.9l.5 6.9l.5-6.4l.5 4.2l.5 .3l.5-4.0l.5 3.5l.5 1.3l.5-1.4l.5-.7l.5 1.1l.5-1.9l.5 .1l.5-1.1l.5 1.3l.5-3.6l.5 2.6l.5-4.3l.5-4.3l.5-1.9l.5-3.6l.5-5.4l.5 .2l.5 8.6l.5 2.3l.5 3.6l.5 2.2l.5-3.8l.5 5.7l.5-2.0l.5 1.1l.5-1.3l.5 .1l.5 1.3l.5 3.6l.5 1.8l.5-3.4l.5 2.2l.5-2.6l.5-3.3l.5 4.2l.5 .6l.5-1.7l.5 1.4l.5 .4l.5-3.0l.5-1.4l.5 2.5l.5 0l.5-.3l.5 2.8l.5 1.5l.5-4.1l.5 2.3l.5 .6l.5-.4l.5 .8l.5-2.8l.5 2.4l.5 2.6l.5-2.3l.5-2.8l.5 2.5l.5 1.4l.5-1.7l.5-1.9l.5 4.3l.5-5.7l.5 3.4l.5-1.3l.5-2.6l.5 4.5l.5-2.0l.5-3.1l.5 3.5l.5-2.0l.5-3.0l.5 2.1l.5 1.1l.5-.9l.5-3.9l.5-4.0l.5-1.3l.5 .5l.5 6.4l.5 .6l.5 2.0l.5 1.5l.5-2.6l.5 1.1l.5 4.9l.5-2.1l.5-.9l.5 1.5l.5-1.5l.5 1.6l.5-2.0l.5 1.8l.5-3.8l.5 5.6l.5-3.9l.5-2.5l.5 2.5l.5-.7l.5 .7l.5-3.1l.5 2.2l.5 4.9l.5-13.0l.5-.8l.5-3.9l.5 3.5l.5 0l.5 4.4l.5 5.0l.5 0l.5 3.9l.5-4.4l.5 1.8l.5 5.5l.5-7.4l.5-.3l.5 1.8l.5 .1l.5 1.9l.5-1.2l.5-1.5l.5 2.2l.5 5.1l.5-2.6l.5-8.1l.5 5.4l.5-1.4l.5 3.2l.5-1.4l.5 4.4l.5-1.8l.5 0l.5-1.3l.5-.4l.5 .7l.5 1.9l.5-1.6l.5-1.8l.5 3.2l.5-2.3l.5-.6l.5-1.6l.5 .4l.5-.2l.5-4.4l.5 7.6l.5-.9l.5-1.7l.5 2.4l.5-1.5l.5-.4l.5-5.9l.5 4.4l.5 1.6l.5 2.3l.5 .6l.5-.7l.5-5.1l.5-2.0l.5 5.5l.5-1.1l.5 1.9l.5-2.0l.5 .9l.5-3.1l.5 4.2l.5-1.5l.5 1.8l.5 .3l.5-1.1l.5 .8l.5-.8l.5 1.3l.5-.8l.5-2.4l.5-.4l.5 4.5l.5-3.8l.5 2.2l.5-1.2l.5-1.8l.5-.3l.5 1.8l.5 .2l.5 .7l.5-3.9l.5 1.3l.5 .9l.5 3.2l.5-8.0l.5 5.5l.5-2.0l.5 1.9l.5-2.0l.5 1.7l.5 2.4l.5-2.3l.5 .3l.5 .1l.5-2.1l.5 2.8l.5-1.5l.5-1.2l.5 1.6l.5-.5l.5 2.0l.5-1.6l.5-.9l.5 4.1l.5-.9l.5 .7l.5-1.1l.5-1.3l.5-.5l.5 .4l.5 2.5l.5-1.7l.5-3.2l.5 2.9l.5-2.8l.5 3.1l.5-2.8l.5-.3l.5 2.6l.5-.5l.5-3.4l.5 4.6l.5 2.7l.5-7.5l.5 6.4l.5-5.1l.5 .3l.5 .6l.5-2.4l.5 5.5l.5-1.6l.5-2.5l.5 .9l.5-2.6l.5 2.4l.5 2.7l.5-5.1l.5 2.8l.5 1.3l.5 2.0l.5 .7l.5-3.6l.5-.6l.5 2.4l.5-1.7l.5 .1l.5 2.7l.5 1.3l.5-2.8l.5-.8l.5 1.6l.5-4.8l.5 3.8l.5-2.1l.5 6.9l.5-3.4l.5-1.2l.5-.7l.5-4.5l.5 6.5l.5 2.0l.5-4.6l.5 2.9l.5 .1l.5-4.5l.5 5.0l.5 .9l.5-2.1l.5-.5l.5 1.8l.5-4.6l.5 3.3l.5 1.9l.5-4.6l.5 4.4l.5-2.9l.5-3.5l.5 3.8l.5-1.8l.5 2.4l.5-3.1l.5 4.4l.5-3.7l.5 2.1l.5-2.0l.5 .4l.5 3.1l.5-1.9l.5-1.1l.5-1.5l.5 5.0l.5-.6l.5-2.0l.5 1.1l.5-2.6l.5-.1l.5 .3l.5 2.2l.5-.1l.5-2.1l.5 3.1l.5 .3l.5-1.1l.5 1.8l.5-2.6l.5 .4l.5 1.1l.5-1.0l.5 1.6l.5-4.1l.5 5.3l.5-4.5l.5 1.2l.5-2.6l.5 3.8l.5 1.1l.5-.5l.5-.6l.5-4.9l.5 1.5l.5 .7l.5-.9l.5 4.3l.5-1.7l.5-.2l.5 1.4l.5-2.6l.5 .4l.5 .3l.5 2.9l.5-.2l.5 .4l.5 .8l.5-5.1l.5 1.3l.5 1.1l.5-3.2l.5 1.5l.5 3.1l.5 .2l.5 0l.5-2.0l.5-.5l.5 2.4l.5-3.0l.5 1.3l.5 1.9l.5-3.4l.5-.4l.5 1.3l.5 1.4l.5-.1l.5-.6l.5 .8l.5-4.3l.5 1.4l.5 1.9l.5-2.4l.5-1.0l.5 .1l.5 .5l.5 1.5l.5-1.5l.5 2.7l.5 3.1l.5-3.4l.5 3.0l.5-1.8l.5-2.8l.5 1.7l.5-1.5l.5 3.4l.5-3.9l.5 4.9l.5-1.6l.5-5.2l.5 5.6l.5 1.6l.5-4.6l.5 3.5l.5-5.6l.5 4.0l.5-4.0l.5 4.2l.5-4.6l.5-1.7l.5 6.2l.5 3.9l.5-5.7l.5 2.9l.5-1.5l.5-1.0l.5 1.7l.5 1.9l.5-5.9l.5 3.5l.5-.5l.5-3.5l.5 6.2l.5 .8l.5-5.7l.5 5.5l.5-3.3l.5-.4l.5 3.3l.5-2.6l.5 .1l.5 2.4l.5-.5l.5-.8l.5-4.6l.5-.3l.5 5.3l.5-4.2l.5 2.1l.5-2.4l.5 1.8l.5-2.2l.5 5.9l.5-5.4l.5 1.8l.5-.3l.5 2.7l.5-5.4l.5 2.7l.5-.4l.5 1.4l.5-.3l.5-2.0l.5 1.3l.5-1.3l.5 1.6l.5-1.2l.5-1.1l.5 1.2l.5 .8l.5 3.9l.5-5.4l.5 1.8l.5 2.6l.5-6.8l.5 1.1l.5 1.4l.5 2.4l.5 5.2l.5-4.1l.5 1.5l.5-3.0l.5-4.6l.5 .2l.5 6.5l.5-1.7l.5-3.0l.5 4.9l.5-5.1l.5 5.5l.5 .9l.5-4.1l.5-.5l.5 4.2l.5-3.7l.5 4.1l.5-4.0l.5 4.1l.5-1.4l.5-1.1l.5-1.0l.5 2.2l.5-4.3l.5 3.3l.5-.2l.5 2.2l.5-3.9l.5 5.9l.5-4.2l.5-1.8l.5 4.9l.5 .5l.5-3.8l.5-1.4l.5 1.7l.5-1.5l.5 .6l.5 3.6l.5-2.6l.5-.6l.5 .3l.5-.8l.5 1.8l.5 .1l.5-2.4l.5 1.0l.5 4.6l.5-4.1l.5-1.3l.5 4.4l.5-4.2l.5-2.3l.5 3.4l.5-3.2l.5 .7l.5 1.6l.5-1.1l.5-1.4l.5 .3l.5-.2l.5 3.4l.5-3.8l.5 .3l.5 5.3l.5-5.1l.5 4.2l.5-.3l.5-3.0l.5-2.6l.5 3.7l.5 .5l.5 .6l.5-1.6l.5 2.5l.5 .7l.5-4.6l.5 5.1l.5-2.4l.5-1.7l.5 .2l.5 4.1l.5-2.2l.5-5.9l.5 3.5l.5-.6l.5-.2l.5-.8l.5-2.1l.5 4.3l.5-4.1l.5 .6l.5-1.2l.5-1.1l.5 2.2l.5-1.6l.5-3.2l.5-1.7l.5-.5l.5 .9l.5-4.9l.5-4.6l.5-9.1l.5-12.3l.5-18.1l.5-32.9l.5-26.0l.5-47.3l.5-34.5l.5-9.0l.5 11.4l.5 34.6l.5 38.2l.5 32.9l.5 31.7l.5 20.8l.5 6.7l.5 11.0l.5-4.2l.5-3.3l.5-7.0l.5-13.1l.5-3.7l.5 4.0l.5 13.6l.5 10.8l.5 9.2l.5 4.1l.5 1.1l.5 4.6l.5-1.4l.5-2.2l.5 9.3l.5-6.6l.5-.9l.5 4.6l.5-1.3l.5-7.2l.5-4.3l.5-1.2l.5 6.7l.5 .6l.5 1.5l.5 2.9l.5 3.1l.5-4.8l.5 2.3l.5-1.7l.5 7.4l.5-.4l.5-1.5l.5-2.0l.5 1.9l.5-5.3l.5 5.0l.5-3.1l.5 .2l.5 1.3l.5 .7l.5 1.9l.5 .2l.5-.9l.5-2.5l.5 3.3l.5-1.7l.5 2.5l.5-4.2l.5-3.8l.5 4.6l.5 5.3l.5-3.4l.5-1.4l.5 2.1l.5-1.0l.5-.4l.5-2.5l.5 .1l.5-1.8l.5-4.7l.5-3.0l.5 4.0l.5 4.0l.5 .5l.5-.4l.5-1.1l.5 2.2l.5-7.6l.5 .1l.5 3.6l.5-.9l.5 2.8l.5 3.1l.5 2.2l.5-2.2l.5 .4l.5-.3l.5-2.5l.5 4.7l.5-2.7l.5-2.8l.5 3.3l.5-3.0l.5 1.7l.5 2.3l.5-1.7l.5 4.1l.5-5.0l.5 3.5l.5 .6l.5 1.9l.5-1.0l.5-1.3l.5-.2l.5-.2l.5 2.5l.5-3.5l.5 2.4l.5-1.2l.5 .7l.5-.9l.5 4.8l.5-5.6l.5 1.8l.5 0l.5 .6l.5-.5l.5-.2l.5 .8l.5-5.3l.5 2.8l.5-2.7l.5 2.7l.5-2.9l.5 .3l.5 1.8l.5 2.9l.5-1.6l.5-.5l.5 2.3l.5-4.7l.5-2.2l.5 3.3l.5 .3l.5 3.0l.5 1.8l.5-7.0l.5 7.6l.5-2.0l.5-1.6l.5-1.1l.5 3.9l.5-4.9l.5-1.4l.5 1.1l.5-3.3l.5 3.3l.5-1.6l.5 0l.5-1.4l.5-5.6l.5 1.1l.5-7.0l.5 6.7l.5-.9l.5 7.0l.5-.8l.5 2.5l.5-1.0l.5-2.9l.5 2.4l.5 2.5l.5 1.2l.5-4.2l.5-1.3l.5 2.4l.5 1.2l.5-1.0l.5-.5l.5 3.2l.5 .1l.5-.6l.5-3.5l.5 1.8l.5-.9l.5-2.8l.5 4.4l.5-1.8l.5-1.2l.5 3.8l.5-1.2l.5 .2l.5 .6l.5-1.2l.5-4.3l.5 1.4l.5 2.4l.5-3.9l.5 1.4l.5 .4l.5 1.8l.5-.8l.5-1.5l.5-3.3l.5 .6l.5-3.9l.5-7.0l.5-6.4l.5-15.1l.5-10.7l.5 12.6l.5 9.8l.5 11.5l.5 1.2l.5 6.2l.5-.2l.5 1.1l.5-1.1l.5 8.9l.5-4.1l.5 1.2l.5 2.0l.5-2.3l.5 1.3l.5-3.8l.5 2.9l.5-1.6l.5 1.4l.5-1.2l.5-4.0l.5-2.4l.5-.6l.5-.3l.5-6.0l.5-3.1l.5-2.2l.5 3.8l.5 8.0l.5 2.7l.5 .3l.5 2.3l.5-1.0l.5-2.1l.5 .4l.5 1.9l.5-.4l.5-.5l.5 4.5l.5-5.4l.5 .5l.5-2.5l.5 1.0l.5 1.2l.5-1.0l.5-3.7l.5-2.0l.5-2.8l.5-2.6l.5-.2l.5 13.2l.5-2.4l.5-1.8l.5-3.8l.5 .3l.5 4.6l.5-9.6l.5 3.7l.5 .8l.5-3.8l.5-1.7l.5-5.7l.5 .6l.5-14.0l.5-8.9l.5-6.0l.5-8.8l.5-16.9l.5-11.0l.5-18.2l.5-14.0l.5-.8l.5-2.4l.5 3.0l.5 2.7l.5 10.2l.5 13.9l.5 16.6l.5 15.3l.5 11.5l.5 5.7l.5 12.1l.5 6.3l.5 5.4l.5 3.8l.5 2.7l.5 3.9l.5 .6l.5 1.3l.5-1.0l.5 2.9l.5-.6l.5-3.6l.5 5.7l.5-1.2l.5 2.6l.5-2.0l.5 .3l.5 .8l.5-.2l.5-.7l.5-2.3l.5 7.8l.5-6.5l.5 2.9l.5 2.4l.5-.3l.5 .7l.5 .5l.5 1.1l.5-1.9l.5 5.3l.5-7.9l.5 2.5l.5-1.2l.5-.3l.5 1.8l.5 2.4l.5-4.2l.5 .1l.5 3.1l.5-.3l.5 3.1l.5-1.7l.5-1.4l.5-1.0l.5 1.2l.5-.7l.5-2.4l.5 2.8l.5-.4l.5 0l.5-.3l.5 4.4l.5-1.8l.5 .8l.5-2.9l.5-.6l.5 1.7l.5 1.1l.5-1.1l.5 .4l.5 2.3l.5-1.2l.5-2.5l.5 1.2l.5-.3l.5 1.8l.5-2.5l.5 2.1l.5 1.9l.5-1.2l.5-1.8l.5 .7l.5 1.6l.5 .8l.5 .8l.5-1.8l.5-2.3l.5 5.6l.5-2.2l.5 .1l.5-.3l.5-2.8l.5 1.3l.5 1.1l.5 1.5l.5-1.9l.5-6.4l.5 5.9l.5 1.4l.5 2.1l.5-.8l.5 3.9l.5-1.8l.5 .1l.5-.6l.5-4.6l.5 4.5l.5-.5l.5-2.3l.5 2.3l.5-.3l.5-1.6l.5 .9l.5-.1l.5 1.2l.5-1.1l.5 2.1l.5-4.7l.5 3.4l.5-2.7l.5 2.5l.5 2.0l.5-.9l.5-.3l.5 .4l.5 3.1l.5-5.3l.5 4.2l.5-4.5l.5 2.2l.5 1.4l.5-1.9l.5 2.1l.5 1.0l.5-4.0l.5 2.1l.5-.7l.5-3.2l.5 3.5l.5-1.1l.5 4.3l.5-4.3l.5 5.2l.5-4.4l.5 5.0l.5-2.7l.5 0l.5 .8l.5 .4l.5 1.1l.5 .7l.5-4.1l.5-1.9l.5-3.0l.5 4.3l.5 2.1l.5-1.0l.5-.7l.5-1.1l.5-.6l.5 .8l.5 1.3l.5-4.2l.5 5.0l.5-4.4l.5 2.5l.5-1.0l.5 .5l.5-1.4l.5-.3l.5 1.8l.5-1.8l.5 7.1l.5-5.6l.5-.4l.5 .4l.5-.8l.5-2.5l.5 4.6l.5 1.4l.5-3.3l.5 3.2l.5-2.3l.5 2.4l.5 .8l.5 .2l.5-.3l.5-2.5l.5 2.9l.5-3.3l.5 1.0l.5 .2l.5-2.5l.5-2.4l.5 3.4l.5-3.4l.5 .5l.5-.4l.5 4.0l.5-1.8l.5-3.9l.5 6.3l.5 2.9l.5-.3l.5-4.6l.5 1.3l.5 .8l.5 .7l.5-1.8l.5-2.3l.5 3.7l.5-.2l.5-3.7l.5 2.0l.5 1.4l.5-.5l.5 1.1l.5 .7l.5-.5l.5-1.3l.5-2.5l.5 3.8l.5 1.6l.5 1.1l.5-4.1l.5 0l.5 3.0l.5 .1l.5-2.1l.5 .8l.5-2.8l.5 2.7l.5-2.8l.5 1.3l.5 0l.5-.8l.5-3.4l.5 2.5l.5 2.3l.5-.9l.5-.8l.5 1.4l.5 .2l.5-.2l.5-4.1l.5 .4l.5-3.1l.5-5.0l.5-6.6l.5-.1l.5 1.6l.5 11.7l.5-.8l.5 1.9l.5 .8l.5 5.1l.5-5.3l.5 1.8l.5-1.0l.5 1.6l.5 .5l.5 2.5l.5-4.8l.5 3.0l.5 3.3l.5-4.1l.5 .7l.5-1.4l.5-3.4l.5 5.1l.5 2.6l.5-3.3l.5-2.8l.5 4.2l.5-.3l.5 2.0l.5 0l.5-2.2l.5 1.5l.5-4.3l.5 5.8l.5-1.9l.5 1.7l.5-.1l.5-2.8l.5 .2l.5-1.5l.5-2.2l.5 4.0l.5 .8l.5-2.2l.5 3.8l.5-1.1l.5 .7l.5-2.6l.5-2.3l.5 4.8l.5-.7l.5-1.9l.5-.9l.5 .1l.5 .1l.5-.8l.5-3.0l.5 5.6l.5-4.5l.5 2.3l.5 .1l.5 1.1l.5-3.7l.5 5.6l.5-1.0l.5 .4l.5 1.1l.5-3.9l.5-4.4l.5 7.1l.5 2.2l.5-.1l.5-3.3l.5 1.0l.5 .8l.5-4.2l.5 2.2l.5 .1l.5 4.4l.5-4.5l.5 4.4l.5-3.2l.5-3.6l.5 7.5l.5-6.6l.5 2.9l.5 2.1l.5-4.4l.5-1.2l.5 4.7l.5-1.7l.5-2.3l.5 .4l.5 1.5l.5 2.7l.5-2.6l.5 1.8l.5 1.8l.5-.9l.5 .2l.5-.5l.5-5.7l.5 5.7l.5-1.7l.5-1.0l.5-1.9l.5-1.2l.5 .8l.5 2.0l.5-2.5l.5 .5l.5 .4l.5 2.6l.5-1.9l.5 .4l.5 3.1l.5-3.2l.5 2.0l.5-3.2l.5 2.9l.5-.4l.5 .2l.5-1.4l.5-1.2l.5 1.4l.5-.4l.5 3.0l.5-.3l.5-4.2l.5 3.6l.5-2.2l.5 1.8l.5-1.9l.5-2.0l.5 5.0l.5-1.2l.5-3.3l.5-1.4l.5 2.6l.5-1.4l.5 1.5l.5 1.8l.5 1.6l.5-3.7l.5 3.6l.5-.2l.5-3.0l.5-2.2l.5 5.4l.5-.2l.5 3.7l.5-1.6l.5-1.1l.5 2.0l.5-5.5l.5 2.6l.5-.9l.5 4.0l.5-2.3l.5-7.3l.5 8.8l.5-4.7l.5 3.2l.5-2.7l.5 1.2l.5 .6l.5-.9l.5-2.3l.5 4.8l.5-1.8l.5-.8l.5 1.5l.5-2.6l.5 4.7l.5-3.5l.5 .1l.5-.2l.5-2.6l.5-.6l.5 2.6l.5 .2l.5 2.0l.5-1.9l.5-3.0l.5 3.3l.5 .7l.5 .4l.5-1.3l.5-3.1l.5 4.7l.5-3.9l.5 2.4l.5-4.4l.5 4.5l.5-3.1l.5 3.9l.5 1.6l.5-1.0l.5-4.4l.5 .7l.5 .3l.5 3.1l.5-.6l.5-.3l.5 .3l.5 .6l.5 .1l.5 2.0l.5-3.7l.5 .3l.5-4.4l.5 .7l.5 1.0l.5-1.2l.5 2.6l.5 1.6l.5-3.0l.5-.1l.5 0l.5 1.5l.5-1.2l.5 2.1l.5-.1l.5 .1l.5 1.0l.5-1.3l.5 .3l.5 3.4l.5-3.6l.5 1.8l.5-1.5l.5-1.1l.5 .1l.5-.6l.5 1.8l.5-1.0l.5 .5l.5 3.5l.5-2.6l.5 2.7l.5-1.7l.5 1.3l.5-3.0l.5 1.5l.5 4.8l.5-3.9l.5 .1l.5-1.8l.5 .9l.5-4.3l.5 .5l.5 2.4l.5 .7l.5-2.5l.5 .5l.5-.3l.5 .5l.5-1.9l.5-.3l.5 3.0l.5-3.1l.5 1.7l.5 .8l.5-.6l.5 2.7l.5-1.3l.5 .9l.5-1.8l.5 .5l.5 2.5l.5-.4l.5-1.9l.5 1.4l.5-.6l.5-.2l.5 2.7l.5-4.0l.5 1.7l.5 .1l.5-1.3l.5-1.8l.5 3.8l.5-.7l.5-.3l.5 .2l.5 .2l.5-1.7l.5 2.5l.5-4.1l.5 3.5l.5-3.0l.5 2.3l.5 2.2l.5-1.9l.5-.3l.5 2.1l.5-1.5l.5-.2l.5 0l.5 3.8l.5-1.8l.5-.4l.5-3.5l.5 3.4l.5-4.0l.5 3.3l.5-3.4l.5 5.8l.5-7.5l.5 5.5l.5-1.1l.5-5.3l.5 3.0l.5 3.4l.5-.5l.5-5.4l.5 2.4l.5-1.1l.5 .4l.5 .8l.5 4.9l.5-3.4l.5-.7l.5-.2l.5 2.1l.5 .2l.5-3.0l.5 4.9l.5-4.9l.5 1.9l.5 1.6l.5 2.7l.5-4.0l.5 1.3l.5 1.9l.5-1.5l.5 .9l.5-.4l.5-1.8l.5 .5l.5 .4l.5-2.0l.5 3.2l.5-7.2l.5 2.2l.5 4.8l.5-1.9l.5-2.1l.5 2.0l.5 1.4l.5-3.3l.5 2.6l.5-1.8l.5 0l.5 .1l.5 2.4l.5-4.4l.5 1.5l.5 2.2l.5-3.7l.5-.7l.5 4.3l.5-1.3l.5-.4l.5 .5l.5-2.3l.5 7.8l.5-7.8l.5 1.2l.5-2.0l.5 2.0l.5 3.8l.5-3.1l.5 1.0l.5-2.3l.5 4.5l.5-3.4l.5-2.9l.5 4.1l.5-2.3l.5 2.1l.5-.9l.5 .4l.5-.2l.5-2.0l.5-1.1l.5 5.0l.5-2.2l.5 .9l.5-1.4l.5-3.0l.5 1.6l.5 5.5l.5-4.3l.5 .9l.5-2.2l.5 1.8l.5 .2l.5 .3l.5 .3l.5-1.1l.5 .2l.5 1.0l.5 .5l.5-1.1l.5 3.6l.5-3.3l.5-.2l.5-1.8l.5 3.4l.5-4.2l.5-1.2l.5 1.3l.5 3.1l.5-3.5l.5 4.8l.5-2.7l.5-3.0l.5 2.6l.5 4.0l.5-5.2l.5-.9l.5 3.7l.5 1.6l.5-.6l.5-2.7l.5 1.0l.5 .2l.5 1.7l.5 1.9l.5-4.5l.5 2.7l.5-3.4l.5 1.8l.5-3.1l.5 .3l.5 2.4l.5-2.5l.5 3.7l.5-2.7l.5 1.4l.5-.2l.5-.5l.5 1.0l.5 1.8l.5 4.0l.5-8.7l.5 2.9l.5-1.0l.5-1.4l.5 2.5l.5-2.2l.5 1.8l.5 2.8l.5-6.5l.5 4.6l.5 .4l.5-2.8l.5 2.9l.5-.4l.5-1.4l.5 3.1l.5-5.1l.5 3.9l.5-1.7l.5-1.6l.5 1.8l.5-.2l.5 2.4l.5-4.5l.5 2.7l.5-.6l.5 4.1l.5-5.6l.5 4.2l.5-5.9l.5 3.9l.5-1.2l.5 .9l.5-2.2l.5-2.4l.5 .9l.5 6.0l.5-2.0l.5-2.0l.5 3.6l.5-3.3l.5 0l.5-1.0l.5 4.8l.5 1.5l.5-5.9l.5 2.4l.5 1.3l.5 2.2l.5-9.0l.5 5.0l.5 1.0l.5-4.3l.5 3.7l.5-.5l.5 .9l.5-2.8l.5 1.8l.5-2.2l.5 2.2l.5-1.0l.5-1.1l.5-2.1l.5 6.2l.5-1.0l.5-.4l.5-3.1l.5 .7l.5 4.1l.5-1.8l.5-3.1l.5 2.0l.5 .2l.5-.5l.5-1.4l.5 4.5l.5-1.1l.5-1.5l.5-2.6l.5 2.1l.5 1.2l.5 1.7l.5-2.4l.5 2.9l.5-2.0l.5-1.9l.5-4.1l.5 3.1l.5-.7l.5 2.6l.5 1.0l.5 2.1l.5-2.9l.5-2.3l.5 6.9l.5-4.1l.5-1.2l.5 0l.5-2.1l.5 4.1l.5-.4l.5 2.6l.5-.8l.5-.3l.5 .8l.5-3.0l.5-.3l.5 .8l.5-2.4l.5 2.1l.5-.4l.5 1.8l.5-1.5l.5-4.0l.5 3.8l.5 2.6l.5-6.5l.5 2.2l.5 1.6l.5-2.7l.5 1.6l.5 1.1l.5-2.8l.5 3.2l.5 .2l.5-3.4l.5 2.6l.5 2.1l.5-2.7l.5 1.1l.5 .3l.5-1.8l.5 2.3l.5-1.2l.5-2.7l.5 3.1l.5 .7l.5 0l.5-2.9l.5 2.2l.5 1.7l.5-2.6l.5 1.6l.5-.2l.5-3.2l.5 .8l.5-2.6l.5 1.7l.5-3.7l.5-2.8l.5-1.4l.5-3.0l.5-1.6l.5-.8l.5-2.1l.5 3.9l.5 5.3l.5 2.8l.5 1.1l.5 6.6l.5-2.2l.5-1.8l.5 2.0l.5 1.5l.5-1.7l.5-4.1l.5 3.8l.5 0l.5 4.3l.5-8.0l.5 6.9l.5-3.3l.5 2.3l.5-2.3l.5 1.1l.5 2.1l.5-1.9l.5 2.1l.5-2.3l.5-.6l.5 .3l.5-.5l.5 .8l.5 3.0l.5-5.0l.5-.8l.5 3.3l.5 3.5l.5-1.3l.5 .5l.5-.2l.5-4.0l.5 1.6l.5-5.5l.5 4.1l.5 2.5l.5-4.3l.5-1.0l.5 1.5l.5 2.9l.5 1.8l.5 2.7l.5-2.3l.5-5.9l.5-1.6l.5 5.0l.5 1.9l.5-5.3l.5 2.2l.5 .1l.5 .8l.5-.6l.5 1.3l.5 1.0l.5-2.0l.5 1.4l.5 2.6l.5-5.8l.5 .1l.5 3.3l.5 2.8l.5-3.2l.5 1.9l.5-2.7l.5 2.5l.5-3.1l.5 2.6l.5-.7l.5-.2l.5 1.8l.5-.8l.5-3.4l.5 2.9l.5-5.2l.5 5.5l.5 3.5l.5-4.5l.5-.1l.5-1.0l.5 1.5l.5-2.7l.5 2.2l.5-1.8l.5-.2l.5 1.3l.5-.1l.5-3.2l.5 7.8l.5-3.8l.5-3.7l.5 5.4l.5-2.5l.5 .3l.5 .8l.5-3.2l.5-4.1l.5 6.0l.5 .9l.5 1.9l.5-3.3l.5 1.2l.5 1.5l.5-1.4l.5 .2l.5 .9l.5-2.5l.5 5.0l.5-5.1l.5 1.8l.5-.8l.5-.8l.5 2.6l.5 1.0l.5 1.1l.5-1.5l.5-1.9l.5 2.8l.5-4.7l.5 2.9l.5 .8l.5-.1l.5-3.6l.5-.9l.5 6.1l.5-4.5l.5-2.3l.5 .7l.5 2.6l.5 2.5l.5-2.2l.5 2.7l.5-1.7l.5 .7l.5 1.1l.5-2.8l.5 1.2l.5-1.5l.5-.6l.5 2.5l.5-2.9l.5 1.9l.5-1.5l.5 1.5l.5-.9l.5 3.1l.5-2.2l.5-.3l.5 2.8l.5-9.4l.5 3.3l.5-3.4l.5 5.5l.5 .9l.5 .6l.5-.7l.5-2.1l.5 5.2l.5-2.9l.5-1.2l.5-1.9l.5 3.0l.5-1.9l.5 0l.5 1.2l.5-.1l.5-2.2l.5 3.9l.5-4.6l.5-.5l.5 2.7l.5-.4l.5-.1l.5-.9l.5 1.1l.5-1.0l.5-1.8l.5 5.1l.5-3.1l.5 1.8l.5 2.1l.5-1.3l.5 5.6l.5-8.2l.5 1.3l.5 1.6l.5 2.5l.5-3.3l.5-2.5l.5 5.0l.5-4.3l.5 1.4l.5 2.0l.5-3.2l.5 .5l.5 1.9l.5-1.3l.5 1.0l.5-2.4l.5 1.7l.5-2.0l.5-1.0l.5 6.5l.5-2.7l.5 .8l.5-3.9l.5 1.7l.5-.6l.5-2.5l.5 3.9l.5-2.6l.5 1.2l.5-2.5l.5 5.2l.5-.3l.5-.5l.5-2.4l.5 .9l.5 3.6l.5-2.9l.5 1.1l.5-.3l.5-2.6l.5 5.1l.5-7.2l.5 4.2l.5-.8l.5-3.2l.5 3.8l.5 .4l.5-.8l.5-1.7l.5 2.8l.5 1.6l.5-1.6l.5 3.1l.5-1.6l.5-.2l.5 1.1l.5-4.2l.5 .1l.5 2.0l.5-.1l.5 1.9l.5-.7l.5-2.0l.5 .2l.5-.9l.5 0l.5-.1l.5 2.8l.5-2.8l.5 .1l.5 .8l.5-1.7l.5 .3l.5-4.2l.5 5.0l.5-1.4l.5 1.1l.5 .6l.5-4.2l.5 8.7l.5-4.2l.5 .1l.5-3.9l.5 4.8l.5-.5l.5-1.6l.5 1.2l.5 2.1l.5-3.2l.5-1.0l.5 4.5l.5-2.1l.5-.8l.5 5.0l.5-4.2l.5-.6l.5 1.0l.5-1.3l.5 1.2l.5-.3l.5-1.7l.5 .6l.5 1.1l.5 0l.5 .4l.5 .5l.5-.9l.5 .6l.5-1.6l.5 .3l.5 2.5l.5-6.1l.5 4.5l.5 5.4l.5-10.3l.5 6.5l.5-6.6l.5 4.1l.5 2.6l.5-.2l.5-4.6l.5-.6l.5 0l.5 4.4l.5-2.1l.5 .7l.5 .4l.5 .2l.5 .1l.5-.9l.5-3.5l.5 6.2l.5-8.3l.5 8.1l.5-3.5l.5 .9l.5-.6l.5 .5l.5 .8l.5-.5l.5-1.6l.5 3.8l.5-2.9l.5 3.7l.5-3.0l.5-1.1l.5 2.3l.5 1.0l.5-3.5l.5 1.2l.5 3.4l.5-4.9l.5 .3l.5 2.1l.5-2.7l.5-2.4l.5 1.7l.5 4.2l.5 .7l.5-.1l.5-.4l.5-3.2l.5 3.8l.5 .9l.5-3.7l.5 3.3l.5-2.6l.5 1.1l.5 .4l.5-3.8l.5 5.9l.5-4.6l.5 1.5l.5-.7l.5 1.9l.5 0l.5-.7l.5 2.8l.5-2.2l.5-1.4l.5-5.0l.5 5.2l.5-.4l.5-1.6l.5-.4l.5 2.4l.5 .5l.5 1.2l.5-2.0l.5-4.2l.5 1.6l.5-3.6l.5 3.9l.5-1.0l.5-2.1l.5 .7l.5-.5l.5-1.1l.5 3.6l.5 3.3l.5-4.8l.5 .2l.5-2.0l.5-.7l.5 5.5l.5-4.8l.5 1.7l.5-.8l.5 1.5l.5-1.3l.5 1.4l.5-3.6l.5 2.5l.5 3.3l.5-4.5l.5 1.2l.5 4.6l.5-1.4l.5 1.9l.5-6.1l.5 5.3l.5-2.5l.5 0l.5 3.7l.5 1.4l.5-5.5l.5 .7l.5 1.1l.5 1.0l.5-2.3l.5 7.3l.5-3.4l.5-2.0l.5-.6l.5 5.4l.5-.5l.5-5.7l.5 1.5l.5 1.8l.5-4.9l.5 1.2l.5 3.9l.5-4.1l.5 .6l.5-1.8l.5 1.3l.5 3.1l.5-2.9l.5-.9l.5 1.5l.5 4.9l.5-3.2l.5-1.5l.5 1.4l.5 .6l.5-.6l.5-3.8l.5 4.3l.5-.8l.5 2.3l.5-4.1l.5 5.0l.5-2.9l.5-2.2l.5 6.2l.5-3.6l.5 1.8l.5-1.2l.5 2.4l.5-.2l.5-.2l.5-1.1l.5-4.8l.5-.2l.5 3.9l.5-2.1l.5 3.2l.5-.3l.5-2.8l.5 1.0l.5-.1l.5 .5l.5 1.3l.5 1.6l.5 1.1l.5-4.9l.5 .7l.5 4.1l.5-1.5l.5-1.5l.5-5.3l.5 2.6l.5 2.3l.5-1.4l.5 5.2l.5-3.8l.5 .5l.5-2.8l.5 0l.5 .7l.5 0l.5 .7l.5 1.2l.5-.4l.5 1.5l.5-4.8l.5 3.1l.5 .1l.5 2.8l.5-3.5l.5 1.3l.5-2.1l.5 2.8l.5 .2l.5-1.9l.5 .4l.5 .9l.5 1.2l.5-3.6l.5 3.9l.5-2.7l.5 4.3l.5-1.1l.5-4.0l.5-.5l.5 6.2l.5-3.7l.5-.2l.5-2.1l.5 .4l.5 1.7l.5-.5l.5-3.0l.5 4.1l.5-1.9l.5-2.6l.5 3.8l.5-2.5l.5 1.6l.5-3.0l.5 1.5l.5-4.5l.5 3.7l.5-4.2l.5 3.1l.5-5.8l.5 4.8l.5 1.4l.5-.8l.5 1.0l.5-5.1l.5 4.9l.5-.4l.5-6.4l.5 .4l.5 0l.5 .8l.5 .1l.5-6.0l.5 6.1l.5-2.1l.5-1.8l.5 4.1l.5-2.5l.5 3.4l.5-.9l.5-1.4l.5 3.6l.5-.3l.5-2.2l.5-1.7l.5 2.8l.5 3.0l.5-1.1l.5 4.7l.5-2.5l.5 .4l.5 .9l.5-2.2l.5 1.9l.5-.8l.5-3.3l.5 1.2l.5 5.0l.5-2.6l.5 .5l.5-2.8l.5 1.8l.5 2.9l.5-1.3l.5-1.0l.5 4.4l.5-3.0l.5-.3l.5 3.2l.5-5.6l.5 4.8l.5-3.2l.5 .8l.5 .2l.5 1.5l.5-.2l.5 .2l.5-.5l.5 2.3l.5 .5l.5-2.1l.5 .2l.5-2.3l.5-1.3l.5 3.5l.5-.9l.5 1.9l.5-5.1l.5 9.3l.5-7.8l.5 2.8l.5 1.9l.5-4.9l.5 1.5l.5-3.2l.5 1.0l.5-1.3l.5 4.0l.5 .4l.5-1.2l.5 3.2l.5 .3l.5-2.8l.5-.4l.5-.2l.5-.4l.5 3.5l.5-2.1l.5-1.1l.5 .3l.5 1.7l.5-1.9l.5 1.5l.5-.6l.5 3.0l.5-.3l.5-5.0l.5 2.6l.5 1.9l.5-2.3l.5 2.5l.5-1.0l.5 .4l.5-1.4l.5 .5l.5 .2l.5-4.3l.5 .9l.5-.6l.5 5.2l.5-3.1l.5 0l.5-.4l.5-1.4l.5-.4l.5 3.3l.5-2.5l.5 3.9l.5-2.9l.5-.3l.5-.7l.5 .3l.5 .2l.5 2.9l.5 1.6l.5-7.1l.5 2.8l.5 1.0l.5-3.2l.5 .7l.5 .5l.5-3.9l.5 6.2l.5-1.5l.5-.2l.5 .2l.5 .3l.5 4.3l.5-4.1l.5 1.5l.5-2.4l.5 2.0l.5-1.1l.5 .4l.5-1.6l.5 .1l.5 2.5l.5 .4l.5-.6l.5-2.3l.5 2.2l.5-5.6l.5 7.3l.5-1.9l.5 .7l.5 1.6l.5-3.4l.5 2.5l.5-3.1l.5 1.9l.5-2.0l.5 1.6l.5 2.5l.5-4.0l.5 .4l.5 .8l.5 1.5l.5 5.0l.5-6.6l.5-2.8l.5 2.8l.5-1.7l.5 2.3l.5 1.3l.5-1.8l.5 .6l.5-2.4l.5 4.1l.5-1.8l.5 3.7l.5-.1l.5-3.8l.5 1.1l.5 .8l.5 1.2l.5-5.1l.5 2.9l.5 3.6l.5-4.3l.5 .3l.5-.7l.5-2.6l.5 4.2l.5-1.4l.5-.2l.5 1.2l.5 .1l.5-5.3l.5 4.7l.5-2.2l.5 1.4l.5-1.8l.5-.4l.5 3.5l.5-2.0l.5-.7l.5 0l.5 .8l.5-.1l.5-4.6l.5 3.2l.5 1.4l.5 2.1l.5 1.4l.5-4.6l.5 5.8l.5-3.8l.5 .7l.5-2.1l.5-.3l.5 4.1l.5-3.4l.5 .3l.5 2.7l.5 1.3l.5-6.2l.5 2.9l.5 .5l.5 3.8l.5 1.4l.5-5.0l.5 .9l.5 1.0l.5 .6l.5-2.9l.5 2.3l.5-3.1l.5-4.0l.5 2.6l.5 3.2l.5 1.1l.5-6.1l.5 .9l.5 3.6l.5-6.6l.5 8.0l.5 1.0l.5-8.0l.5 7.6l.5-1.9l.5 3.2l.5-2.3l.5-1.1l.5 .6l.5 1.5l.5-1.6l.5-.5l.5-3.1l.5 3.6l.5-1.0l.5 3.4l.5-3.8l.5-.3l.5-1.2l.5 2.7l.5-1.8l.5-.9l.5 4.8l.5 .5l.5-4.2l.5-.8l.5 4.6l.5-3.7l.5 7.6l.5-5.8l.5 2.3l.5-4.5l.5 2.5l.5 2.2l.5-1.3l.5-2.0l.5 5.9l.5-3.5l.5-2.0l.5-.8l.5 .6l.5 3.4l.5-4.2l.5 1.7l.5-1.6l.5 4.1l.5-2.9l.5 2.0l.5-.7l.5-2.4l.5 2.6l.5 .5l.5-4.1l.5 3.8l.5 5.8l.5-7.7l.5 1.9l.5-3.9l.5 3.6l.5-2.1l.5 2.7l.5-1.7l.5-2.3l.5 4.5l.5-2.8l.5-1.7l.5 2.1l.5-2.1l.5 2.7l.5-1.0l.5-.6l.5 2.1l.5-3.8l.5 4.7l.5-5.8l.5 7.6l.5-2.7l.5-.8l.5-1.0l.5 2.4l.5-1.7l.5-.4l.5 2.3l.5-3.1l.5 .4l.5 1.4l.5 1.4l.5-2.3l.5 .7l.5-.2l.5 1.4l.5 1.4l.5-4.9l.5 1.5l.5 0l.5 1.1l.5 1.6l.5-3.2l.5 .3l.5 1.7l.5-4.9l.5 .8l.5 .5l.5 .7l.5 .4l.5-1.6l.5 4.6l.5-5.1l.5 1.0l.5 2.5l.5-.7l.5-1.7l.5 .8l.5 .9l.5-1.6l.5 1.5l.5-3.0l.5 2.2l.5-3.3l.5 1.6l.5-.5l.5 4.7l.5-3.6l.5 1.3l.5-2.6l.5 1.3l.5-.3l.5-1.3l.5 3.5l.5-5.0l.5 4.7l.5 4.3l.5-6.9l.5 2.0l.5-3.0l.5 3.3l.5-3.1l.5 5.1l.5-2.0l.5-2.4l.5 1.4l.5-.4l.5 2.8l.5 2.3l.5-2.6l.5-1.8l.5 .5l.5 1.7l.5-5.4l.5 6.1l.5-.4l.5-5.8l.5 7.5l.5-5.7l.5 3.0l.5 2.9l.5-5.8l.5-.6l.5 1.3l.5 0l.5 1.8l.5-.8l.5 .1l.5 .2l.5 .8l.5-1.3l.5 2.5l.5-.8l.5-2.2l.5 5.5l.5-6.6l.5 3.9l.5-3.2l.5 2.2l.5 .2l.5 .7l.5 1.2l.5-4.6l.5 7.6l.5-5.0l.5-2.4l.5-.9l.5 7.8l.5-1.3l.5-3.2l.5 1.7l.5 1.2l.5-2.6l.5-1.2l.5 .5l.5 1.5l.5-2.0l.5-2.9l.5 3.8l.5-5.2l.5 2.0l.5 4.2l.5-1.9l.5 .2l.5-.1l.5 2.0l.5-2.2l.5-4.0l.5 4.3l.5-6.9l.5 2.0l.5 7.3l.5-1.2l.5-3.1l.5 .8l.5 .4l.5 2.0l.5-3.5l.5 0l.5 .9l.5 1.9l.5 .6l.5-1.0l.5 2.5l.5-3.5l.5 1.9l.5-1.3l.5-.7l.5 4.4l.5-3.2l.5-1.5l.5 2.2l.5-2.0l.5 3.3l.5 .7l.5 .5l.5-4.2l.5 1.9l.5 4.0l.5-4.2l.5 3.0l.5 .5l.5-6.0l.5 5.2l.5-1.0l.5 .2l.5 1.5l.5-2.6l.5-.8l.5 1.1l.5-1.9l.5 1.8l.5-5.2l.5 7.6l.5-4.7l.5 2.0l.5-.6l.5-.5l.5 0"/>
<g fill="#000"><circle cx="125.5" cy="258.5" r="5.6"/><circle cx="163.4" cy="187.4" r="5.6"/><circle cx="198.4" cy="259.5" r="5.6"/><circle cx="218.5" cy="247.6" r="5.6"/><circle cx="249.4" cy="253.5" r="5.6"/><circle cx="263.6" cy="253.5" r="5.6"/><circle cx="490.3" cy="37.3" r="5.6"/><circle cx="523.5" cy="253.5" r="5.6"/><circle cx="567.4" cy="249.2" r="5.6"/><circle cx="589.4" cy="214.5" r="5.6"/><circle cx="602.3" cy="243.5" r="5.6"/><circle cx="625.5" cy="116.6" r="5.6"/><circle cx="750.3" cy="252.5" r="5.6"/><path d="M490.3 46.3L498.0 56.0L490.3 65.7L482.6 56.0Z"/><path d="M625.5 124.7L633.2 134.4L625.5 144.1L617.8 134.4Z"/><path d="M1048.7 232.2L1056.4 241.9L1048.7 251.6L1041.0 241.9Z"/><path d="M1322.0 235.9L1329.7 245.6L1322.0 255.3L1314.3 245.6Z"/><path d="M211.8 223.7L227.2 223.7L219.5 235.9Z"/><path d="M522.8 234.7L538.2 234.7L530.5 246.9Z"/><path d="M618.8 91.7L634.2 91.7L626.5 103.9Z"/></g></g>
<g id="ticks" fill="#000"><rect x="211.1" y="1063" width="5.8" height="8"/><rect x="315.0" y="1052" width="5.8" height="19"/><rect x="419.0" y="1063" width="5.8" height="8"/><rect x="523.0" y="1052" width="5.8" height="19"/><rect x="626.9" y="1063" width="5.8" height="8"/><rect x="730.9" y="1052" width="5.8" height="19"/><rect x="834.9" y="1063" width="5.8" height="8"/><rect x="938.8" y="1052" width="5.8" height="19"/><rect x="1042.8" y="1063" width="5.8" height="8"/><rect x="1146.7" y="1052" width="5.8" height="19"/><rect x="1250.7" y="1063" width="5.8" height="8"/><rect x="1354.7" y="1052" width="5.8" height="19"/><rect x="1458.6" y="1063" width="5.8" height="8"/></g>
<rect x="110.0" y="26.5" width="1455.5" height="1046.2" fill="none" stroke="#000" stroke-width="6.4"/>
<text class="tk" x="111.5" y="1131" textLength="56.6" lengthAdjust="spacingAndGlyphs">20</text><text class="tk" x="319.4" y="1131" textLength="56.6" lengthAdjust="spacingAndGlyphs">30</text><text class="tk" x="527.4" y="1131" textLength="56.6" lengthAdjust="spacingAndGlyphs">40</text><text class="tk" x="735.3" y="1131" textLength="56.6" lengthAdjust="spacingAndGlyphs">50</text><text class="tk" x="943.2" y="1131" textLength="56.6" lengthAdjust="spacingAndGlyphs">60</text><text class="tk" x="1151.1" y="1131" textLength="56.6" lengthAdjust="spacingAndGlyphs">70</text><text class="tk" x="1359.1" y="1131" textLength="56.6" lengthAdjust="spacingAndGlyphs">80</text><text class="tk" x="1567.0" y="1131" textLength="56.6" lengthAdjust="spacingAndGlyphs">90</text>
<text class="ax" x="677.3" y="1203.3" textLength="293.5" lengthAdjust="spacing">2-Theta (°)</text>
<text class="ax" transform="translate(59.6,737.5) rotate(-90)" textLength="410" lengthAdjust="spacing">Intensity (a.u.)</text>
<text class="lb" x="1400.9" y="272" textLength="152.4" lengthAdjust="spacingAndGlyphs">BBC-10-2</text><text class="lb" x="1373.7" y="521.4" textLength="181.5" lengthAdjust="spacingAndGlyphs">BBC-10-1.5</text><text class="lb" x="1406.6" y="681" textLength="149.6" lengthAdjust="spacingAndGlyphs">BBC-10-1</text><text class="lb" x="1375.4" y="787.4" textLength="182.3" lengthAdjust="spacingAndGlyphs">BBC-10-0.5</text><text class="lb" x="1367.5" y="907.4" textLength="190.2" lengthAdjust="spacingAndGlyphs">BBC-6.6-0.5</text><text class="lb" x="1397.2" y="1013.7" textLength="162.7" lengthAdjust="spacingAndGlyphs">BBC-5-0.5</text>
<g id="legend" fill="#000"><path d="M974.6 104.0L984.9 117.4L974.6 130.8L964.3 117.4Z"/><text class="ds" x="993.3" y="122.6">——</text><text class="lg" x="1041.8" y="128.2" textLength="47.1" lengthAdjust="spacingAndGlyphs">Al</text><circle cx="1136.3" cy="114.6" r="8.5"/><text class="ds" x="1148.2" y="122.6">——</text><text class="lg" x="1198.3" y="128.2"><tspan textLength="103.5" lengthAdjust="spacingAndGlyphs">FeAl</tspan><tspan style="font-size:34px" x="1300.5" y="142.2">3</tspan></text><path d="M1337.2 103.9L1364.0 103.9L1350.6 126.9Z"/><text class="ds" x="1368.6" y="122.6">——</text><text class="lg" x="1417.3" y="128.2" textLength="112.5" lengthAdjust="spacingAndGlyphs">AlCu</text></g>
</svg>
</body></html>
